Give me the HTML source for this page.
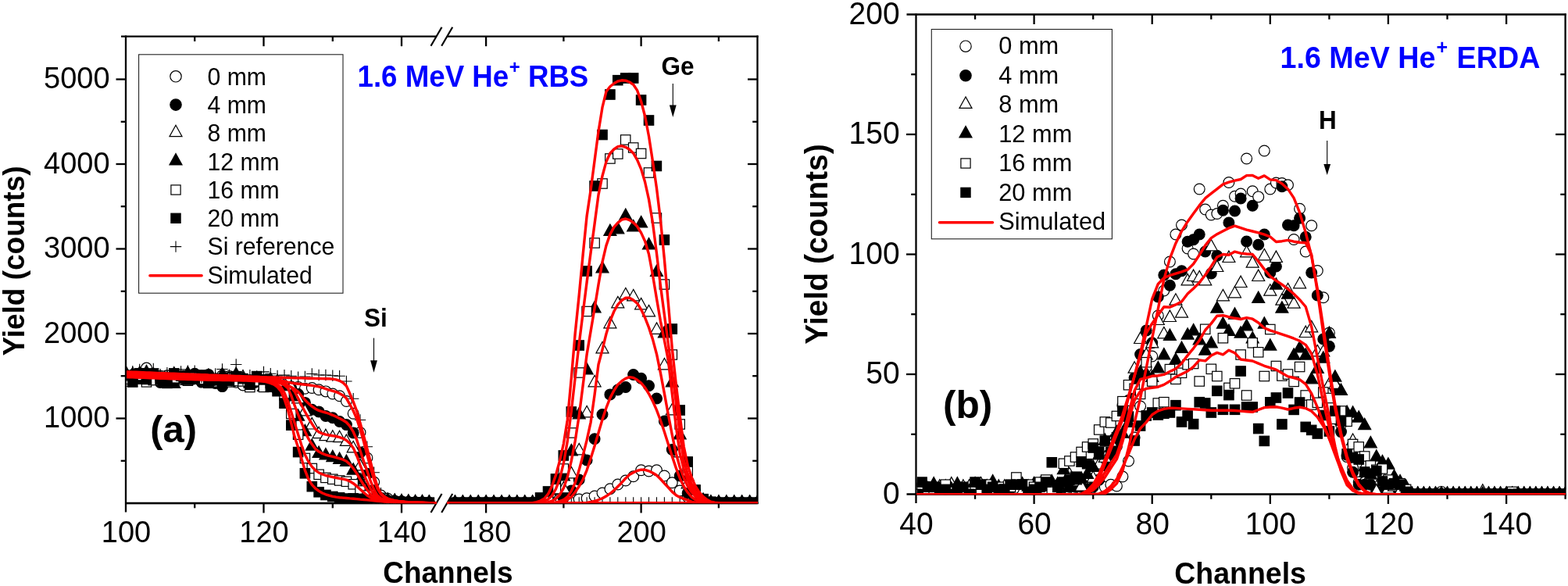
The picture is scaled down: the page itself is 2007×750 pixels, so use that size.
<!DOCTYPE html>
<html lang="en"><head><meta charset="utf-8"><title>RBS and ERDA spectra</title>
<style>
html,body{margin:0;padding:0;background:#fff}
body{width:2007px;height:750px;overflow:hidden}
svg{display:block;font-family:'Liberation Sans', sans-serif}
</style></head><body>
<svg width="2007" height="750" viewBox="0 0 2007 750">
<rect width="2007" height="750" fill="#fff"/>
<g id="panel-a">
<clipPath id="ca"><rect x="162.1" y="47.8" width="807.9" height="596.6"/></clipPath>
<line x1="161" y1="45.6" x2="161" y2="655.5" stroke="#000" stroke-width="2.3" stroke-linecap="butt"/><line x1="969.5" y1="45.6" x2="969.5" y2="645.1" stroke="#000" stroke-width="2.3" stroke-linecap="butt"/><line x1="155" y1="46.7" x2="558.5" y2="46.7" stroke="#000" stroke-width="2.3" stroke-linecap="butt"/><line x1="572" y1="46.7" x2="970.6" y2="46.7" stroke="#000" stroke-width="2.3" stroke-linecap="butt"/><line x1="161" y1="644" x2="558.5" y2="644" stroke="#000" stroke-width="2.3" stroke-linecap="butt"/><line x1="572" y1="644" x2="970.6" y2="644" stroke="#000" stroke-width="2.3" stroke-linecap="butt"/><line x1="551.5" y1="58.7" x2="565.5" y2="34.7" stroke="#000" stroke-width="2.2" stroke-linecap="butt"/><line x1="565.2" y1="58.7" x2="579.2" y2="34.7" stroke="#000" stroke-width="2.2" stroke-linecap="butt"/><line x1="551.5" y1="656" x2="565.5" y2="632" stroke="#000" stroke-width="2.2" stroke-linecap="butt"/><line x1="565.2" y1="656" x2="579.2" y2="632" stroke="#000" stroke-width="2.2" stroke-linecap="butt"/><line x1="154.7" y1="589.8" x2="161" y2="589.8" stroke="#000" stroke-width="2.3" stroke-linecap="butt"/><line x1="963.2" y1="589.8" x2="969.5" y2="589.8" stroke="#000" stroke-width="2.3" stroke-linecap="butt"/><line x1="148.5" y1="535.5" x2="161" y2="535.5" stroke="#000" stroke-width="2.3" stroke-linecap="butt"/><line x1="957" y1="535.5" x2="969.5" y2="535.5" stroke="#000" stroke-width="2.3" stroke-linecap="butt"/><text transform="translate(140.6,547.1) scale(1,1.045)" font-size="38.0" font-weight="normal" text-anchor="end" fill="#000">1000</text><line x1="154.7" y1="481.2" x2="161" y2="481.2" stroke="#000" stroke-width="2.3" stroke-linecap="butt"/><line x1="963.2" y1="481.2" x2="969.5" y2="481.2" stroke="#000" stroke-width="2.3" stroke-linecap="butt"/><line x1="148.5" y1="427" x2="161" y2="427" stroke="#000" stroke-width="2.3" stroke-linecap="butt"/><line x1="957" y1="427" x2="969.5" y2="427" stroke="#000" stroke-width="2.3" stroke-linecap="butt"/><text transform="translate(140.6,438.6) scale(1,1.045)" font-size="38.0" font-weight="normal" text-anchor="end" fill="#000">2000</text><line x1="154.7" y1="372.8" x2="161" y2="372.8" stroke="#000" stroke-width="2.3" stroke-linecap="butt"/><line x1="963.2" y1="372.8" x2="969.5" y2="372.8" stroke="#000" stroke-width="2.3" stroke-linecap="butt"/><line x1="148.5" y1="318.5" x2="161" y2="318.5" stroke="#000" stroke-width="2.3" stroke-linecap="butt"/><line x1="957" y1="318.5" x2="969.5" y2="318.5" stroke="#000" stroke-width="2.3" stroke-linecap="butt"/><text transform="translate(140.6,330.1) scale(1,1.045)" font-size="38.0" font-weight="normal" text-anchor="end" fill="#000">3000</text><line x1="154.7" y1="264.2" x2="161" y2="264.2" stroke="#000" stroke-width="2.3" stroke-linecap="butt"/><line x1="963.2" y1="264.2" x2="969.5" y2="264.2" stroke="#000" stroke-width="2.3" stroke-linecap="butt"/><line x1="148.5" y1="210" x2="161" y2="210" stroke="#000" stroke-width="2.3" stroke-linecap="butt"/><line x1="957" y1="210" x2="969.5" y2="210" stroke="#000" stroke-width="2.3" stroke-linecap="butt"/><text transform="translate(140.6,221.6) scale(1,1.045)" font-size="38.0" font-weight="normal" text-anchor="end" fill="#000">4000</text><line x1="154.7" y1="155.8" x2="161" y2="155.8" stroke="#000" stroke-width="2.3" stroke-linecap="butt"/><line x1="963.2" y1="155.8" x2="969.5" y2="155.8" stroke="#000" stroke-width="2.3" stroke-linecap="butt"/><line x1="148.5" y1="101.5" x2="161" y2="101.5" stroke="#000" stroke-width="2.3" stroke-linecap="butt"/><line x1="957" y1="101.5" x2="969.5" y2="101.5" stroke="#000" stroke-width="2.3" stroke-linecap="butt"/><text transform="translate(140.6,113.1) scale(1,1.045)" font-size="38.0" font-weight="normal" text-anchor="end" fill="#000">5000</text><text transform="translate(161.5,694) scale(1,1.045)" font-size="38.0" font-weight="normal" text-anchor="middle" fill="#000">100</text><line x1="249.2" y1="644" x2="249.2" y2="650.3" stroke="#000" stroke-width="2.3" stroke-linecap="butt"/><line x1="249.2" y1="46.7" x2="249.2" y2="53" stroke="#000" stroke-width="2.3" stroke-linecap="butt"/><line x1="337.5" y1="644" x2="337.5" y2="656.5" stroke="#000" stroke-width="2.3" stroke-linecap="butt"/><line x1="337.5" y1="46.7" x2="337.5" y2="59.2" stroke="#000" stroke-width="2.3" stroke-linecap="butt"/><text transform="translate(338,694) scale(1,1.045)" font-size="38.0" font-weight="normal" text-anchor="middle" fill="#000">120</text><line x1="425.8" y1="644" x2="425.8" y2="650.3" stroke="#000" stroke-width="2.3" stroke-linecap="butt"/><line x1="425.8" y1="46.7" x2="425.8" y2="53" stroke="#000" stroke-width="2.3" stroke-linecap="butt"/><line x1="514" y1="644" x2="514" y2="656.5" stroke="#000" stroke-width="2.3" stroke-linecap="butt"/><line x1="514" y1="46.7" x2="514" y2="59.2" stroke="#000" stroke-width="2.3" stroke-linecap="butt"/><text transform="translate(514.5,694) scale(1,1.045)" font-size="38.0" font-weight="normal" text-anchor="middle" fill="#000">140</text><line x1="622.1" y1="644" x2="622.1" y2="656.5" stroke="#000" stroke-width="2.3" stroke-linecap="butt"/><line x1="622.1" y1="46.7" x2="622.1" y2="59.2" stroke="#000" stroke-width="2.3" stroke-linecap="butt"/><text transform="translate(622.6,694) scale(1,1.045)" font-size="38.0" font-weight="normal" text-anchor="middle" fill="#000">180</text><line x1="721.4" y1="644" x2="721.4" y2="650.3" stroke="#000" stroke-width="2.3" stroke-linecap="butt"/><line x1="721.4" y1="46.7" x2="721.4" y2="53" stroke="#000" stroke-width="2.3" stroke-linecap="butt"/><line x1="820.6" y1="644" x2="820.6" y2="656.5" stroke="#000" stroke-width="2.3" stroke-linecap="butt"/><line x1="820.6" y1="46.7" x2="820.6" y2="59.2" stroke="#000" stroke-width="2.3" stroke-linecap="butt"/><text transform="translate(821.1,694) scale(1,1.045)" font-size="38.0" font-weight="normal" text-anchor="middle" fill="#000">200</text><line x1="919.9" y1="644" x2="919.9" y2="650.3" stroke="#000" stroke-width="2.3" stroke-linecap="butt"/><line x1="919.9" y1="46.7" x2="919.9" y2="53" stroke="#000" stroke-width="2.3" stroke-linecap="butt"/>
<g clip-path="url(#ca)">
<circle cx="161" cy="487.5" r="6.9" fill="#fff" stroke="#000" stroke-width="1.2"/><circle cx="169.8" cy="479.8" r="6.9" fill="#fff" stroke="#000" stroke-width="1.2"/><circle cx="178.7" cy="479.4" r="6.9" fill="#fff" stroke="#000" stroke-width="1.2"/><circle cx="187.5" cy="471.1" r="6.9" fill="#fff" stroke="#000" stroke-width="1.2"/><circle cx="196.3" cy="482.1" r="6.9" fill="#fff" stroke="#000" stroke-width="1.2"/><circle cx="205.1" cy="481.3" r="6.9" fill="#fff" stroke="#000" stroke-width="1.2"/><circle cx="213.9" cy="480.8" r="6.9" fill="#fff" stroke="#000" stroke-width="1.2"/><circle cx="222.8" cy="484.6" r="6.9" fill="#fff" stroke="#000" stroke-width="1.2"/><circle cx="231.6" cy="485.4" r="6.9" fill="#fff" stroke="#000" stroke-width="1.2"/><circle cx="240.4" cy="479.8" r="6.9" fill="#fff" stroke="#000" stroke-width="1.2"/><circle cx="249.2" cy="480.9" r="6.9" fill="#fff" stroke="#000" stroke-width="1.2"/><circle cx="258.1" cy="482.9" r="6.9" fill="#fff" stroke="#000" stroke-width="1.2"/><circle cx="266.9" cy="487.9" r="6.9" fill="#fff" stroke="#000" stroke-width="1.2"/><circle cx="275.7" cy="487.7" r="6.9" fill="#fff" stroke="#000" stroke-width="1.2"/><circle cx="284.5" cy="480.5" r="6.9" fill="#fff" stroke="#000" stroke-width="1.2"/><circle cx="293.4" cy="481.5" r="6.9" fill="#fff" stroke="#000" stroke-width="1.2"/><circle cx="302.2" cy="489.2" r="6.9" fill="#fff" stroke="#000" stroke-width="1.2"/><circle cx="311" cy="492.9" r="6.9" fill="#fff" stroke="#000" stroke-width="1.2"/><circle cx="319.9" cy="486.8" r="6.9" fill="#fff" stroke="#000" stroke-width="1.2"/><circle cx="328.7" cy="484.6" r="6.9" fill="#fff" stroke="#000" stroke-width="1.2"/><circle cx="337.5" cy="492.2" r="6.9" fill="#fff" stroke="#000" stroke-width="1.2"/><circle cx="346.3" cy="488.1" r="6.9" fill="#fff" stroke="#000" stroke-width="1.2"/><circle cx="355.1" cy="490.9" r="6.9" fill="#fff" stroke="#000" stroke-width="1.2"/><circle cx="364" cy="494.2" r="6.9" fill="#fff" stroke="#000" stroke-width="1.2"/><circle cx="372.8" cy="494.9" r="6.9" fill="#fff" stroke="#000" stroke-width="1.2"/><circle cx="381.6" cy="495.4" r="6.9" fill="#fff" stroke="#000" stroke-width="1.2"/><circle cx="390.4" cy="497.3" r="6.9" fill="#fff" stroke="#000" stroke-width="1.2"/><circle cx="399.3" cy="496.5" r="6.9" fill="#fff" stroke="#000" stroke-width="1.2"/><circle cx="408.1" cy="498.7" r="6.9" fill="#fff" stroke="#000" stroke-width="1.2"/><circle cx="416.9" cy="500.9" r="6.9" fill="#fff" stroke="#000" stroke-width="1.2"/><circle cx="425.8" cy="504" r="6.9" fill="#fff" stroke="#000" stroke-width="1.2"/><circle cx="434.6" cy="506.7" r="6.9" fill="#fff" stroke="#000" stroke-width="1.2"/><circle cx="443.4" cy="513.5" r="6.9" fill="#fff" stroke="#000" stroke-width="1.2"/><circle cx="452.2" cy="529.2" r="6.9" fill="#fff" stroke="#000" stroke-width="1.2"/><circle cx="461" cy="553.5" r="6.9" fill="#fff" stroke="#000" stroke-width="1.2"/><circle cx="469.9" cy="586" r="6.9" fill="#fff" stroke="#000" stroke-width="1.2"/><circle cx="478.7" cy="617.1" r="6.9" fill="#fff" stroke="#000" stroke-width="1.2"/><circle cx="487.5" cy="634" r="6.9" fill="#fff" stroke="#000" stroke-width="1.2"/><circle cx="496.3" cy="638.2" r="6.9" fill="#fff" stroke="#000" stroke-width="1.2"/><circle cx="505.2" cy="640.9" r="6.9" fill="#fff" stroke="#000" stroke-width="1.2"/><circle cx="514" cy="641.7" r="6.9" fill="#fff" stroke="#000" stroke-width="1.2"/><circle cx="522.8" cy="642.5" r="6.9" fill="#fff" stroke="#000" stroke-width="1.2"/><circle cx="531.6" cy="643" r="6.9" fill="#fff" stroke="#000" stroke-width="1.2"/><circle cx="540.5" cy="643.3" r="6.9" fill="#fff" stroke="#000" stroke-width="1.2"/><circle cx="549.3" cy="643.5" r="6.9" fill="#fff" stroke="#000" stroke-width="1.2"/><circle cx="582.4" cy="643.5" r="6.9" fill="#fff" stroke="#000" stroke-width="1.2"/><circle cx="592.3" cy="643.5" r="6.9" fill="#fff" stroke="#000" stroke-width="1.2"/><circle cx="602.2" cy="643.5" r="6.9" fill="#fff" stroke="#000" stroke-width="1.2"/><circle cx="612.2" cy="643.5" r="6.9" fill="#fff" stroke="#000" stroke-width="1.2"/><circle cx="622.1" cy="643.5" r="6.9" fill="#fff" stroke="#000" stroke-width="1.2"/><circle cx="632" cy="643.5" r="6.9" fill="#fff" stroke="#000" stroke-width="1.2"/><circle cx="642" cy="643.5" r="6.9" fill="#fff" stroke="#000" stroke-width="1.2"/><circle cx="651.9" cy="643.5" r="6.9" fill="#fff" stroke="#000" stroke-width="1.2"/><circle cx="661.8" cy="643.5" r="6.9" fill="#fff" stroke="#000" stroke-width="1.2"/><circle cx="671.7" cy="643.5" r="6.9" fill="#fff" stroke="#000" stroke-width="1.2"/><circle cx="681.6" cy="643.5" r="6.9" fill="#fff" stroke="#000" stroke-width="1.2"/><circle cx="691.6" cy="643.5" r="6.9" fill="#fff" stroke="#000" stroke-width="1.2"/><circle cx="701.5" cy="643.5" r="6.9" fill="#fff" stroke="#000" stroke-width="1.2"/><circle cx="711.4" cy="643.5" r="6.9" fill="#fff" stroke="#000" stroke-width="1.2"/><circle cx="721.4" cy="643.5" r="6.9" fill="#fff" stroke="#000" stroke-width="1.2"/><circle cx="731.3" cy="643.5" r="6.9" fill="#fff" stroke="#000" stroke-width="1.2"/><circle cx="741.2" cy="639" r="6.9" fill="#fff" stroke="#000" stroke-width="1.2"/><circle cx="751.1" cy="637.7" r="6.9" fill="#fff" stroke="#000" stroke-width="1.2"/><circle cx="761.1" cy="635" r="6.9" fill="#fff" stroke="#000" stroke-width="1.2"/><circle cx="771" cy="631" r="6.9" fill="#fff" stroke="#000" stroke-width="1.2"/><circle cx="780.9" cy="625.7" r="6.9" fill="#fff" stroke="#000" stroke-width="1.2"/><circle cx="790.8" cy="620" r="6.9" fill="#fff" stroke="#000" stroke-width="1.2"/><circle cx="800.8" cy="615" r="6.9" fill="#fff" stroke="#000" stroke-width="1.2"/><circle cx="810.7" cy="609.7" r="6.9" fill="#fff" stroke="#000" stroke-width="1.2"/><circle cx="820.6" cy="601.7" r="6.9" fill="#fff" stroke="#000" stroke-width="1.2"/><circle cx="830.5" cy="603" r="6.9" fill="#fff" stroke="#000" stroke-width="1.2"/><circle cx="840.5" cy="601.7" r="6.9" fill="#fff" stroke="#000" stroke-width="1.2"/><circle cx="850.4" cy="609" r="6.9" fill="#fff" stroke="#000" stroke-width="1.2"/><circle cx="860.3" cy="617.7" r="6.9" fill="#fff" stroke="#000" stroke-width="1.2"/><circle cx="870.2" cy="628" r="6.9" fill="#fff" stroke="#000" stroke-width="1.2"/><circle cx="880.2" cy="636" r="6.9" fill="#fff" stroke="#000" stroke-width="1.2"/><circle cx="890.1" cy="640" r="6.9" fill="#fff" stroke="#000" stroke-width="1.2"/><circle cx="900" cy="643.5" r="6.9" fill="#fff" stroke="#000" stroke-width="1.2"/><circle cx="909.9" cy="643.5" r="6.9" fill="#fff" stroke="#000" stroke-width="1.2"/><circle cx="919.9" cy="643.5" r="6.9" fill="#fff" stroke="#000" stroke-width="1.2"/><circle cx="929.8" cy="643.5" r="6.9" fill="#fff" stroke="#000" stroke-width="1.2"/><circle cx="939.7" cy="643.5" r="6.9" fill="#fff" stroke="#000" stroke-width="1.2"/><circle cx="949.6" cy="643.5" r="6.9" fill="#fff" stroke="#000" stroke-width="1.2"/><circle cx="959.6" cy="643.5" r="6.9" fill="#fff" stroke="#000" stroke-width="1.2"/><circle cx="969.5" cy="643.5" r="6.9" fill="#fff" stroke="#000" stroke-width="1.2"/>
<circle cx="161" cy="480.3" r="6.9" fill="#000" stroke="#000" stroke-width="1.2"/><circle cx="169.8" cy="484.5" r="6.9" fill="#000" stroke="#000" stroke-width="1.2"/><circle cx="178.7" cy="484.6" r="6.9" fill="#000" stroke="#000" stroke-width="1.2"/><circle cx="187.5" cy="485.6" r="6.9" fill="#000" stroke="#000" stroke-width="1.2"/><circle cx="196.3" cy="485.1" r="6.9" fill="#000" stroke="#000" stroke-width="1.2"/><circle cx="205.1" cy="489.4" r="6.9" fill="#000" stroke="#000" stroke-width="1.2"/><circle cx="213.9" cy="488.4" r="6.9" fill="#000" stroke="#000" stroke-width="1.2"/><circle cx="222.8" cy="487.2" r="6.9" fill="#000" stroke="#000" stroke-width="1.2"/><circle cx="231.6" cy="482.4" r="6.9" fill="#000" stroke="#000" stroke-width="1.2"/><circle cx="240.4" cy="482.7" r="6.9" fill="#000" stroke="#000" stroke-width="1.2"/><circle cx="249.2" cy="478.3" r="6.9" fill="#000" stroke="#000" stroke-width="1.2"/><circle cx="258.1" cy="489.1" r="6.9" fill="#000" stroke="#000" stroke-width="1.2"/><circle cx="266.9" cy="479.4" r="6.9" fill="#000" stroke="#000" stroke-width="1.2"/><circle cx="275.7" cy="490.5" r="6.9" fill="#000" stroke="#000" stroke-width="1.2"/><circle cx="284.5" cy="494.6" r="6.9" fill="#000" stroke="#000" stroke-width="1.2"/><circle cx="293.4" cy="483.3" r="6.9" fill="#000" stroke="#000" stroke-width="1.2"/><circle cx="302.2" cy="485.1" r="6.9" fill="#000" stroke="#000" stroke-width="1.2"/><circle cx="311" cy="486.3" r="6.9" fill="#000" stroke="#000" stroke-width="1.2"/><circle cx="319.9" cy="491.9" r="6.9" fill="#000" stroke="#000" stroke-width="1.2"/><circle cx="328.7" cy="485.7" r="6.9" fill="#000" stroke="#000" stroke-width="1.2"/><circle cx="337.5" cy="489.3" r="6.9" fill="#000" stroke="#000" stroke-width="1.2"/><circle cx="346.3" cy="489" r="6.9" fill="#000" stroke="#000" stroke-width="1.2"/><circle cx="355.1" cy="491.3" r="6.9" fill="#000" stroke="#000" stroke-width="1.2"/><circle cx="364" cy="496.1" r="6.9" fill="#000" stroke="#000" stroke-width="1.2"/><circle cx="372.8" cy="497.1" r="6.9" fill="#000" stroke="#000" stroke-width="1.2"/><circle cx="381.6" cy="504.5" r="6.9" fill="#000" stroke="#000" stroke-width="1.2"/><circle cx="390.4" cy="515.4" r="6.9" fill="#000" stroke="#000" stroke-width="1.2"/><circle cx="399.3" cy="524.2" r="6.9" fill="#000" stroke="#000" stroke-width="1.2"/><circle cx="408.1" cy="526.9" r="6.9" fill="#000" stroke="#000" stroke-width="1.2"/><circle cx="416.9" cy="532.4" r="6.9" fill="#000" stroke="#000" stroke-width="1.2"/><circle cx="425.8" cy="534.8" r="6.9" fill="#000" stroke="#000" stroke-width="1.2"/><circle cx="434.6" cy="539.5" r="6.9" fill="#000" stroke="#000" stroke-width="1.2"/><circle cx="443.4" cy="543.6" r="6.9" fill="#000" stroke="#000" stroke-width="1.2"/><circle cx="452.2" cy="553.9" r="6.9" fill="#000" stroke="#000" stroke-width="1.2"/><circle cx="461" cy="579.1" r="6.9" fill="#000" stroke="#000" stroke-width="1.2"/><circle cx="469.9" cy="606.3" r="6.9" fill="#000" stroke="#000" stroke-width="1.2"/><circle cx="478.7" cy="627.8" r="6.9" fill="#000" stroke="#000" stroke-width="1.2"/><circle cx="487.5" cy="637.8" r="6.9" fill="#000" stroke="#000" stroke-width="1.2"/><circle cx="496.3" cy="640.6" r="6.9" fill="#000" stroke="#000" stroke-width="1.2"/><circle cx="505.2" cy="641.5" r="6.9" fill="#000" stroke="#000" stroke-width="1.2"/><circle cx="514" cy="641.9" r="6.9" fill="#000" stroke="#000" stroke-width="1.2"/><circle cx="522.8" cy="642.9" r="6.9" fill="#000" stroke="#000" stroke-width="1.2"/><circle cx="531.6" cy="642.8" r="6.9" fill="#000" stroke="#000" stroke-width="1.2"/><circle cx="540.5" cy="643.1" r="6.9" fill="#000" stroke="#000" stroke-width="1.2"/><circle cx="549.3" cy="643.5" r="6.9" fill="#000" stroke="#000" stroke-width="1.2"/><circle cx="582.4" cy="643.5" r="6.9" fill="#000" stroke="#000" stroke-width="1.2"/><circle cx="592.3" cy="643.5" r="6.9" fill="#000" stroke="#000" stroke-width="1.2"/><circle cx="602.2" cy="643.5" r="6.9" fill="#000" stroke="#000" stroke-width="1.2"/><circle cx="612.2" cy="643.5" r="6.9" fill="#000" stroke="#000" stroke-width="1.2"/><circle cx="622.1" cy="643.5" r="6.9" fill="#000" stroke="#000" stroke-width="1.2"/><circle cx="632" cy="643.5" r="6.9" fill="#000" stroke="#000" stroke-width="1.2"/><circle cx="642" cy="643.5" r="6.9" fill="#000" stroke="#000" stroke-width="1.2"/><circle cx="651.9" cy="643.5" r="6.9" fill="#000" stroke="#000" stroke-width="1.2"/><circle cx="661.8" cy="643.5" r="6.9" fill="#000" stroke="#000" stroke-width="1.2"/><circle cx="671.7" cy="643.5" r="6.9" fill="#000" stroke="#000" stroke-width="1.2"/><circle cx="681.6" cy="643.5" r="6.9" fill="#000" stroke="#000" stroke-width="1.2"/><circle cx="691.6" cy="643.5" r="6.9" fill="#000" stroke="#000" stroke-width="1.2"/><circle cx="701.5" cy="643.5" r="6.9" fill="#000" stroke="#000" stroke-width="1.2"/><circle cx="711.4" cy="643.5" r="6.9" fill="#000" stroke="#000" stroke-width="1.2"/><circle cx="721.4" cy="637" r="6.9" fill="#000" stroke="#000" stroke-width="1.2"/><circle cx="731.3" cy="628" r="6.9" fill="#000" stroke="#000" stroke-width="1.2"/><circle cx="741.2" cy="614" r="6.9" fill="#000" stroke="#000" stroke-width="1.2"/><circle cx="751.1" cy="589" r="6.9" fill="#000" stroke="#000" stroke-width="1.2"/><circle cx="761.1" cy="561.7" r="6.9" fill="#000" stroke="#000" stroke-width="1.2"/><circle cx="771" cy="530.5" r="6.9" fill="#000" stroke="#000" stroke-width="1.2"/><circle cx="780.9" cy="504.9" r="6.9" fill="#000" stroke="#000" stroke-width="1.2"/><circle cx="790.8" cy="499" r="6.9" fill="#000" stroke="#000" stroke-width="1.2"/><circle cx="800.8" cy="495.5" r="6.9" fill="#000" stroke="#000" stroke-width="1.2"/><circle cx="810.7" cy="479.5" r="6.9" fill="#000" stroke="#000" stroke-width="1.2"/><circle cx="820.6" cy="484.3" r="6.9" fill="#000" stroke="#000" stroke-width="1.2"/><circle cx="830.5" cy="493.7" r="6.9" fill="#000" stroke="#000" stroke-width="1.2"/><circle cx="840.5" cy="510" r="6.9" fill="#000" stroke="#000" stroke-width="1.2"/><circle cx="850.4" cy="539" r="6.9" fill="#000" stroke="#000" stroke-width="1.2"/><circle cx="860.3" cy="575.5" r="6.9" fill="#000" stroke="#000" stroke-width="1.2"/><circle cx="870.2" cy="609" r="6.9" fill="#000" stroke="#000" stroke-width="1.2"/><circle cx="880.2" cy="631" r="6.9" fill="#000" stroke="#000" stroke-width="1.2"/><circle cx="890.1" cy="639.6" r="6.9" fill="#000" stroke="#000" stroke-width="1.2"/><circle cx="900" cy="643.2" r="6.9" fill="#000" stroke="#000" stroke-width="1.2"/><circle cx="909.9" cy="643.5" r="6.9" fill="#000" stroke="#000" stroke-width="1.2"/><circle cx="919.9" cy="643.5" r="6.9" fill="#000" stroke="#000" stroke-width="1.2"/><circle cx="929.8" cy="643.5" r="6.9" fill="#000" stroke="#000" stroke-width="1.2"/><circle cx="939.7" cy="643.5" r="6.9" fill="#000" stroke="#000" stroke-width="1.2"/><circle cx="949.6" cy="643.5" r="6.9" fill="#000" stroke="#000" stroke-width="1.2"/><circle cx="959.6" cy="643.5" r="6.9" fill="#000" stroke="#000" stroke-width="1.2"/><circle cx="969.5" cy="643.5" r="6.9" fill="#000" stroke="#000" stroke-width="1.2"/>
<path d="M161 472.2L169 486.6L153 486.6Z" fill="#fff" stroke="#000" stroke-width="1.2"/><path d="M169.8 470.8L177.8 485.2L161.8 485.2Z" fill="#fff" stroke="#000" stroke-width="1.2"/><path d="M178.7 472.4L186.7 486.8L170.7 486.8Z" fill="#fff" stroke="#000" stroke-width="1.2"/><path d="M187.5 467.2L195.5 481.6L179.5 481.6Z" fill="#fff" stroke="#000" stroke-width="1.2"/><path d="M196.3 477.5L204.3 491.9L188.3 491.9Z" fill="#fff" stroke="#000" stroke-width="1.2"/><path d="M205.1 475.4L213.1 489.8L197.1 489.8Z" fill="#fff" stroke="#000" stroke-width="1.2"/><path d="M213.9 475L221.9 489.4L205.9 489.4Z" fill="#fff" stroke="#000" stroke-width="1.2"/><path d="M222.8 469.6L230.8 484L214.8 484Z" fill="#fff" stroke="#000" stroke-width="1.2"/><path d="M231.6 472.3L239.6 486.7L223.6 486.7Z" fill="#fff" stroke="#000" stroke-width="1.2"/><path d="M240.4 477.6L248.4 492L232.4 492Z" fill="#fff" stroke="#000" stroke-width="1.2"/><path d="M249.2 476.9L257.2 491.3L241.2 491.3Z" fill="#fff" stroke="#000" stroke-width="1.2"/><path d="M258.1 474.2L266.1 488.6L250.1 488.6Z" fill="#fff" stroke="#000" stroke-width="1.2"/><path d="M266.9 478.6L274.9 493L258.9 493Z" fill="#fff" stroke="#000" stroke-width="1.2"/><path d="M275.7 480.6L283.7 495L267.7 495Z" fill="#fff" stroke="#000" stroke-width="1.2"/><path d="M284.5 474.4L292.5 488.8L276.5 488.8Z" fill="#fff" stroke="#000" stroke-width="1.2"/><path d="M293.4 475.3L301.4 489.7L285.4 489.7Z" fill="#fff" stroke="#000" stroke-width="1.2"/><path d="M302.2 474.3L310.2 488.7L294.2 488.7Z" fill="#fff" stroke="#000" stroke-width="1.2"/><path d="M311 473.5L319 487.9L303 487.9Z" fill="#fff" stroke="#000" stroke-width="1.2"/><path d="M319.9 481.8L327.9 496.2L311.9 496.2Z" fill="#fff" stroke="#000" stroke-width="1.2"/><path d="M328.7 481.1L336.7 495.5L320.7 495.5Z" fill="#fff" stroke="#000" stroke-width="1.2"/><path d="M337.5 481.1L345.5 495.5L329.5 495.5Z" fill="#fff" stroke="#000" stroke-width="1.2"/><path d="M346.3 477.3L354.3 491.7L338.3 491.7Z" fill="#fff" stroke="#000" stroke-width="1.2"/><path d="M355.1 478.9L363.1 493.3L347.1 493.3Z" fill="#fff" stroke="#000" stroke-width="1.2"/><path d="M364 482.5L372 496.9L356 496.9Z" fill="#fff" stroke="#000" stroke-width="1.2"/><path d="M372.8 486.7L380.8 501.1L364.8 501.1Z" fill="#fff" stroke="#000" stroke-width="1.2"/><path d="M381.6 501.4L389.6 515.8L373.6 515.8Z" fill="#fff" stroke="#000" stroke-width="1.2"/><path d="M390.4 517.5L398.4 531.9L382.4 531.9Z" fill="#fff" stroke="#000" stroke-width="1.2"/><path d="M399.3 534.6L407.3 549L391.3 549Z" fill="#fff" stroke="#000" stroke-width="1.2"/><path d="M408.1 546.2L416.1 560.6L400.1 560.6Z" fill="#fff" stroke="#000" stroke-width="1.2"/><path d="M416.9 549.3L424.9 563.7L408.9 563.7Z" fill="#fff" stroke="#000" stroke-width="1.2"/><path d="M425.8 550.8L433.8 565.2L417.8 565.2Z" fill="#fff" stroke="#000" stroke-width="1.2"/><path d="M434.6 551.2L442.6 565.6L426.6 565.6Z" fill="#fff" stroke="#000" stroke-width="1.2"/><path d="M443.4 556L451.4 570.4L435.4 570.4Z" fill="#fff" stroke="#000" stroke-width="1.2"/><path d="M452.2 564.5L460.2 578.9L444.2 578.9Z" fill="#fff" stroke="#000" stroke-width="1.2"/><path d="M461 587.4L469 601.8L453 601.8Z" fill="#fff" stroke="#000" stroke-width="1.2"/><path d="M469.9 607.3L477.9 621.7L461.9 621.7Z" fill="#fff" stroke="#000" stroke-width="1.2"/><path d="M478.7 623.1L486.7 637.5L470.7 637.5Z" fill="#fff" stroke="#000" stroke-width="1.2"/><path d="M487.5 629.1L495.5 643.5L479.5 643.5Z" fill="#fff" stroke="#000" stroke-width="1.2"/><path d="M496.3 631.2L504.3 645.6L488.3 645.6Z" fill="#fff" stroke="#000" stroke-width="1.2"/><path d="M505.2 631.9L513.2 646.3L497.2 646.3Z" fill="#fff" stroke="#000" stroke-width="1.2"/><path d="M514 632.5L522 646.9L506 646.9Z" fill="#fff" stroke="#000" stroke-width="1.2"/><path d="M522.8 632.9L530.8 647.3L514.8 647.3Z" fill="#fff" stroke="#000" stroke-width="1.2"/><path d="M531.6 633.5L539.6 647.9L523.6 647.9Z" fill="#fff" stroke="#000" stroke-width="1.2"/><path d="M540.5 633.5L548.5 647.9L532.5 647.9Z" fill="#fff" stroke="#000" stroke-width="1.2"/><path d="M549.3 633.9L557.3 648.3L541.3 648.3Z" fill="#fff" stroke="#000" stroke-width="1.2"/><path d="M582.4 633.9L590.4 648.3L574.4 648.3Z" fill="#fff" stroke="#000" stroke-width="1.2"/><path d="M592.3 633.9L600.3 648.3L584.3 648.3Z" fill="#fff" stroke="#000" stroke-width="1.2"/><path d="M602.2 633.9L610.2 648.3L594.2 648.3Z" fill="#fff" stroke="#000" stroke-width="1.2"/><path d="M612.2 633.9L620.2 648.3L604.2 648.3Z" fill="#fff" stroke="#000" stroke-width="1.2"/><path d="M622.1 633.9L630.1 648.3L614.1 648.3Z" fill="#fff" stroke="#000" stroke-width="1.2"/><path d="M632 633.9L640 648.3L624 648.3Z" fill="#fff" stroke="#000" stroke-width="1.2"/><path d="M642 633.9L650 648.3L634 648.3Z" fill="#fff" stroke="#000" stroke-width="1.2"/><path d="M651.9 633.9L659.9 648.3L643.9 648.3Z" fill="#fff" stroke="#000" stroke-width="1.2"/><path d="M661.8 633.9L669.8 648.3L653.8 648.3Z" fill="#fff" stroke="#000" stroke-width="1.2"/><path d="M671.7 633.9L679.7 648.3L663.7 648.3Z" fill="#fff" stroke="#000" stroke-width="1.2"/><path d="M681.6 633.9L689.6 648.3L673.6 648.3Z" fill="#fff" stroke="#000" stroke-width="1.2"/><path d="M691.6 633.9L699.6 648.3L683.6 648.3Z" fill="#fff" stroke="#000" stroke-width="1.2"/><path d="M701.5 633.9L709.5 648.3L693.5 648.3Z" fill="#fff" stroke="#000" stroke-width="1.2"/><path d="M711.4 633.3L719.4 647.7L703.4 647.7Z" fill="#fff" stroke="#000" stroke-width="1.2"/><path d="M721.4 616.4L729.4 630.8L713.4 630.8Z" fill="#fff" stroke="#000" stroke-width="1.2"/><path d="M731.3 597.4L739.3 611.8L723.3 611.8Z" fill="#fff" stroke="#000" stroke-width="1.2"/><path d="M741.2 567.4L749.2 581.8L733.2 581.8Z" fill="#fff" stroke="#000" stroke-width="1.2"/><path d="M751.1 519.4L759.1 533.8L743.1 533.8Z" fill="#fff" stroke="#000" stroke-width="1.2"/><path d="M761.1 480.4L769.1 494.8L753.1 494.8Z" fill="#fff" stroke="#000" stroke-width="1.2"/><path d="M771 437.4L779 451.8L763 451.8Z" fill="#fff" stroke="#000" stroke-width="1.2"/><path d="M780.9 405.4L788.9 419.8L772.9 419.8Z" fill="#fff" stroke="#000" stroke-width="1.2"/><path d="M790.8 379.4L798.8 393.8L782.8 393.8Z" fill="#fff" stroke="#000" stroke-width="1.2"/><path d="M800.8 368.4L808.8 382.8L792.8 382.8Z" fill="#fff" stroke="#000" stroke-width="1.2"/><path d="M810.7 370.4L818.7 384.8L802.7 384.8Z" fill="#fff" stroke="#000" stroke-width="1.2"/><path d="M820.6 381.4L828.6 395.8L812.6 395.8Z" fill="#fff" stroke="#000" stroke-width="1.2"/><path d="M830.5 390.4L838.5 404.8L822.5 404.8Z" fill="#fff" stroke="#000" stroke-width="1.2"/><path d="M840.5 412.9L848.5 427.3L832.5 427.3Z" fill="#fff" stroke="#000" stroke-width="1.2"/><path d="M850.4 458.4L858.4 472.8L842.4 472.8Z" fill="#fff" stroke="#000" stroke-width="1.2"/><path d="M860.3 516.4L868.3 530.8L852.3 530.8Z" fill="#fff" stroke="#000" stroke-width="1.2"/><path d="M870.2 570.4L878.2 584.8L862.2 584.8Z" fill="#fff" stroke="#000" stroke-width="1.2"/><path d="M880.2 610.4L888.2 624.8L872.2 624.8Z" fill="#fff" stroke="#000" stroke-width="1.2"/><path d="M890.1 625.4L898.1 639.8L882.1 639.8Z" fill="#fff" stroke="#000" stroke-width="1.2"/><path d="M900 632.3L908 646.7L892 646.7Z" fill="#fff" stroke="#000" stroke-width="1.2"/><path d="M909.9 633.9L917.9 648.3L901.9 648.3Z" fill="#fff" stroke="#000" stroke-width="1.2"/><path d="M919.9 633.9L927.9 648.3L911.9 648.3Z" fill="#fff" stroke="#000" stroke-width="1.2"/><path d="M929.8 633.9L937.8 648.3L921.8 648.3Z" fill="#fff" stroke="#000" stroke-width="1.2"/><path d="M939.7 633.9L947.7 648.3L931.7 648.3Z" fill="#fff" stroke="#000" stroke-width="1.2"/><path d="M949.6 633.9L957.6 648.3L941.6 648.3Z" fill="#fff" stroke="#000" stroke-width="1.2"/><path d="M959.6 633.9L967.6 648.3L951.6 648.3Z" fill="#fff" stroke="#000" stroke-width="1.2"/><path d="M969.5 633.9L977.5 648.3L961.5 648.3Z" fill="#fff" stroke="#000" stroke-width="1.2"/>
<path d="M161 467.9L169 482.3L153 482.3Z" fill="#000" stroke="#000" stroke-width="1.2"/><path d="M169.8 470.1L177.8 484.5L161.8 484.5Z" fill="#000" stroke="#000" stroke-width="1.2"/><path d="M178.7 468.9L186.7 483.3L170.7 483.3Z" fill="#000" stroke="#000" stroke-width="1.2"/><path d="M187.5 469.1L195.5 483.5L179.5 483.5Z" fill="#000" stroke="#000" stroke-width="1.2"/><path d="M196.3 470.3L204.3 484.7L188.3 484.7Z" fill="#000" stroke="#000" stroke-width="1.2"/><path d="M205.1 475.9L213.1 490.3L197.1 490.3Z" fill="#000" stroke="#000" stroke-width="1.2"/><path d="M213.9 480.6L221.9 495L205.9 495Z" fill="#000" stroke="#000" stroke-width="1.2"/><path d="M222.8 482L230.8 496.4L214.8 496.4Z" fill="#000" stroke="#000" stroke-width="1.2"/><path d="M231.6 476.3L239.6 490.7L223.6 490.7Z" fill="#000" stroke="#000" stroke-width="1.2"/><path d="M240.4 468.7L248.4 483.1L232.4 483.1Z" fill="#000" stroke="#000" stroke-width="1.2"/><path d="M249.2 476.6L257.2 491L241.2 491Z" fill="#000" stroke="#000" stroke-width="1.2"/><path d="M258.1 475.8L266.1 490.2L250.1 490.2Z" fill="#000" stroke="#000" stroke-width="1.2"/><path d="M266.9 478.8L274.9 493.2L258.9 493.2Z" fill="#000" stroke="#000" stroke-width="1.2"/><path d="M275.7 477.1L283.7 491.5L267.7 491.5Z" fill="#000" stroke="#000" stroke-width="1.2"/><path d="M284.5 470.6L292.5 485L276.5 485Z" fill="#000" stroke="#000" stroke-width="1.2"/><path d="M293.4 479.7L301.4 494.1L285.4 494.1Z" fill="#000" stroke="#000" stroke-width="1.2"/><path d="M302.2 470L310.2 484.4L294.2 484.4Z" fill="#000" stroke="#000" stroke-width="1.2"/><path d="M311 475.8L319 490.2L303 490.2Z" fill="#000" stroke="#000" stroke-width="1.2"/><path d="M319.9 480.1L327.9 494.5L311.9 494.5Z" fill="#000" stroke="#000" stroke-width="1.2"/><path d="M328.7 480.6L336.7 495L320.7 495Z" fill="#000" stroke="#000" stroke-width="1.2"/><path d="M337.5 486L345.5 500.4L329.5 500.4Z" fill="#000" stroke="#000" stroke-width="1.2"/><path d="M346.3 476.7L354.3 491.1L338.3 491.1Z" fill="#000" stroke="#000" stroke-width="1.2"/><path d="M355.1 482.4L363.1 496.8L347.1 496.8Z" fill="#000" stroke="#000" stroke-width="1.2"/><path d="M364 486.3L372 500.7L356 500.7Z" fill="#000" stroke="#000" stroke-width="1.2"/><path d="M372.8 498.4L380.8 512.8L364.8 512.8Z" fill="#000" stroke="#000" stroke-width="1.2"/><path d="M381.6 523.8L389.6 538.2L373.6 538.2Z" fill="#000" stroke="#000" stroke-width="1.2"/><path d="M390.4 543.3L398.4 557.7L382.4 557.7Z" fill="#000" stroke="#000" stroke-width="1.2"/><path d="M399.3 561.7L407.3 576.1L391.3 576.1Z" fill="#000" stroke="#000" stroke-width="1.2"/><path d="M408.1 571L416.1 585.4L400.1 585.4Z" fill="#000" stroke="#000" stroke-width="1.2"/><path d="M416.9 573.6L424.9 588L408.9 588Z" fill="#000" stroke="#000" stroke-width="1.2"/><path d="M425.8 576.2L433.8 590.6L417.8 590.6Z" fill="#000" stroke="#000" stroke-width="1.2"/><path d="M434.6 579L442.6 593.4L426.6 593.4Z" fill="#000" stroke="#000" stroke-width="1.2"/><path d="M443.4 582.1L451.4 596.5L435.4 596.5Z" fill="#000" stroke="#000" stroke-width="1.2"/><path d="M452.2 592.7L460.2 607.1L444.2 607.1Z" fill="#000" stroke="#000" stroke-width="1.2"/><path d="M461 605.6L469 620L453 620Z" fill="#000" stroke="#000" stroke-width="1.2"/><path d="M469.9 618.7L477.9 633.1L461.9 633.1Z" fill="#000" stroke="#000" stroke-width="1.2"/><path d="M478.7 627.4L486.7 641.8L470.7 641.8Z" fill="#000" stroke="#000" stroke-width="1.2"/><path d="M487.5 630.4L495.5 644.8L479.5 644.8Z" fill="#000" stroke="#000" stroke-width="1.2"/><path d="M496.3 631.6L504.3 646L488.3 646Z" fill="#000" stroke="#000" stroke-width="1.2"/><path d="M505.2 632.1L513.2 646.5L497.2 646.5Z" fill="#000" stroke="#000" stroke-width="1.2"/><path d="M514 632.7L522 647.1L506 647.1Z" fill="#000" stroke="#000" stroke-width="1.2"/><path d="M522.8 633.1L530.8 647.5L514.8 647.5Z" fill="#000" stroke="#000" stroke-width="1.2"/><path d="M531.6 633.5L539.6 647.9L523.6 647.9Z" fill="#000" stroke="#000" stroke-width="1.2"/><path d="M540.5 633.6L548.5 648L532.5 648Z" fill="#000" stroke="#000" stroke-width="1.2"/><path d="M549.3 633.8L557.3 648.2L541.3 648.2Z" fill="#000" stroke="#000" stroke-width="1.2"/><path d="M582.4 633.9L590.4 648.3L574.4 648.3Z" fill="#000" stroke="#000" stroke-width="1.2"/><path d="M592.3 633.9L600.3 648.3L584.3 648.3Z" fill="#000" stroke="#000" stroke-width="1.2"/><path d="M602.2 633.9L610.2 648.3L594.2 648.3Z" fill="#000" stroke="#000" stroke-width="1.2"/><path d="M612.2 633.9L620.2 648.3L604.2 648.3Z" fill="#000" stroke="#000" stroke-width="1.2"/><path d="M622.1 633.9L630.1 648.3L614.1 648.3Z" fill="#000" stroke="#000" stroke-width="1.2"/><path d="M632 633.9L640 648.3L624 648.3Z" fill="#000" stroke="#000" stroke-width="1.2"/><path d="M642 633.9L650 648.3L634 648.3Z" fill="#000" stroke="#000" stroke-width="1.2"/><path d="M651.9 633.9L659.9 648.3L643.9 648.3Z" fill="#000" stroke="#000" stroke-width="1.2"/><path d="M661.8 633.9L669.8 648.3L653.8 648.3Z" fill="#000" stroke="#000" stroke-width="1.2"/><path d="M671.7 633.9L679.7 648.3L663.7 648.3Z" fill="#000" stroke="#000" stroke-width="1.2"/><path d="M681.6 633.9L689.6 648.3L673.6 648.3Z" fill="#000" stroke="#000" stroke-width="1.2"/><path d="M691.6 633.9L699.6 648.3L683.6 648.3Z" fill="#000" stroke="#000" stroke-width="1.2"/><path d="M701.5 633.1L709.5 647.5L693.5 647.5Z" fill="#000" stroke="#000" stroke-width="1.2"/><path d="M711.4 618.4L719.4 632.8L703.4 632.8Z" fill="#000" stroke="#000" stroke-width="1.2"/><path d="M721.4 600.4L729.4 614.8L713.4 614.8Z" fill="#000" stroke="#000" stroke-width="1.2"/><path d="M731.3 568.4L739.3 582.8L723.3 582.8Z" fill="#000" stroke="#000" stroke-width="1.2"/><path d="M741.2 521.4L749.2 535.8L733.2 535.8Z" fill="#000" stroke="#000" stroke-width="1.2"/><path d="M751.1 464.4L759.1 478.8L743.1 478.8Z" fill="#000" stroke="#000" stroke-width="1.2"/><path d="M761.1 385.4L769.1 399.8L753.1 399.8Z" fill="#000" stroke="#000" stroke-width="1.2"/><path d="M771 334.4L779 348.8L763 348.8Z" fill="#000" stroke="#000" stroke-width="1.2"/><path d="M780.9 287.1L788.9 301.5L772.9 301.5Z" fill="#000" stroke="#000" stroke-width="1.2"/><path d="M790.8 284.4L798.8 298.8L782.8 298.8Z" fill="#000" stroke="#000" stroke-width="1.2"/><path d="M800.8 267.1L808.8 281.5L792.8 281.5Z" fill="#000" stroke="#000" stroke-width="1.2"/><path d="M810.7 281.4L818.7 295.8L802.7 295.8Z" fill="#000" stroke="#000" stroke-width="1.2"/><path d="M820.6 276.4L828.6 290.8L812.6 290.8Z" fill="#000" stroke="#000" stroke-width="1.2"/><path d="M830.5 304.4L838.5 318.8L822.5 318.8Z" fill="#000" stroke="#000" stroke-width="1.2"/><path d="M840.5 339.1L848.5 353.5L832.5 353.5Z" fill="#000" stroke="#000" stroke-width="1.2"/><path d="M850.4 417.4L858.4 431.8L842.4 431.8Z" fill="#000" stroke="#000" stroke-width="1.2"/><path d="M860.3 480.4L868.3 494.8L852.3 494.8Z" fill="#000" stroke="#000" stroke-width="1.2"/><path d="M870.2 547.4L878.2 561.8L862.2 561.8Z" fill="#000" stroke="#000" stroke-width="1.2"/><path d="M880.2 600.4L888.2 614.8L872.2 614.8Z" fill="#000" stroke="#000" stroke-width="1.2"/><path d="M890.1 624.4L898.1 638.8L882.1 638.8Z" fill="#000" stroke="#000" stroke-width="1.2"/><path d="M900 630.9L908 645.3L892 645.3Z" fill="#000" stroke="#000" stroke-width="1.2"/><path d="M909.9 633.9L917.9 648.3L901.9 648.3Z" fill="#000" stroke="#000" stroke-width="1.2"/><path d="M919.9 633.9L927.9 648.3L911.9 648.3Z" fill="#000" stroke="#000" stroke-width="1.2"/><path d="M929.8 633.9L937.8 648.3L921.8 648.3Z" fill="#000" stroke="#000" stroke-width="1.2"/><path d="M939.7 633.9L947.7 648.3L931.7 648.3Z" fill="#000" stroke="#000" stroke-width="1.2"/><path d="M949.6 633.9L957.6 648.3L941.6 648.3Z" fill="#000" stroke="#000" stroke-width="1.2"/><path d="M959.6 633.9L967.6 648.3L951.6 648.3Z" fill="#000" stroke="#000" stroke-width="1.2"/><path d="M969.5 633.9L977.5 648.3L961.5 648.3Z" fill="#000" stroke="#000" stroke-width="1.2"/>
<rect x="154.8" y="479.1" width="12.4" height="12.4" fill="#fff" stroke="#000" stroke-width="1.2"/><rect x="163.6" y="474.5" width="12.4" height="12.4" fill="#fff" stroke="#000" stroke-width="1.2"/><rect x="172.5" y="471.7" width="12.4" height="12.4" fill="#fff" stroke="#000" stroke-width="1.2"/><rect x="181.3" y="482.7" width="12.4" height="12.4" fill="#fff" stroke="#000" stroke-width="1.2"/><rect x="190.1" y="480.4" width="12.4" height="12.4" fill="#fff" stroke="#000" stroke-width="1.2"/><rect x="198.9" y="475.1" width="12.4" height="12.4" fill="#fff" stroke="#000" stroke-width="1.2"/><rect x="207.8" y="477.1" width="12.4" height="12.4" fill="#fff" stroke="#000" stroke-width="1.2"/><rect x="216.6" y="477.6" width="12.4" height="12.4" fill="#fff" stroke="#000" stroke-width="1.2"/><rect x="225.4" y="473" width="12.4" height="12.4" fill="#fff" stroke="#000" stroke-width="1.2"/><rect x="234.2" y="481" width="12.4" height="12.4" fill="#fff" stroke="#000" stroke-width="1.2"/><rect x="243.1" y="477.1" width="12.4" height="12.4" fill="#fff" stroke="#000" stroke-width="1.2"/><rect x="251.9" y="479.3" width="12.4" height="12.4" fill="#fff" stroke="#000" stroke-width="1.2"/><rect x="260.7" y="483.7" width="12.4" height="12.4" fill="#fff" stroke="#000" stroke-width="1.2"/><rect x="269.5" y="480.5" width="12.4" height="12.4" fill="#fff" stroke="#000" stroke-width="1.2"/><rect x="278.3" y="483.2" width="12.4" height="12.4" fill="#fff" stroke="#000" stroke-width="1.2"/><rect x="287.2" y="482.8" width="12.4" height="12.4" fill="#fff" stroke="#000" stroke-width="1.2"/><rect x="296" y="481.4" width="12.4" height="12.4" fill="#fff" stroke="#000" stroke-width="1.2"/><rect x="304.8" y="481.7" width="12.4" height="12.4" fill="#fff" stroke="#000" stroke-width="1.2"/><rect x="313.7" y="489.3" width="12.4" height="12.4" fill="#fff" stroke="#000" stroke-width="1.2"/><rect x="322.5" y="481.5" width="12.4" height="12.4" fill="#fff" stroke="#000" stroke-width="1.2"/><rect x="331.3" y="489.2" width="12.4" height="12.4" fill="#fff" stroke="#000" stroke-width="1.2"/><rect x="340.1" y="484.3" width="12.4" height="12.4" fill="#fff" stroke="#000" stroke-width="1.2"/><rect x="348.9" y="490.2" width="12.4" height="12.4" fill="#fff" stroke="#000" stroke-width="1.2"/><rect x="357.8" y="499.7" width="12.4" height="12.4" fill="#fff" stroke="#000" stroke-width="1.2"/><rect x="366.6" y="523.3" width="12.4" height="12.4" fill="#fff" stroke="#000" stroke-width="1.2"/><rect x="375.4" y="550" width="12.4" height="12.4" fill="#fff" stroke="#000" stroke-width="1.2"/><rect x="384.2" y="580.3" width="12.4" height="12.4" fill="#fff" stroke="#000" stroke-width="1.2"/><rect x="393.1" y="593.3" width="12.4" height="12.4" fill="#fff" stroke="#000" stroke-width="1.2"/><rect x="401.9" y="601.1" width="12.4" height="12.4" fill="#fff" stroke="#000" stroke-width="1.2"/><rect x="410.7" y="605.2" width="12.4" height="12.4" fill="#fff" stroke="#000" stroke-width="1.2"/><rect x="419.6" y="607.1" width="12.4" height="12.4" fill="#fff" stroke="#000" stroke-width="1.2"/><rect x="428.4" y="608.8" width="12.4" height="12.4" fill="#fff" stroke="#000" stroke-width="1.2"/><rect x="437.2" y="610.1" width="12.4" height="12.4" fill="#fff" stroke="#000" stroke-width="1.2"/><rect x="446" y="613.6" width="12.4" height="12.4" fill="#fff" stroke="#000" stroke-width="1.2"/><rect x="454.8" y="621.8" width="12.4" height="12.4" fill="#fff" stroke="#000" stroke-width="1.2"/><rect x="463.7" y="627.9" width="12.4" height="12.4" fill="#fff" stroke="#000" stroke-width="1.2"/><rect x="472.5" y="632.8" width="12.4" height="12.4" fill="#fff" stroke="#000" stroke-width="1.2"/><rect x="481.3" y="634.6" width="12.4" height="12.4" fill="#fff" stroke="#000" stroke-width="1.2"/><rect x="490.1" y="635.6" width="12.4" height="12.4" fill="#fff" stroke="#000" stroke-width="1.2"/><rect x="499" y="635.9" width="12.4" height="12.4" fill="#fff" stroke="#000" stroke-width="1.2"/><rect x="507.8" y="636.3" width="12.4" height="12.4" fill="#fff" stroke="#000" stroke-width="1.2"/><rect x="516.6" y="636.6" width="12.4" height="12.4" fill="#fff" stroke="#000" stroke-width="1.2"/><rect x="525.4" y="636.6" width="12.4" height="12.4" fill="#fff" stroke="#000" stroke-width="1.2"/><rect x="534.3" y="637" width="12.4" height="12.4" fill="#fff" stroke="#000" stroke-width="1.2"/><rect x="543.1" y="637.1" width="12.4" height="12.4" fill="#fff" stroke="#000" stroke-width="1.2"/><rect x="576.2" y="637.3" width="12.4" height="12.4" fill="#fff" stroke="#000" stroke-width="1.2"/><rect x="586.1" y="637.3" width="12.4" height="12.4" fill="#fff" stroke="#000" stroke-width="1.2"/><rect x="596" y="637.3" width="12.4" height="12.4" fill="#fff" stroke="#000" stroke-width="1.2"/><rect x="606" y="637.3" width="12.4" height="12.4" fill="#fff" stroke="#000" stroke-width="1.2"/><rect x="615.9" y="637.3" width="12.4" height="12.4" fill="#fff" stroke="#000" stroke-width="1.2"/><rect x="625.8" y="637.3" width="12.4" height="12.4" fill="#fff" stroke="#000" stroke-width="1.2"/><rect x="635.8" y="637.3" width="12.4" height="12.4" fill="#fff" stroke="#000" stroke-width="1.2"/><rect x="645.7" y="637.3" width="12.4" height="12.4" fill="#fff" stroke="#000" stroke-width="1.2"/><rect x="655.6" y="637.3" width="12.4" height="12.4" fill="#fff" stroke="#000" stroke-width="1.2"/><rect x="665.5" y="637.3" width="12.4" height="12.4" fill="#fff" stroke="#000" stroke-width="1.2"/><rect x="675.4" y="637.3" width="12.4" height="12.4" fill="#fff" stroke="#000" stroke-width="1.2"/><rect x="685.4" y="636.7" width="12.4" height="12.4" fill="#fff" stroke="#000" stroke-width="1.2"/><rect x="695.3" y="632.9" width="12.4" height="12.4" fill="#fff" stroke="#000" stroke-width="1.2"/><rect x="705.2" y="619.5" width="12.4" height="12.4" fill="#fff" stroke="#000" stroke-width="1.2"/><rect x="715.1" y="593.8" width="12.4" height="12.4" fill="#fff" stroke="#000" stroke-width="1.2"/><rect x="725.1" y="547.8" width="12.4" height="12.4" fill="#fff" stroke="#000" stroke-width="1.2"/><rect x="735" y="470.8" width="12.4" height="12.4" fill="#fff" stroke="#000" stroke-width="1.2"/><rect x="744.9" y="392.3" width="12.4" height="12.4" fill="#fff" stroke="#000" stroke-width="1.2"/><rect x="754.9" y="304.8" width="12.4" height="12.4" fill="#fff" stroke="#000" stroke-width="1.2"/><rect x="764.8" y="228.8" width="12.4" height="12.4" fill="#fff" stroke="#000" stroke-width="1.2"/><rect x="774.7" y="196.8" width="12.4" height="12.4" fill="#fff" stroke="#000" stroke-width="1.2"/><rect x="784.6" y="190.8" width="12.4" height="12.4" fill="#fff" stroke="#000" stroke-width="1.2"/><rect x="794.5" y="172.8" width="12.4" height="12.4" fill="#fff" stroke="#000" stroke-width="1.2"/><rect x="804.5" y="182.8" width="12.4" height="12.4" fill="#fff" stroke="#000" stroke-width="1.2"/><rect x="814.4" y="190.3" width="12.4" height="12.4" fill="#fff" stroke="#000" stroke-width="1.2"/><rect x="824.3" y="214.8" width="12.4" height="12.4" fill="#fff" stroke="#000" stroke-width="1.2"/><rect x="834.2" y="272.8" width="12.4" height="12.4" fill="#fff" stroke="#000" stroke-width="1.2"/><rect x="844.2" y="357.8" width="12.4" height="12.4" fill="#fff" stroke="#000" stroke-width="1.2"/><rect x="854.1" y="447.8" width="12.4" height="12.4" fill="#fff" stroke="#000" stroke-width="1.2"/><rect x="864" y="536.8" width="12.4" height="12.4" fill="#fff" stroke="#000" stroke-width="1.2"/><rect x="874" y="596.8" width="12.4" height="12.4" fill="#fff" stroke="#000" stroke-width="1.2"/><rect x="883.9" y="625.8" width="12.4" height="12.4" fill="#fff" stroke="#000" stroke-width="1.2"/><rect x="893.8" y="632.5" width="12.4" height="12.4" fill="#fff" stroke="#000" stroke-width="1.2"/><rect x="903.7" y="636.7" width="12.4" height="12.4" fill="#fff" stroke="#000" stroke-width="1.2"/><rect x="913.6" y="637.3" width="12.4" height="12.4" fill="#fff" stroke="#000" stroke-width="1.2"/><rect x="923.6" y="637.3" width="12.4" height="12.4" fill="#fff" stroke="#000" stroke-width="1.2"/><rect x="933.5" y="637.3" width="12.4" height="12.4" fill="#fff" stroke="#000" stroke-width="1.2"/><rect x="943.4" y="637.3" width="12.4" height="12.4" fill="#fff" stroke="#000" stroke-width="1.2"/><rect x="953.4" y="637.3" width="12.4" height="12.4" fill="#fff" stroke="#000" stroke-width="1.2"/><rect x="963.3" y="637.3" width="12.4" height="12.4" fill="#fff" stroke="#000" stroke-width="1.2"/>
<rect x="154.8" y="474.4" width="12.4" height="12.4" fill="#000" stroke="#000" stroke-width="1.2"/><rect x="163.6" y="482.8" width="12.4" height="12.4" fill="#000" stroke="#000" stroke-width="1.2"/><rect x="172.5" y="471.7" width="12.4" height="12.4" fill="#000" stroke="#000" stroke-width="1.2"/><rect x="181.3" y="479.3" width="12.4" height="12.4" fill="#000" stroke="#000" stroke-width="1.2"/><rect x="190.1" y="471.9" width="12.4" height="12.4" fill="#000" stroke="#000" stroke-width="1.2"/><rect x="198.9" y="479.3" width="12.4" height="12.4" fill="#000" stroke="#000" stroke-width="1.2"/><rect x="207.8" y="484.2" width="12.4" height="12.4" fill="#000" stroke="#000" stroke-width="1.2"/><rect x="216.6" y="471.7" width="12.4" height="12.4" fill="#000" stroke="#000" stroke-width="1.2"/><rect x="225.4" y="475" width="12.4" height="12.4" fill="#000" stroke="#000" stroke-width="1.2"/><rect x="234.2" y="479.8" width="12.4" height="12.4" fill="#000" stroke="#000" stroke-width="1.2"/><rect x="243.1" y="478.3" width="12.4" height="12.4" fill="#000" stroke="#000" stroke-width="1.2"/><rect x="251.9" y="473.8" width="12.4" height="12.4" fill="#000" stroke="#000" stroke-width="1.2"/><rect x="260.7" y="484.1" width="12.4" height="12.4" fill="#000" stroke="#000" stroke-width="1.2"/><rect x="269.5" y="479.9" width="12.4" height="12.4" fill="#000" stroke="#000" stroke-width="1.2"/><rect x="278.3" y="485" width="12.4" height="12.4" fill="#000" stroke="#000" stroke-width="1.2"/><rect x="287.2" y="481.2" width="12.4" height="12.4" fill="#000" stroke="#000" stroke-width="1.2"/><rect x="296" y="475.5" width="12.4" height="12.4" fill="#000" stroke="#000" stroke-width="1.2"/><rect x="304.8" y="478.4" width="12.4" height="12.4" fill="#000" stroke="#000" stroke-width="1.2"/><rect x="313.7" y="486.1" width="12.4" height="12.4" fill="#000" stroke="#000" stroke-width="1.2"/><rect x="322.5" y="475.4" width="12.4" height="12.4" fill="#000" stroke="#000" stroke-width="1.2"/><rect x="331.3" y="479.7" width="12.4" height="12.4" fill="#000" stroke="#000" stroke-width="1.2"/><rect x="340.1" y="489.1" width="12.4" height="12.4" fill="#000" stroke="#000" stroke-width="1.2"/><rect x="348.9" y="494.5" width="12.4" height="12.4" fill="#000" stroke="#000" stroke-width="1.2"/><rect x="357.8" y="509.9" width="12.4" height="12.4" fill="#000" stroke="#000" stroke-width="1.2"/><rect x="366.6" y="538" width="12.4" height="12.4" fill="#000" stroke="#000" stroke-width="1.2"/><rect x="375.4" y="572.4" width="12.4" height="12.4" fill="#000" stroke="#000" stroke-width="1.2"/><rect x="384.2" y="599.6" width="12.4" height="12.4" fill="#000" stroke="#000" stroke-width="1.2"/><rect x="393.1" y="616.5" width="12.4" height="12.4" fill="#000" stroke="#000" stroke-width="1.2"/><rect x="401.9" y="623.6" width="12.4" height="12.4" fill="#000" stroke="#000" stroke-width="1.2"/><rect x="410.7" y="627.3" width="12.4" height="12.4" fill="#000" stroke="#000" stroke-width="1.2"/><rect x="419.6" y="629.3" width="12.4" height="12.4" fill="#000" stroke="#000" stroke-width="1.2"/><rect x="428.4" y="630.7" width="12.4" height="12.4" fill="#000" stroke="#000" stroke-width="1.2"/><rect x="437.2" y="631.9" width="12.4" height="12.4" fill="#000" stroke="#000" stroke-width="1.2"/><rect x="446" y="631.7" width="12.4" height="12.4" fill="#000" stroke="#000" stroke-width="1.2"/><rect x="454.8" y="632.2" width="12.4" height="12.4" fill="#000" stroke="#000" stroke-width="1.2"/><rect x="463.7" y="633.7" width="12.4" height="12.4" fill="#000" stroke="#000" stroke-width="1.2"/><rect x="472.5" y="634.5" width="12.4" height="12.4" fill="#000" stroke="#000" stroke-width="1.2"/><rect x="481.3" y="635.3" width="12.4" height="12.4" fill="#000" stroke="#000" stroke-width="1.2"/><rect x="490.1" y="636.3" width="12.4" height="12.4" fill="#000" stroke="#000" stroke-width="1.2"/><rect x="499" y="636.5" width="12.4" height="12.4" fill="#000" stroke="#000" stroke-width="1.2"/><rect x="507.8" y="636.9" width="12.4" height="12.4" fill="#000" stroke="#000" stroke-width="1.2"/><rect x="516.6" y="637.1" width="12.4" height="12.4" fill="#000" stroke="#000" stroke-width="1.2"/><rect x="525.4" y="637.3" width="12.4" height="12.4" fill="#000" stroke="#000" stroke-width="1.2"/><rect x="534.3" y="637.3" width="12.4" height="12.4" fill="#000" stroke="#000" stroke-width="1.2"/><rect x="543.1" y="637.2" width="12.4" height="12.4" fill="#000" stroke="#000" stroke-width="1.2"/><rect x="576.2" y="637.3" width="12.4" height="12.4" fill="#000" stroke="#000" stroke-width="1.2"/><rect x="586.1" y="637.3" width="12.4" height="12.4" fill="#000" stroke="#000" stroke-width="1.2"/><rect x="596" y="637.3" width="12.4" height="12.4" fill="#000" stroke="#000" stroke-width="1.2"/><rect x="606" y="637.3" width="12.4" height="12.4" fill="#000" stroke="#000" stroke-width="1.2"/><rect x="615.9" y="637.3" width="12.4" height="12.4" fill="#000" stroke="#000" stroke-width="1.2"/><rect x="625.8" y="637.3" width="12.4" height="12.4" fill="#000" stroke="#000" stroke-width="1.2"/><rect x="635.8" y="637.3" width="12.4" height="12.4" fill="#000" stroke="#000" stroke-width="1.2"/><rect x="645.7" y="637.3" width="12.4" height="12.4" fill="#000" stroke="#000" stroke-width="1.2"/><rect x="655.6" y="637.3" width="12.4" height="12.4" fill="#000" stroke="#000" stroke-width="1.2"/><rect x="665.5" y="637.3" width="12.4" height="12.4" fill="#000" stroke="#000" stroke-width="1.2"/><rect x="675.4" y="637.3" width="12.4" height="12.4" fill="#000" stroke="#000" stroke-width="1.2"/><rect x="685.4" y="630.8" width="12.4" height="12.4" fill="#000" stroke="#000" stroke-width="1.2"/><rect x="695.3" y="622.8" width="12.4" height="12.4" fill="#000" stroke="#000" stroke-width="1.2"/><rect x="705.2" y="606.8" width="12.4" height="12.4" fill="#000" stroke="#000" stroke-width="1.2"/><rect x="715.1" y="576.8" width="12.4" height="12.4" fill="#000" stroke="#000" stroke-width="1.2"/><rect x="725.1" y="520.8" width="12.4" height="12.4" fill="#000" stroke="#000" stroke-width="1.2"/><rect x="735" y="435.8" width="12.4" height="12.4" fill="#000" stroke="#000" stroke-width="1.2"/><rect x="744.9" y="340.8" width="12.4" height="12.4" fill="#000" stroke="#000" stroke-width="1.2"/><rect x="754.9" y="231.8" width="12.4" height="12.4" fill="#000" stroke="#000" stroke-width="1.2"/><rect x="764.8" y="166.3" width="12.4" height="12.4" fill="#000" stroke="#000" stroke-width="1.2"/><rect x="774.7" y="114.8" width="12.4" height="12.4" fill="#000" stroke="#000" stroke-width="1.2"/><rect x="784.6" y="96.5" width="12.4" height="12.4" fill="#000" stroke="#000" stroke-width="1.2"/><rect x="794.5" y="93.8" width="12.4" height="12.4" fill="#000" stroke="#000" stroke-width="1.2"/><rect x="804.5" y="93.8" width="12.4" height="12.4" fill="#000" stroke="#000" stroke-width="1.2"/><rect x="814.4" y="121.8" width="12.4" height="12.4" fill="#000" stroke="#000" stroke-width="1.2"/><rect x="824.3" y="147.8" width="12.4" height="12.4" fill="#000" stroke="#000" stroke-width="1.2"/><rect x="834.2" y="206.3" width="12.4" height="12.4" fill="#000" stroke="#000" stroke-width="1.2"/><rect x="844.2" y="300.8" width="12.4" height="12.4" fill="#000" stroke="#000" stroke-width="1.2"/><rect x="854.1" y="414.8" width="12.4" height="12.4" fill="#000" stroke="#000" stroke-width="1.2"/><rect x="864" y="518.8" width="12.4" height="12.4" fill="#000" stroke="#000" stroke-width="1.2"/><rect x="874" y="584.8" width="12.4" height="12.4" fill="#000" stroke="#000" stroke-width="1.2"/><rect x="883.9" y="620.8" width="12.4" height="12.4" fill="#000" stroke="#000" stroke-width="1.2"/><rect x="893.8" y="632.8" width="12.4" height="12.4" fill="#000" stroke="#000" stroke-width="1.2"/><rect x="903.7" y="636" width="12.4" height="12.4" fill="#000" stroke="#000" stroke-width="1.2"/><rect x="913.6" y="637.3" width="12.4" height="12.4" fill="#000" stroke="#000" stroke-width="1.2"/><rect x="923.6" y="637.3" width="12.4" height="12.4" fill="#000" stroke="#000" stroke-width="1.2"/><rect x="933.5" y="637.3" width="12.4" height="12.4" fill="#000" stroke="#000" stroke-width="1.2"/><rect x="943.4" y="637.3" width="12.4" height="12.4" fill="#000" stroke="#000" stroke-width="1.2"/><rect x="953.4" y="637.3" width="12.4" height="12.4" fill="#000" stroke="#000" stroke-width="1.2"/><rect x="963.3" y="637.3" width="12.4" height="12.4" fill="#000" stroke="#000" stroke-width="1.2"/>
<path d="M153.8 477.2H168.2M161 470V484.4" fill="none" stroke="#000" stroke-width="1.1"/><path d="M162.6 475.3H177M169.8 468.1V482.5" fill="none" stroke="#000" stroke-width="1.1"/><path d="M171.5 472.9H185.8M178.7 465.7V480.1" fill="none" stroke="#000" stroke-width="1.1"/><path d="M180.3 477H194.7M187.5 469.8V484.2" fill="none" stroke="#000" stroke-width="1.1"/><path d="M189.1 472H203.5M196.3 464.8V479.2" fill="none" stroke="#000" stroke-width="1.1"/><path d="M197.9 479.2H212.3M205.1 472V486.4" fill="none" stroke="#000" stroke-width="1.1"/><path d="M206.8 477.1H221.1M213.9 469.9V484.3" fill="none" stroke="#000" stroke-width="1.1"/><path d="M215.6 479.4H230M222.8 472.2V486.6" fill="none" stroke="#000" stroke-width="1.1"/><path d="M224.4 475.5H238.8M231.6 468.3V482.7" fill="none" stroke="#000" stroke-width="1.1"/><path d="M233.2 474.7H247.6M240.4 467.5V481.9" fill="none" stroke="#000" stroke-width="1.1"/><path d="M242.1 474.6H256.4M249.2 467.4V481.8" fill="none" stroke="#000" stroke-width="1.1"/><path d="M250.9 483H265.3M258.1 475.8V490.2" fill="none" stroke="#000" stroke-width="1.1"/><path d="M259.7 478.1H274.1M266.9 470.9V485.3" fill="none" stroke="#000" stroke-width="1.1"/><path d="M268.5 478.4H282.9M275.7 471.2V485.6" fill="none" stroke="#000" stroke-width="1.1"/><path d="M277.3 472.5H291.7M284.5 465.3V479.7" fill="none" stroke="#000" stroke-width="1.1"/><path d="M286.2 479.8H300.6M293.4 472.6V487" fill="none" stroke="#000" stroke-width="1.1"/><path d="M295 466.5H309.4M302.2 459.3V473.7" fill="none" stroke="#000" stroke-width="1.1"/><path d="M303.8 486.2H318.2M311 479V493.4" fill="none" stroke="#000" stroke-width="1.1"/><path d="M312.7 480.1H327.1M319.9 472.9V487.3" fill="none" stroke="#000" stroke-width="1.1"/><path d="M321.5 481.4H335.9M328.7 474.2V488.6" fill="none" stroke="#000" stroke-width="1.1"/><path d="M330.3 475.9H344.7M337.5 468.7V483.1" fill="none" stroke="#000" stroke-width="1.1"/><path d="M339.1 478.3H353.5M346.3 471.1V485.5" fill="none" stroke="#000" stroke-width="1.1"/><path d="M347.9 481H362.3M355.1 473.8V488.2" fill="none" stroke="#000" stroke-width="1.1"/><path d="M356.8 480.1H371.2M364 472.9V487.3" fill="none" stroke="#000" stroke-width="1.1"/><path d="M365.6 481.2H380M372.8 474V488.4" fill="none" stroke="#000" stroke-width="1.1"/><path d="M374.4 482.7H388.8M381.6 475.5V489.9" fill="none" stroke="#000" stroke-width="1.1"/><path d="M383.2 482H397.6M390.4 474.8V489.2" fill="none" stroke="#000" stroke-width="1.1"/><path d="M392.1 478.5H406.5M399.3 471.3V485.7" fill="none" stroke="#000" stroke-width="1.1"/><path d="M400.9 480H415.3M408.1 472.8V487.2" fill="none" stroke="#000" stroke-width="1.1"/><path d="M409.7 480H424.1M416.9 472.8V487.2" fill="none" stroke="#000" stroke-width="1.1"/><path d="M418.6 480.7H432.9M425.8 473.5V487.9" fill="none" stroke="#000" stroke-width="1.1"/><path d="M427.4 481.3H441.8M434.6 474.1V488.5" fill="none" stroke="#000" stroke-width="1.1"/><path d="M436.2 488H450.6M443.4 480.8V495.2" fill="none" stroke="#000" stroke-width="1.1"/><path d="M445 510.2H459.4M452.2 503V517.4" fill="none" stroke="#000" stroke-width="1.1"/><path d="M453.8 537.5H468.2M461 530.3V544.7" fill="none" stroke="#000" stroke-width="1.1"/><path d="M462.7 571.8H477.1M469.9 564.6V579" fill="none" stroke="#000" stroke-width="1.1"/><path d="M471.5 604.7H485.9M478.7 597.5V611.9" fill="none" stroke="#000" stroke-width="1.1"/><path d="M480.3 631.1H494.7M487.5 623.9V638.3" fill="none" stroke="#000" stroke-width="1.1"/><path d="M489.1 637.2H503.5M496.3 630V644.4" fill="none" stroke="#000" stroke-width="1.1"/><path d="M498 640.2H512.4M505.2 633V647.4" fill="none" stroke="#000" stroke-width="1.1"/><path d="M506.8 641.8H521.2M514 634.6V649" fill="none" stroke="#000" stroke-width="1.1"/><path d="M515.6 642.6H530M522.8 635.4V649.8" fill="none" stroke="#000" stroke-width="1.1"/><path d="M524.4 642.9H538.9M531.6 635.7V650.1" fill="none" stroke="#000" stroke-width="1.1"/><path d="M533.3 643.4H547.7M540.5 636.2V650.6" fill="none" stroke="#000" stroke-width="1.1"/><path d="M542.1 643.5H556.5M549.3 636.3V650.7" fill="none" stroke="#000" stroke-width="1.1"/><path d="M575.2 643.5H589.6M582.4 636.3V650.7" fill="none" stroke="#000" stroke-width="1.1"/><path d="M585.1 643.5H599.5M592.3 636.3V650.7" fill="none" stroke="#000" stroke-width="1.1"/><path d="M595 643.5H609.5M602.2 636.3V650.7" fill="none" stroke="#000" stroke-width="1.1"/><path d="M605 643.5H619.4M612.2 636.3V650.7" fill="none" stroke="#000" stroke-width="1.1"/><path d="M614.9 643.5H629.3M622.1 636.3V650.7" fill="none" stroke="#000" stroke-width="1.1"/><path d="M624.8 643.5H639.2M632 636.3V650.7" fill="none" stroke="#000" stroke-width="1.1"/><path d="M634.8 643.5H649.2M642 636.3V650.7" fill="none" stroke="#000" stroke-width="1.1"/><path d="M644.7 643.5H659.1M651.9 636.3V650.7" fill="none" stroke="#000" stroke-width="1.1"/><path d="M654.6 643.5H669M661.8 636.3V650.7" fill="none" stroke="#000" stroke-width="1.1"/><path d="M664.5 643.5H678.9M671.7 636.3V650.7" fill="none" stroke="#000" stroke-width="1.1"/><path d="M674.4 643.5H688.9M681.6 636.3V650.7" fill="none" stroke="#000" stroke-width="1.1"/><path d="M684.4 643.5H698.8M691.6 636.3V650.7" fill="none" stroke="#000" stroke-width="1.1"/><path d="M694.3 643.5H708.7M701.5 636.3V650.7" fill="none" stroke="#000" stroke-width="1.1"/><path d="M704.2 643.5H718.6M711.4 636.3V650.7" fill="none" stroke="#000" stroke-width="1.1"/><path d="M714.1 643.5H728.6M721.4 636.3V650.7" fill="none" stroke="#000" stroke-width="1.1"/><path d="M724.1 643.5H738.5M731.3 636.3V650.7" fill="none" stroke="#000" stroke-width="1.1"/><path d="M734 643.5H748.4M741.2 636.3V650.7" fill="none" stroke="#000" stroke-width="1.1"/><path d="M743.9 643.5H758.3M751.1 636.3V650.7" fill="none" stroke="#000" stroke-width="1.1"/><path d="M753.9 643.5H768.3M761.1 636.3V650.7" fill="none" stroke="#000" stroke-width="1.1"/><path d="M763.8 643.5H778.2M771 636.3V650.7" fill="none" stroke="#000" stroke-width="1.1"/><path d="M773.7 643.5H788.1M780.9 636.3V650.7" fill="none" stroke="#000" stroke-width="1.1"/><path d="M783.6 643.5H798M790.8 636.3V650.7" fill="none" stroke="#000" stroke-width="1.1"/><path d="M793.5 643.5H808M800.8 636.3V650.7" fill="none" stroke="#000" stroke-width="1.1"/><path d="M803.5 643.5H817.9M810.7 636.3V650.7" fill="none" stroke="#000" stroke-width="1.1"/><path d="M813.4 643.5H827.8M820.6 636.3V650.7" fill="none" stroke="#000" stroke-width="1.1"/><path d="M823.3 643.5H837.7M830.5 636.3V650.7" fill="none" stroke="#000" stroke-width="1.1"/><path d="M833.2 643.5H847.7M840.5 636.3V650.7" fill="none" stroke="#000" stroke-width="1.1"/><path d="M843.2 643.5H857.6M850.4 636.3V650.7" fill="none" stroke="#000" stroke-width="1.1"/><path d="M853.1 643.5H867.5M860.3 636.3V650.7" fill="none" stroke="#000" stroke-width="1.1"/><path d="M863 643.5H877.4M870.2 636.3V650.7" fill="none" stroke="#000" stroke-width="1.1"/><path d="M873 643.5H887.4M880.2 636.3V650.7" fill="none" stroke="#000" stroke-width="1.1"/><path d="M882.9 643.5H897.3M890.1 636.3V650.7" fill="none" stroke="#000" stroke-width="1.1"/><path d="M892.8 643.5H907.2M900 636.3V650.7" fill="none" stroke="#000" stroke-width="1.1"/><path d="M902.7 643.5H917.1M909.9 636.3V650.7" fill="none" stroke="#000" stroke-width="1.1"/><path d="M912.6 643.5H927.1M919.9 636.3V650.7" fill="none" stroke="#000" stroke-width="1.1"/><path d="M922.6 643.5H937M929.8 636.3V650.7" fill="none" stroke="#000" stroke-width="1.1"/><path d="M932.5 643.5H946.9M939.7 636.3V650.7" fill="none" stroke="#000" stroke-width="1.1"/><path d="M942.4 643.5H956.8M949.6 636.3V650.7" fill="none" stroke="#000" stroke-width="1.1"/><path d="M952.4 643.5H966.8M959.6 636.3V650.7" fill="none" stroke="#000" stroke-width="1.1"/><path d="M962.3 643.5H976.7M969.5 636.3V650.7" fill="none" stroke="#000" stroke-width="1.1"/>
<path d="M161 476.5L165.4 476.7L169.8 476.9L174.2 477.1L178.7 477.3L183.1 477.5L187.5 477.7L191.9 478L196.3 478.2L200.7 478.4L205.1 478.6L209.5 478.8L213.9 478.9L218.4 479.1L222.8 479.3L227.2 479.5L231.6 479.7L236 479.9L240.4 480.1L244.8 480.3L249.2 480.5L253.7 480.6L258.1 480.8L262.5 481L266.9 481.1L271.3 481.3L275.7 481.4L280.1 481.5L284.5 481.7L289 481.8L293.4 482L297.8 482.1L302.2 482.2L306.6 482.4L311 482.6L315.4 482.7L319.9 482.9L324.3 483.1L328.7 483.4L333.1 483.6L337.5 483.8L341.9 484.1L346.3 484.6L350.7 485.1L355.1 485.9L359.6 486.9L364 488L368.4 489.1L372.8 490L377.2 490.7L381.6 491.2L386 491.8L390.4 492.3L394.9 492.8L399.3 493.4L403.7 494.1L408.1 494.9L412.5 496.2L416.9 497.7L421.3 499.1L425.8 500.3L430.2 501.6L434.6 503.4L439 505.9L443.4 509.8L447.8 517.7L452.2 525.7L456.6 535.8L461 549.4L465.5 565.1L469.9 582L474.3 598.5L478.7 613.8L483.1 625.6L487.5 632.6L491.9 636.5L496.3 638.6L500.8 639.9L505.2 640.8L509.6 641.4L514 642L518.4 642.4L522.8 642.8L527.2 643.1L531.6 643.2L536.1 643.4L540.5 643.5L544.9 643.6L549.3 643.6L553.7 643.7L558.1 643.7L558.5 643.7" fill="none" stroke="#f00" stroke-width="3.4" stroke-linejoin="round" stroke-linecap="butt"/>
<path d="M572 643.7L577.4 643.7L582.4 643.7L587.4 643.7L592.3 643.7L597.3 643.7L602.2 643.7L607.2 643.7L612.2 643.7L617.1 643.7L622.1 643.7L627.1 643.7L632 643.7L637 643.7L642 643.7L646.9 643.7L651.9 643.7L656.8 643.7L661.8 643.7L666.8 643.7L671.7 643.7L676.7 643.7L681.6 643.7L686.6 643.7L691.6 643.7L696.5 643.7L701.5 643.7L706.5 643.7L711.4 643.7L716.4 643.7L721.4 643.7L726.3 643.7L731.3 643.7L736.2 643.7L741.2 643.7L746.2 643.7L751.1 643.4L756.1 642.5L761.1 641.4L766 639.8L771 637.7L775.9 635L780.9 631.7L785.9 627.5L790.8 622.7L795.8 617.7L800.8 612.2L805.7 607.6L810.7 604.8L815.6 602.5L820.6 601.2L825.6 601.3L830.5 602.8L835.5 605.2L840.5 608.2L845.4 613L850.4 618.6L855.3 623.9L860.3 629.4L865.3 633.7L870.2 636.4L875.2 638.4L880.2 640.2L885.1 642.1L890.1 643.2L895 643.6L900 643.7L905 643.7L909.9 643.7L914.9 643.7L919.9 643.7L924.8 643.7L929.8 643.7L934.7 643.7L939.7 643.7L944.7 643.7L949.6 643.7L954.6 643.7L959.6 643.7L964.5 643.7L969.5 643.7" fill="none" stroke="#f00" stroke-width="3.4" stroke-linejoin="round" stroke-linecap="butt"/>
<path d="M161 478L165.4 478.2L169.8 478.4L174.2 478.6L178.7 478.8L183.1 479L187.5 479.2L191.9 479.4L196.3 479.6L200.7 479.8L205.1 480L209.5 480.2L213.9 480.4L218.4 480.6L222.8 480.8L227.2 481L231.6 481.2L236 481.4L240.4 481.6L244.8 481.8L249.2 482L253.7 482.2L258.1 482.3L262.5 482.5L266.9 482.7L271.3 482.8L275.7 482.9L280.1 483.1L284.5 483.2L289 483.4L293.4 483.5L297.8 483.7L302.2 483.8L306.6 484L311 484.2L315.4 484.4L319.9 484.6L324.3 484.9L328.7 485.2L333.1 485.5L337.5 485.8L341.9 486.2L346.3 486.8L350.7 487.7L355.1 488.7L359.6 489.9L364 491.3L368.4 493.2L372.8 495.4L377.2 498.1L381.6 501.4L386 506.5L390.4 512L394.9 516.4L399.3 520.1L403.7 523.2L408.1 525.4L412.5 526.9L416.9 528L421.3 529.5L425.8 531.3L430.2 533.3L434.6 535.5L439 537.7L443.4 540.5L447.8 545.4L452.2 552.7L456.6 562.8L461 576.7L465.5 590.2L469.9 602.6L474.3 615.7L478.7 626.6L483.1 634.2L487.5 637.7L491.9 639.6L496.3 640.4L500.8 640.9L505.2 641.3L509.6 641.6L514 642L518.4 642.5L522.8 642.8L527.2 643.1L531.6 643.2L536.1 643.4L540.5 643.5L544.9 643.6L549.3 643.6L553.7 643.7L558.1 643.7L558.5 643.7" fill="none" stroke="#f00" stroke-width="3.4" stroke-linejoin="round" stroke-linecap="butt"/>
<path d="M572 643.7L577.4 643.7L582.4 643.7L587.4 643.7L592.3 643.7L597.3 643.7L602.2 643.7L607.2 643.7L612.2 643.7L617.1 643.7L622.1 643.7L627.1 643.7L632 643.7L637 643.7L642 643.7L646.9 643.7L651.9 643.7L656.8 643.7L661.8 643.7L666.8 643.7L671.7 643.7L676.7 643.7L681.6 643.7L686.6 643.7L691.6 643.7L696.5 643.7L701.5 643.7L706.5 643.7L711.4 643.7L716.4 643.2L721.4 641.9L726.3 639.7L731.3 636L736.2 629.8L741.2 622.5L746.2 613.5L751.1 601.8L756.1 586.8L761.1 570.7L766 553.9L771 536.9L775.9 522.2L780.9 509.4L785.9 499.8L790.8 492.2L795.8 487.7L800.8 484.3L805.7 482.6L810.7 483.4L815.6 486.3L820.6 490.2L825.6 496.1L830.5 504L835.5 513.5L840.5 524.9L845.4 538L850.4 552.7L855.3 568.3L860.3 583.9L865.3 598.9L870.2 611.9L875.2 622.5L880.2 630.2L885.1 635.9L890.1 639.6L895 641.9L900 643.2L905 643.6L909.9 643.7L914.9 643.7L919.9 643.7L924.8 643.7L929.8 643.7L934.7 643.7L939.7 643.7L944.7 643.7L949.6 643.7L954.6 643.7L959.6 643.7L964.5 643.7L969.5 643.7" fill="none" stroke="#f00" stroke-width="3.4" stroke-linejoin="round" stroke-linecap="butt"/>
<path d="M161 479.5L165.4 479.7L169.8 479.8L174.2 480L178.7 480.2L183.1 480.3L187.5 480.5L191.9 480.7L196.3 480.8L200.7 481L205.1 481.2L209.5 481.4L213.9 481.5L218.4 481.7L222.8 481.9L227.2 482.1L231.6 482.2L236 482.4L240.4 482.6L244.8 482.8L249.2 483L253.7 483.1L258.1 483.3L262.5 483.5L266.9 483.6L271.3 483.8L275.7 483.9L280.1 484.1L284.5 484.2L289 484.4L293.4 484.5L297.8 484.7L302.2 484.9L306.6 485.1L311 485.3L315.4 485.5L319.9 485.7L324.3 485.9L328.7 486.2L333.1 486.5L337.5 486.8L341.9 487.2L346.3 487.6L350.7 488.2L355.1 489L359.6 489.9L364 491.2L368.4 493.1L372.8 495.9L377.2 501.3L381.6 509.8L386 518.8L390.4 527L394.9 535.1L399.3 542.4L403.7 549.1L408.1 552.9L412.5 554.9L416.9 556.2L421.3 557L425.8 557.7L430.2 558.5L434.6 559.7L439 561.2L443.4 563.6L447.8 567.5L452.2 573.4L456.6 582.9L461 595.3L465.5 606.7L469.9 616.4L474.3 625.9L478.7 632.7L483.1 637.1L487.5 639L491.9 640.1L496.3 640.8L500.8 641.3L505.2 641.6L509.6 642L514 642.3L518.4 642.6L522.8 642.9L527.2 643.1L531.6 643.2L536.1 643.4L540.5 643.5L544.9 643.6L549.3 643.6L553.7 643.7L558.1 643.7L558.5 643.7" fill="none" stroke="#f00" stroke-width="3.4" stroke-linejoin="round" stroke-linecap="butt"/>
<path d="M572 643.7L577.4 643.7L582.4 643.7L587.4 643.7L592.3 643.7L597.3 643.7L602.2 643.7L607.2 643.7L612.2 643.7L617.1 643.7L622.1 643.7L627.1 643.7L632 643.7L637 643.7L642 643.7L646.9 643.7L651.9 643.7L656.8 643.7L661.8 643.7L666.8 643.7L671.7 643.7L676.7 643.7L681.6 643.7L686.6 643.7L691.6 643.7L696.5 643.7L701.5 643.7L706.5 643.7L711.4 642.9L716.4 641.6L721.4 639.5L726.3 635.9L731.3 628.6L736.2 617.9L741.2 601.6L746.2 582.7L751.1 563.4L756.1 540.6L761.1 505.1L766 466.5L771 447.6L775.9 427.5L780.9 410.9L785.9 398.5L790.8 389.9L795.8 384.5L800.8 381.1L805.7 381.3L810.7 384.1L815.6 388.2L820.6 396.1L825.6 406.6L830.5 419.1L835.5 434.4L840.5 453.2L845.4 477.1L850.4 503.6L855.3 530.2L860.3 556.5L865.3 580.3L870.2 598L875.2 611.7L880.2 622.2L885.1 629.7L890.1 635.4L895 639.3L900 641.9L905 643.1L909.9 643.7L914.9 643.7L919.9 643.7L924.8 643.7L929.8 643.7L934.7 643.7L939.7 643.7L944.7 643.7L949.6 643.7L954.6 643.7L959.6 643.7L964.5 643.7L969.5 643.7" fill="none" stroke="#f00" stroke-width="3.4" stroke-linejoin="round" stroke-linecap="butt"/>
<path d="M161 480.5L165.4 480.7L169.8 480.9L174.2 481.1L178.7 481.2L183.1 481.4L187.5 481.6L191.9 481.8L196.3 482L200.7 482.1L205.1 482.3L209.5 482.5L213.9 482.6L218.4 482.8L222.8 483L227.2 483.2L231.6 483.3L236 483.5L240.4 483.7L244.8 483.8L249.2 484L253.7 484.1L258.1 484.3L262.5 484.4L266.9 484.5L271.3 484.6L275.7 484.7L280.1 484.8L284.5 484.9L289 485L293.4 485.1L297.8 485.2L302.2 485.3L306.6 485.5L311 485.6L315.4 485.8L319.9 485.9L324.3 486.1L328.7 486.3L333.1 486.6L337.5 486.8L341.9 487.2L346.3 487.7L350.7 488.5L355.1 489.5L359.6 490.9L364 492.9L368.4 496.6L372.8 506.4L377.2 519.2L381.6 530.6L386 541.1L390.4 552.2L394.9 561.7L399.3 568.6L403.7 574.6L408.1 578.1L412.5 580.4L416.9 582.1L421.3 583.3L425.8 584.4L430.2 585.5L434.6 586.8L439 588.2L443.4 590.2L447.8 594.2L452.2 599.5L456.6 605.9L461 613.4L465.5 620.5L469.9 626.8L474.3 632.7L478.7 636.5L483.1 639L487.5 640.2L491.9 640.9L496.3 641.4L500.8 641.7L505.2 642.1L509.6 642.3L514 642.6L518.4 642.8L522.8 643L527.2 643.1L531.6 643.2L536.1 643.4L540.5 643.5L544.9 643.5L549.3 643.6L553.7 643.7L558.1 643.7L558.5 643.7" fill="none" stroke="#f00" stroke-width="3.4" stroke-linejoin="round" stroke-linecap="butt"/>
<path d="M572 643.7L577.4 643.7L582.4 643.7L587.4 643.7L592.3 643.7L597.3 643.7L602.2 643.7L607.2 643.7L612.2 643.7L617.1 643.7L622.1 643.7L627.1 643.7L632 643.7L637 643.7L642 643.7L646.9 643.7L651.9 643.7L656.8 643.7L661.8 643.7L666.8 643.7L671.7 643.7L676.7 643.7L681.6 643.7L686.6 643.7L691.6 643.7L696.5 643.6L701.5 642.7L706.5 641.2L711.4 638.3L716.4 633.3L721.4 624.7L726.3 610.6L731.3 589.9L736.2 564.3L741.2 532.1L746.2 492.8L751.1 453.8L756.1 423.9L761.1 394.3L766 364.2L771 335.4L775.9 314.4L780.9 299.9L785.9 290.6L790.8 285.1L795.8 281.2L800.8 280L805.7 281.7L810.7 285L815.6 289.8L820.6 297.9L825.6 308.8L830.5 325.3L835.5 352.3L840.5 382.3L845.4 410.8L850.4 435.7L855.3 460.8L860.3 503.7L865.3 545.5L870.2 580.4L875.2 600.4L880.2 614.6L885.1 624.9L890.1 632.1L895 637.2L900 640.4L905 642.5L909.9 643.5L914.9 643.7L919.9 643.7L924.8 643.7L929.8 643.7L934.7 643.7L939.7 643.7L944.7 643.7L949.6 643.7L954.6 643.7L959.6 643.7L964.5 643.7L969.5 643.7" fill="none" stroke="#f00" stroke-width="3.4" stroke-linejoin="round" stroke-linecap="butt"/>
<path d="M161 482L165.4 482.2L169.8 482.3L174.2 482.5L178.7 482.6L183.1 482.8L187.5 482.9L191.9 483.1L196.3 483.3L200.7 483.4L205.1 483.6L209.5 483.7L213.9 483.9L218.4 484L222.8 484.1L227.2 484.3L231.6 484.4L236 484.6L240.4 484.7L244.8 484.8L249.2 485L253.7 485.1L258.1 485.2L262.5 485.3L266.9 485.4L271.3 485.5L275.7 485.6L280.1 485.6L284.5 485.7L289 485.8L293.4 485.8L297.8 485.9L302.2 486L306.6 486.1L311 486.2L315.4 486.4L319.9 486.5L324.3 486.7L328.7 486.9L333.1 487.1L337.5 487.3L341.9 487.7L346.3 488.8L350.7 490.3L355.1 492.3L359.6 495.6L364 502.7L368.4 513.5L372.8 527.4L377.2 541.6L381.6 556.1L386 570.1L390.4 582.1L394.9 590.9L399.3 597.4L403.7 601.8L408.1 605L412.5 607L416.9 608.5L421.3 609.6L425.8 610.6L430.2 611.5L434.6 612.3L439 613.1L443.4 614.1L447.8 616L452.2 618.7L456.6 622.2L461 626.3L465.5 630.3L469.9 634L474.3 636.9L478.7 639.1L483.1 640.1L487.5 640.9L491.9 641.4L496.3 641.8L500.8 642.1L505.2 642.3L509.6 642.5L514 642.7L518.4 642.9L522.8 643L527.2 643.1L531.6 643.2L536.1 643.3L540.5 643.4L544.9 643.5L549.3 643.6L553.7 643.7L558.1 643.7L558.5 643.7" fill="none" stroke="#f00" stroke-width="3.4" stroke-linejoin="round" stroke-linecap="butt"/>
<path d="M572 643.7L577.4 643.7L582.4 643.7L587.4 643.7L592.3 643.7L597.3 643.7L602.2 643.7L607.2 643.7L612.2 643.7L617.1 643.7L622.1 643.7L627.1 643.7L632 643.7L637 643.7L642 643.7L646.9 643.7L651.9 643.7L656.8 643.7L661.8 643.7L666.8 643.7L671.7 643.7L676.7 643.7L681.6 643.7L686.6 643.7L691.6 642.9L696.5 641.5L701.5 639L706.5 634.4L711.4 626L716.4 612.9L721.4 592.7L726.3 564.6L731.3 526.2L736.2 483.1L741.2 440.1L746.2 400.1L751.1 361.3L756.1 323.3L761.1 286.3L766 249.4L771 225.2L775.9 207.1L780.9 196.2L785.9 191L790.8 187.6L795.8 186.8L800.8 188.3L805.7 191.3L810.7 196.2L815.6 204.7L820.6 216.3L825.6 233L830.5 255.1L835.5 285.4L840.5 324.4L845.4 365.4L850.4 403L855.3 439.8L860.3 476.9L865.3 514.3L870.2 555.1L875.2 588.9L880.2 606.4L885.1 619.2L890.1 628.1L895 634.3L900 638.6L905 641.4L909.9 642.9L914.9 643.7L919.9 643.7L924.8 643.7L929.8 643.7L934.7 643.7L939.7 643.7L944.7 643.7L949.6 643.7L954.6 643.7L959.6 643.7L964.5 643.7L969.5 643.7" fill="none" stroke="#f00" stroke-width="3.4" stroke-linejoin="round" stroke-linecap="butt"/>
<path d="M161 482.5L165.4 482.7L169.8 482.9L174.2 483.1L178.7 483.2L183.1 483.4L187.5 483.6L191.9 483.8L196.3 483.9L200.7 484.1L205.1 484.3L209.5 484.4L213.9 484.6L218.4 484.8L222.8 484.9L227.2 485.1L231.6 485.2L236 485.4L240.4 485.5L244.8 485.6L249.2 485.8L253.7 485.9L258.1 486L262.5 486.1L266.9 486.2L271.3 486.3L275.7 486.3L280.1 486.4L284.5 486.5L289 486.6L293.4 486.6L297.8 486.7L302.2 486.8L306.6 486.9L311 487L315.4 487.1L319.9 487.3L324.3 487.5L328.7 487.7L333.1 487.9L337.5 488.2L341.9 489.1L346.3 490.4L350.7 492.2L355.1 495.3L359.6 500.7L364 511L368.4 524.2L372.8 541.9L377.2 559.4L381.6 572.5L386 587.3L390.4 602L394.9 613.3L399.3 620.3L403.7 625.1L408.1 628.4L412.5 631L416.9 632.8L421.3 634.2L425.8 635.3L430.2 636.1L434.6 636.7L439 637.1L443.4 637.5L447.8 637.9L452.2 638.2L456.6 638.6L461 639.1L465.5 639.5L469.9 639.9L474.3 640.4L478.7 640.8L483.1 641.2L487.5 641.6L491.9 642L496.3 642.4L500.8 642.7L505.2 643L509.6 643.2L514 643.3L518.4 643.4L522.8 643.4L527.2 643.5L531.6 643.5L536.1 643.6L540.5 643.6L544.9 643.7L549.3 643.7L553.7 643.7L558.1 643.7L558.5 643.7" fill="none" stroke="#f00" stroke-width="3.4" stroke-linejoin="round" stroke-linecap="butt"/>
<path d="M572 643.7L577.4 643.7L582.4 643.7L587.4 643.7L592.3 643.7L597.3 643.7L602.2 643.7L607.2 643.7L612.2 643.7L617.1 643.7L622.1 643.7L627.1 643.7L632 643.7L637 643.7L642 643.7L646.9 643.7L651.9 643.7L656.8 643.7L661.8 643.7L666.8 643.7L671.7 643.7L676.7 643.7L681.6 643.6L686.6 642.7L691.6 641.1L696.5 638.3L701.5 632.4L706.5 622.3L711.4 608.3L716.4 590L721.4 567.8L726.3 537.5L731.3 484.2L736.2 426.5L741.2 378L746.2 325.5L751.1 276.7L756.1 243.2L761.1 205.3L766 168.3L771 137.4L775.9 117.3L780.9 110.8L785.9 106.7L790.8 104L795.8 102.8L800.8 103.1L805.7 105L810.7 108.3L815.6 115.6L820.6 129.8L825.6 148.7L830.5 174.2L835.5 206.7L840.5 241L845.4 281.2L850.4 332L855.3 387.4L860.3 445.9L865.3 491.6L870.2 531.8L875.2 571.3L880.2 595.4L885.1 610.6L890.1 622.1L895 629.8L900 635.5L905 639.5L909.9 642.2L914.9 643.2L919.9 643.7L924.8 643.7L929.8 643.7L934.7 643.7L939.7 643.7L944.7 643.7L949.6 643.7L954.6 643.7L959.6 643.7L964.5 643.7L969.5 643.7" fill="none" stroke="#f00" stroke-width="3.4" stroke-linejoin="round" stroke-linecap="butt"/>
<path d="M161 475.8L165.4 476L169.8 476.2L174.2 476.3L178.7 476.5L183.1 476.7L187.5 476.9L191.9 477L196.3 477.2L200.7 477.4L205.1 477.6L209.5 477.7L213.9 477.9L218.4 478.1L222.8 478.2L227.2 478.4L231.6 478.6L236 478.8L240.4 478.9L244.8 479.1L249.2 479.3L253.7 479.4L258.1 479.6L262.5 479.8L266.9 480L271.3 480.1L275.7 480.3L280.1 480.5L284.5 480.7L289 480.8L293.4 481L297.8 481.2L302.2 481.4L306.6 481.5L311 481.7L315.4 481.9L319.9 482L324.3 482.2L328.7 482.3L333.1 482.5L337.5 482.6L341.9 482.8L346.3 482.9L350.7 483L355.1 483.1L359.6 483.3L364 483.4L368.4 483.5L372.8 483.6L377.2 483.7L381.6 483.8L386 483.9L390.4 484L394.9 484.2L399.3 484.3L403.7 484.4L408.1 484.5L412.5 484.6L416.9 484.7L421.3 484.8L425.8 485.1L430.2 485.9L434.6 487.3L439 489.7L443.4 493.9L447.8 503.8L452.2 514.2L456.6 525.9L461 541.2L465.5 557.7L469.9 574.3L474.3 591.1L478.7 607.9L483.1 622.8L487.5 631.3L491.9 635.5L496.3 638L500.8 639.5L505.2 640.6L509.6 641.4L514 642L518.4 642.4L522.8 642.8L527.2 643.1L531.6 643.2L536.1 643.4L540.5 643.5L544.9 643.6L549.3 643.6L553.7 643.7L558.1 643.7L558.5 643.7" fill="none" stroke="#f00" stroke-width="3.4" stroke-linejoin="round" stroke-linecap="butt"/>
<path d="M572 643.7L969.5 643.7" fill="none" stroke="#f00" stroke-width="3.4" stroke-linejoin="round" stroke-linecap="butt"/>
</g>
<rect x="161" y="644.35" width="394.5" height="0.8" fill="#000"/>
<rect x="575" y="644.35" width="394.5" height="0.8" fill="#000"/>
<rect x="177.6" y="69.8" width="261.4" height="305.4" fill="#fff" stroke="#222" stroke-width="1.1"/><circle cx="225" cy="97.8" r="7.2" fill="#fff" stroke="#000" stroke-width="1.2"/><text transform="translate(265.5,108.6) scale(1,1.045)" font-size="30.2" font-weight="normal" text-anchor="start" fill="#000">0 mm</text><circle cx="225" cy="134.1" r="7.2" fill="#000" stroke="#000" stroke-width="1.2"/><text transform="translate(265.5,144.9) scale(1,1.045)" font-size="30.2" font-weight="normal" text-anchor="start" fill="#000">4 mm</text><path d="M225 160.2L233 174.7L217 174.7Z" fill="#fff" stroke="#000" stroke-width="1.2"/><text transform="translate(265.5,181.2) scale(1,1.045)" font-size="30.2" font-weight="normal" text-anchor="start" fill="#000">8 mm</text><path d="M225 196.5L233 211L217 211Z" fill="#000" stroke="#000" stroke-width="1.2"/><text transform="translate(265.5,217.5) scale(1,1.045)" font-size="30.2" font-weight="normal" text-anchor="start" fill="#000">12 mm</text><rect x="218.9" y="236.9" width="12.2" height="12.2" fill="#fff" stroke="#000" stroke-width="1.2"/><text transform="translate(265.5,253.8) scale(1,1.045)" font-size="30.2" font-weight="normal" text-anchor="start" fill="#000">16 mm</text><rect x="218.9" y="273.2" width="12.2" height="12.2" fill="#000" stroke="#000" stroke-width="1.2"/><text transform="translate(265.5,290.1) scale(1,1.045)" font-size="30.2" font-weight="normal" text-anchor="start" fill="#000">20 mm</text><path d="M217.8 315.6H232.2M225 308.4V322.8" fill="none" stroke="#000" stroke-width="1.1"/><text transform="translate(265.5,326.4) scale(1,1.045)" font-size="30.2" font-weight="normal" text-anchor="start" fill="#000">Si reference</text><line x1="191.9" y1="352.8" x2="258.1" y2="352.8" stroke="#f00" stroke-width="3.5" stroke-linecap="round"/><text transform="translate(265.5,362.7) scale(1,1.045)" font-size="30.2" font-weight="normal" text-anchor="start" fill="#000">Simulated</text>
<text transform="translate(457.5,111.4) scale(1,1.035)" font-size="36.7" font-weight="bold" text-anchor="start" fill="#00f">1.6 MeV He<tspan dy="-17" dx="0.5" font-size="24">+</tspan><tspan dy="17" dx="0"> RBS</tspan></text>
<text transform="translate(846.6,96) scale(1,1.035)" font-size="31.5" font-weight="bold" text-anchor="start" fill="#000">Ge</text>
<line x1="861.3" y1="107" x2="861.3" y2="136.5" stroke="#000" stroke-width="1.1" stroke-linecap="butt"/><path d="M856.9 134.5L865.7 134.5L861.3 150Z" fill="#000"/>
<text transform="translate(466,417.5) scale(1,1.035)" font-size="31.5" font-weight="bold" text-anchor="start" fill="#000">Si</text>
<line x1="478.5" y1="432.6" x2="478.5" y2="463.2" stroke="#000" stroke-width="1.1" stroke-linecap="butt"/><path d="M474.1 461.2L482.9 461.2L478.5 476.8Z" fill="#000"/>
<text transform="translate(192.3,566.2) scale(1,1.0)" font-size="49" font-weight="bold" text-anchor="start" fill="#000">(a)</text>
<text transform="translate(573.4,745.8) scale(1,1.035)" font-size="37" font-weight="bold" text-anchor="middle" fill="#000">Channels</text>
<text transform="translate(31.3,334) rotate(-90) scale(1,1.035)" font-size="37" font-weight="bold" text-anchor="middle">Yield (counts)</text>
</g>
<g id="panel-b">
<clipPath id="cb"><rect x="1173.6" y="19.6" width="830.5" height="613.7"/></clipPath>
<line x1="1172.5" y1="17.4" x2="1172.5" y2="644" stroke="#000" stroke-width="2.3" stroke-linecap="butt"/><line x1="2003.6" y1="17.4" x2="2003.6" y2="633.6" stroke="#000" stroke-width="2.3" stroke-linecap="butt"/><line x1="1160.5" y1="18.5" x2="2004.8" y2="18.5" stroke="#000" stroke-width="2.3" stroke-linecap="butt"/><line x1="1160.5" y1="632.5" x2="2004.8" y2="632.5" stroke="#000" stroke-width="2.3" stroke-linecap="butt"/><line x1="2003.6" y1="632.5" x2="2003.6" y2="638.8" stroke="#000" stroke-width="2.3" stroke-linecap="butt"/><text transform="translate(1151.6,644.8) scale(1,1.045)" font-size="39.0" font-weight="normal" text-anchor="end" fill="#000">0</text><line x1="1166.2" y1="555.8" x2="1172.5" y2="555.8" stroke="#000" stroke-width="2.3" stroke-linecap="butt"/><line x1="1997.3" y1="555.8" x2="2003.6" y2="555.8" stroke="#000" stroke-width="2.3" stroke-linecap="butt"/><line x1="1160" y1="479" x2="1172.5" y2="479" stroke="#000" stroke-width="2.3" stroke-linecap="butt"/><line x1="1991.1" y1="479" x2="2003.6" y2="479" stroke="#000" stroke-width="2.3" stroke-linecap="butt"/><text transform="translate(1151.6,491.3) scale(1,1.045)" font-size="39.0" font-weight="normal" text-anchor="end" fill="#000">50</text><line x1="1166.2" y1="402.2" x2="1172.5" y2="402.2" stroke="#000" stroke-width="2.3" stroke-linecap="butt"/><line x1="1997.3" y1="402.2" x2="2003.6" y2="402.2" stroke="#000" stroke-width="2.3" stroke-linecap="butt"/><line x1="1160" y1="325.5" x2="1172.5" y2="325.5" stroke="#000" stroke-width="2.3" stroke-linecap="butt"/><line x1="1991.1" y1="325.5" x2="2003.6" y2="325.5" stroke="#000" stroke-width="2.3" stroke-linecap="butt"/><text transform="translate(1151.6,337.8) scale(1,1.045)" font-size="39.0" font-weight="normal" text-anchor="end" fill="#000">100</text><line x1="1166.2" y1="248.8" x2="1172.5" y2="248.8" stroke="#000" stroke-width="2.3" stroke-linecap="butt"/><line x1="1997.3" y1="248.8" x2="2003.6" y2="248.8" stroke="#000" stroke-width="2.3" stroke-linecap="butt"/><line x1="1160" y1="172" x2="1172.5" y2="172" stroke="#000" stroke-width="2.3" stroke-linecap="butt"/><line x1="1991.1" y1="172" x2="2003.6" y2="172" stroke="#000" stroke-width="2.3" stroke-linecap="butt"/><text transform="translate(1151.6,184.3) scale(1,1.045)" font-size="39.0" font-weight="normal" text-anchor="end" fill="#000">150</text><line x1="1166.2" y1="95.2" x2="1172.5" y2="95.2" stroke="#000" stroke-width="2.3" stroke-linecap="butt"/><line x1="1997.3" y1="95.2" x2="2003.6" y2="95.2" stroke="#000" stroke-width="2.3" stroke-linecap="butt"/><text transform="translate(1151.6,30.8) scale(1,1.045)" font-size="39.0" font-weight="normal" text-anchor="end" fill="#000">200</text><text transform="translate(1173,684) scale(1,1.045)" font-size="39.0" font-weight="normal" text-anchor="middle" fill="#000">40</text><line x1="1248.1" y1="632.5" x2="1248.1" y2="638.8" stroke="#000" stroke-width="2.3" stroke-linecap="butt"/><line x1="1248.1" y1="18.5" x2="1248.1" y2="24.8" stroke="#000" stroke-width="2.3" stroke-linecap="butt"/><line x1="1323.6" y1="632.5" x2="1323.6" y2="645" stroke="#000" stroke-width="2.3" stroke-linecap="butt"/><line x1="1323.6" y1="18.5" x2="1323.6" y2="31" stroke="#000" stroke-width="2.3" stroke-linecap="butt"/><text transform="translate(1324.1,684) scale(1,1.045)" font-size="39.0" font-weight="normal" text-anchor="middle" fill="#000">60</text><line x1="1399.2" y1="632.5" x2="1399.2" y2="638.8" stroke="#000" stroke-width="2.3" stroke-linecap="butt"/><line x1="1399.2" y1="18.5" x2="1399.2" y2="24.8" stroke="#000" stroke-width="2.3" stroke-linecap="butt"/><line x1="1474.7" y1="632.5" x2="1474.7" y2="645" stroke="#000" stroke-width="2.3" stroke-linecap="butt"/><line x1="1474.7" y1="18.5" x2="1474.7" y2="31" stroke="#000" stroke-width="2.3" stroke-linecap="butt"/><text transform="translate(1475.2,684) scale(1,1.045)" font-size="39.0" font-weight="normal" text-anchor="middle" fill="#000">80</text><line x1="1550.3" y1="632.5" x2="1550.3" y2="638.8" stroke="#000" stroke-width="2.3" stroke-linecap="butt"/><line x1="1550.3" y1="18.5" x2="1550.3" y2="24.8" stroke="#000" stroke-width="2.3" stroke-linecap="butt"/><line x1="1625.8" y1="632.5" x2="1625.8" y2="645" stroke="#000" stroke-width="2.3" stroke-linecap="butt"/><line x1="1625.8" y1="18.5" x2="1625.8" y2="31" stroke="#000" stroke-width="2.3" stroke-linecap="butt"/><text transform="translate(1626.3,684) scale(1,1.045)" font-size="39.0" font-weight="normal" text-anchor="middle" fill="#000">100</text><line x1="1701.4" y1="632.5" x2="1701.4" y2="638.8" stroke="#000" stroke-width="2.3" stroke-linecap="butt"/><line x1="1701.4" y1="18.5" x2="1701.4" y2="24.8" stroke="#000" stroke-width="2.3" stroke-linecap="butt"/><line x1="1776.9" y1="632.5" x2="1776.9" y2="645" stroke="#000" stroke-width="2.3" stroke-linecap="butt"/><line x1="1776.9" y1="18.5" x2="1776.9" y2="31" stroke="#000" stroke-width="2.3" stroke-linecap="butt"/><text transform="translate(1777.4,684) scale(1,1.045)" font-size="39.0" font-weight="normal" text-anchor="middle" fill="#000">120</text><line x1="1852.5" y1="632.5" x2="1852.5" y2="638.8" stroke="#000" stroke-width="2.3" stroke-linecap="butt"/><line x1="1852.5" y1="18.5" x2="1852.5" y2="24.8" stroke="#000" stroke-width="2.3" stroke-linecap="butt"/><line x1="1928.1" y1="632.5" x2="1928.1" y2="645" stroke="#000" stroke-width="2.3" stroke-linecap="butt"/><line x1="1928.1" y1="18.5" x2="1928.1" y2="31" stroke="#000" stroke-width="2.3" stroke-linecap="butt"/><text transform="translate(1928.6,684) scale(1,1.045)" font-size="39.0" font-weight="normal" text-anchor="middle" fill="#000">140</text>
<g clip-path="url(#cb)">
<circle cx="1172.5" cy="629.4" r="6.9" fill="#fff" stroke="#000" stroke-width="1.2"/><circle cx="1180.1" cy="629.4" r="6.9" fill="#fff" stroke="#000" stroke-width="1.2"/><circle cx="1187.6" cy="623.3" r="6.9" fill="#fff" stroke="#000" stroke-width="1.2"/><circle cx="1195.2" cy="629.4" r="6.9" fill="#fff" stroke="#000" stroke-width="1.2"/><circle cx="1202.7" cy="629.4" r="6.9" fill="#fff" stroke="#000" stroke-width="1.2"/><circle cx="1210.3" cy="626.4" r="6.9" fill="#fff" stroke="#000" stroke-width="1.2"/><circle cx="1217.8" cy="632.5" r="6.9" fill="#fff" stroke="#000" stroke-width="1.2"/><circle cx="1225.4" cy="629.4" r="6.9" fill="#fff" stroke="#000" stroke-width="1.2"/><circle cx="1232.9" cy="629.4" r="6.9" fill="#fff" stroke="#000" stroke-width="1.2"/><circle cx="1240.5" cy="629.4" r="6.9" fill="#fff" stroke="#000" stroke-width="1.2"/><circle cx="1248.1" cy="632.5" r="6.9" fill="#fff" stroke="#000" stroke-width="1.2"/><circle cx="1255.6" cy="629.4" r="6.9" fill="#fff" stroke="#000" stroke-width="1.2"/><circle cx="1263.2" cy="629.4" r="6.9" fill="#fff" stroke="#000" stroke-width="1.2"/><circle cx="1270.7" cy="626.4" r="6.9" fill="#fff" stroke="#000" stroke-width="1.2"/><circle cx="1278.3" cy="632.5" r="6.9" fill="#fff" stroke="#000" stroke-width="1.2"/><circle cx="1285.8" cy="629.4" r="6.9" fill="#fff" stroke="#000" stroke-width="1.2"/><circle cx="1293.4" cy="626.4" r="6.9" fill="#fff" stroke="#000" stroke-width="1.2"/><circle cx="1300.9" cy="623.3" r="6.9" fill="#fff" stroke="#000" stroke-width="1.2"/><circle cx="1308.5" cy="632.5" r="6.9" fill="#fff" stroke="#000" stroke-width="1.2"/><circle cx="1316.1" cy="626.4" r="6.9" fill="#fff" stroke="#000" stroke-width="1.2"/><circle cx="1323.6" cy="632.5" r="6.9" fill="#fff" stroke="#000" stroke-width="1.2"/><circle cx="1331.2" cy="629.4" r="6.9" fill="#fff" stroke="#000" stroke-width="1.2"/><circle cx="1338.7" cy="629.4" r="6.9" fill="#fff" stroke="#000" stroke-width="1.2"/><circle cx="1346.3" cy="629.4" r="6.9" fill="#fff" stroke="#000" stroke-width="1.2"/><circle cx="1353.8" cy="623.3" r="6.9" fill="#fff" stroke="#000" stroke-width="1.2"/><circle cx="1361.4" cy="623.3" r="6.9" fill="#fff" stroke="#000" stroke-width="1.2"/><circle cx="1368.9" cy="626.4" r="6.9" fill="#fff" stroke="#000" stroke-width="1.2"/><circle cx="1376.5" cy="626.4" r="6.9" fill="#fff" stroke="#000" stroke-width="1.2"/><circle cx="1384.1" cy="626.4" r="6.9" fill="#fff" stroke="#000" stroke-width="1.2"/><circle cx="1391.6" cy="626.4" r="6.9" fill="#fff" stroke="#000" stroke-width="1.2"/><circle cx="1399.2" cy="620.2" r="6.9" fill="#fff" stroke="#000" stroke-width="1.2"/><circle cx="1406.7" cy="626.4" r="6.9" fill="#fff" stroke="#000" stroke-width="1.2"/><circle cx="1414.3" cy="623.3" r="6.9" fill="#fff" stroke="#000" stroke-width="1.2"/><circle cx="1421.8" cy="620.2" r="6.9" fill="#fff" stroke="#000" stroke-width="1.2"/><circle cx="1429.4" cy="622" r="6.9" fill="#fff" stroke="#000" stroke-width="1.2"/><circle cx="1436.9" cy="610" r="6.9" fill="#fff" stroke="#000" stroke-width="1.2"/><circle cx="1444.5" cy="590" r="6.9" fill="#fff" stroke="#000" stroke-width="1.2"/><circle cx="1452.1" cy="560" r="6.9" fill="#fff" stroke="#000" stroke-width="1.2"/><circle cx="1459.6" cy="520" r="6.9" fill="#fff" stroke="#000" stroke-width="1.2"/><circle cx="1467.2" cy="470" r="6.9" fill="#fff" stroke="#000" stroke-width="1.2"/><circle cx="1474.7" cy="456" r="6.9" fill="#fff" stroke="#000" stroke-width="1.2"/><circle cx="1482.3" cy="404" r="6.9" fill="#fff" stroke="#000" stroke-width="1.2"/><circle cx="1489.8" cy="372" r="6.9" fill="#fff" stroke="#000" stroke-width="1.2"/><circle cx="1497.4" cy="335" r="6.9" fill="#fff" stroke="#000" stroke-width="1.2"/><circle cx="1504.9" cy="300" r="6.9" fill="#fff" stroke="#000" stroke-width="1.2"/><circle cx="1512.5" cy="288" r="6.9" fill="#fff" stroke="#000" stroke-width="1.2"/><circle cx="1520.1" cy="318" r="6.9" fill="#fff" stroke="#000" stroke-width="1.2"/><circle cx="1527.6" cy="325" r="6.9" fill="#fff" stroke="#000" stroke-width="1.2"/><circle cx="1535.2" cy="242" r="6.9" fill="#fff" stroke="#000" stroke-width="1.2"/><circle cx="1542.7" cy="268" r="6.9" fill="#fff" stroke="#000" stroke-width="1.2"/><circle cx="1550.3" cy="275" r="6.9" fill="#fff" stroke="#000" stroke-width="1.2"/><circle cx="1557.8" cy="273.5" r="6.9" fill="#fff" stroke="#000" stroke-width="1.2"/><circle cx="1565.4" cy="263.3" r="6.9" fill="#fff" stroke="#000" stroke-width="1.2"/><circle cx="1572.9" cy="233.5" r="6.9" fill="#fff" stroke="#000" stroke-width="1.2"/><circle cx="1580.5" cy="251.3" r="6.9" fill="#fff" stroke="#000" stroke-width="1.2"/><circle cx="1588.1" cy="248" r="6.9" fill="#fff" stroke="#000" stroke-width="1.2"/><circle cx="1595.6" cy="203" r="6.9" fill="#fff" stroke="#000" stroke-width="1.2"/><circle cx="1603.2" cy="244.7" r="6.9" fill="#fff" stroke="#000" stroke-width="1.2"/><circle cx="1610.7" cy="251.9" r="6.9" fill="#fff" stroke="#000" stroke-width="1.2"/><circle cx="1618.3" cy="193" r="6.9" fill="#fff" stroke="#000" stroke-width="1.2"/><circle cx="1625.8" cy="242" r="6.9" fill="#fff" stroke="#000" stroke-width="1.2"/><circle cx="1633.4" cy="234" r="6.9" fill="#fff" stroke="#000" stroke-width="1.2"/><circle cx="1640.9" cy="234.5" r="6.9" fill="#fff" stroke="#000" stroke-width="1.2"/><circle cx="1648.5" cy="236.7" r="6.9" fill="#fff" stroke="#000" stroke-width="1.2"/><circle cx="1656.1" cy="306.5" r="6.9" fill="#fff" stroke="#000" stroke-width="1.2"/><circle cx="1663.6" cy="267.3" r="6.9" fill="#fff" stroke="#000" stroke-width="1.2"/><circle cx="1671.2" cy="322" r="6.9" fill="#fff" stroke="#000" stroke-width="1.2"/><circle cx="1678.7" cy="288.7" r="6.9" fill="#fff" stroke="#000" stroke-width="1.2"/><circle cx="1686.3" cy="346.5" r="6.9" fill="#fff" stroke="#000" stroke-width="1.2"/><circle cx="1693.8" cy="380.7" r="6.9" fill="#fff" stroke="#000" stroke-width="1.2"/><circle cx="1701.4" cy="426" r="6.9" fill="#fff" stroke="#000" stroke-width="1.2"/><circle cx="1708.9" cy="495.2" r="6.9" fill="#fff" stroke="#000" stroke-width="1.2"/><circle cx="1716.5" cy="543.3" r="6.9" fill="#fff" stroke="#000" stroke-width="1.2"/><circle cx="1724.1" cy="584.6" r="6.9" fill="#fff" stroke="#000" stroke-width="1.2"/><circle cx="1731.6" cy="598.7" r="6.9" fill="#fff" stroke="#000" stroke-width="1.2"/><circle cx="1739.2" cy="617.1" r="6.9" fill="#fff" stroke="#000" stroke-width="1.2"/><circle cx="1746.7" cy="617.1" r="6.9" fill="#fff" stroke="#000" stroke-width="1.2"/><circle cx="1754.3" cy="626.4" r="6.9" fill="#fff" stroke="#000" stroke-width="1.2"/><circle cx="1761.8" cy="629.4" r="6.9" fill="#fff" stroke="#000" stroke-width="1.2"/><circle cx="1769.4" cy="629.4" r="6.9" fill="#fff" stroke="#000" stroke-width="1.2"/><circle cx="1776.9" cy="632.5" r="6.9" fill="#fff" stroke="#000" stroke-width="1.2"/><circle cx="1784.5" cy="632.5" r="6.9" fill="#fff" stroke="#000" stroke-width="1.2"/><circle cx="1792.1" cy="629.4" r="6.9" fill="#fff" stroke="#000" stroke-width="1.2"/><circle cx="1799.6" cy="629.4" r="6.9" fill="#fff" stroke="#000" stroke-width="1.2"/><circle cx="1807.2" cy="632.5" r="6.9" fill="#fff" stroke="#000" stroke-width="1.2"/><circle cx="1814.7" cy="632.5" r="6.9" fill="#fff" stroke="#000" stroke-width="1.2"/><circle cx="1822.3" cy="632.5" r="6.9" fill="#fff" stroke="#000" stroke-width="1.2"/><circle cx="1829.8" cy="632.5" r="6.9" fill="#fff" stroke="#000" stroke-width="1.2"/><circle cx="1837.4" cy="632.5" r="6.9" fill="#fff" stroke="#000" stroke-width="1.2"/><circle cx="1844.9" cy="629.4" r="6.9" fill="#fff" stroke="#000" stroke-width="1.2"/><circle cx="1852.5" cy="632.5" r="6.9" fill="#fff" stroke="#000" stroke-width="1.2"/><circle cx="1860.1" cy="632.5" r="6.9" fill="#fff" stroke="#000" stroke-width="1.2"/><circle cx="1867.6" cy="632.5" r="6.9" fill="#fff" stroke="#000" stroke-width="1.2"/><circle cx="1875.2" cy="632.5" r="6.9" fill="#fff" stroke="#000" stroke-width="1.2"/><circle cx="1882.7" cy="632.5" r="6.9" fill="#fff" stroke="#000" stroke-width="1.2"/><circle cx="1890.3" cy="632.5" r="6.9" fill="#fff" stroke="#000" stroke-width="1.2"/><circle cx="1897.8" cy="632.5" r="6.9" fill="#fff" stroke="#000" stroke-width="1.2"/><circle cx="1905.4" cy="632.5" r="6.9" fill="#fff" stroke="#000" stroke-width="1.2"/><circle cx="1912.9" cy="632.5" r="6.9" fill="#fff" stroke="#000" stroke-width="1.2"/><circle cx="1920.5" cy="632.5" r="6.9" fill="#fff" stroke="#000" stroke-width="1.2"/><circle cx="1928.1" cy="632.5" r="6.9" fill="#fff" stroke="#000" stroke-width="1.2"/><circle cx="1935.6" cy="632.5" r="6.9" fill="#fff" stroke="#000" stroke-width="1.2"/><circle cx="1943.2" cy="632.5" r="6.9" fill="#fff" stroke="#000" stroke-width="1.2"/><circle cx="1950.7" cy="632.5" r="6.9" fill="#fff" stroke="#000" stroke-width="1.2"/><circle cx="1958.3" cy="632.5" r="6.9" fill="#fff" stroke="#000" stroke-width="1.2"/><circle cx="1965.8" cy="632.5" r="6.9" fill="#fff" stroke="#000" stroke-width="1.2"/><circle cx="1973.4" cy="632.5" r="6.9" fill="#fff" stroke="#000" stroke-width="1.2"/><circle cx="1980.9" cy="632.5" r="6.9" fill="#fff" stroke="#000" stroke-width="1.2"/><circle cx="1988.5" cy="632.5" r="6.9" fill="#fff" stroke="#000" stroke-width="1.2"/><circle cx="1996" cy="632.5" r="6.9" fill="#fff" stroke="#000" stroke-width="1.2"/><circle cx="2003.6" cy="632.5" r="6.9" fill="#fff" stroke="#000" stroke-width="1.2"/>
<circle cx="1172.5" cy="629.4" r="6.9" fill="#000" stroke="#000" stroke-width="1.2"/><circle cx="1180.1" cy="629.4" r="6.9" fill="#000" stroke="#000" stroke-width="1.2"/><circle cx="1187.6" cy="632.5" r="6.9" fill="#000" stroke="#000" stroke-width="1.2"/><circle cx="1195.2" cy="629.4" r="6.9" fill="#000" stroke="#000" stroke-width="1.2"/><circle cx="1202.7" cy="626.4" r="6.9" fill="#000" stroke="#000" stroke-width="1.2"/><circle cx="1210.3" cy="626.4" r="6.9" fill="#000" stroke="#000" stroke-width="1.2"/><circle cx="1217.8" cy="629.4" r="6.9" fill="#000" stroke="#000" stroke-width="1.2"/><circle cx="1225.4" cy="629.4" r="6.9" fill="#000" stroke="#000" stroke-width="1.2"/><circle cx="1232.9" cy="629.4" r="6.9" fill="#000" stroke="#000" stroke-width="1.2"/><circle cx="1240.5" cy="629.4" r="6.9" fill="#000" stroke="#000" stroke-width="1.2"/><circle cx="1248.1" cy="629.4" r="6.9" fill="#000" stroke="#000" stroke-width="1.2"/><circle cx="1255.6" cy="629.4" r="6.9" fill="#000" stroke="#000" stroke-width="1.2"/><circle cx="1263.2" cy="632.5" r="6.9" fill="#000" stroke="#000" stroke-width="1.2"/><circle cx="1270.7" cy="632.5" r="6.9" fill="#000" stroke="#000" stroke-width="1.2"/><circle cx="1278.3" cy="626.4" r="6.9" fill="#000" stroke="#000" stroke-width="1.2"/><circle cx="1285.8" cy="626.4" r="6.9" fill="#000" stroke="#000" stroke-width="1.2"/><circle cx="1293.4" cy="629.4" r="6.9" fill="#000" stroke="#000" stroke-width="1.2"/><circle cx="1300.9" cy="629.4" r="6.9" fill="#000" stroke="#000" stroke-width="1.2"/><circle cx="1308.5" cy="626.4" r="6.9" fill="#000" stroke="#000" stroke-width="1.2"/><circle cx="1316.1" cy="629.4" r="6.9" fill="#000" stroke="#000" stroke-width="1.2"/><circle cx="1323.6" cy="626.4" r="6.9" fill="#000" stroke="#000" stroke-width="1.2"/><circle cx="1331.2" cy="626.4" r="6.9" fill="#000" stroke="#000" stroke-width="1.2"/><circle cx="1338.7" cy="629.4" r="6.9" fill="#000" stroke="#000" stroke-width="1.2"/><circle cx="1346.3" cy="623.3" r="6.9" fill="#000" stroke="#000" stroke-width="1.2"/><circle cx="1353.8" cy="626.4" r="6.9" fill="#000" stroke="#000" stroke-width="1.2"/><circle cx="1361.4" cy="623.3" r="6.9" fill="#000" stroke="#000" stroke-width="1.2"/><circle cx="1368.9" cy="623.3" r="6.9" fill="#000" stroke="#000" stroke-width="1.2"/><circle cx="1376.5" cy="623.3" r="6.9" fill="#000" stroke="#000" stroke-width="1.2"/><circle cx="1384.1" cy="623.3" r="6.9" fill="#000" stroke="#000" stroke-width="1.2"/><circle cx="1391.6" cy="626.4" r="6.9" fill="#000" stroke="#000" stroke-width="1.2"/><circle cx="1399.2" cy="623.3" r="6.9" fill="#000" stroke="#000" stroke-width="1.2"/><circle cx="1406.7" cy="614.1" r="6.9" fill="#000" stroke="#000" stroke-width="1.2"/><circle cx="1414.3" cy="595.8" r="6.9" fill="#000" stroke="#000" stroke-width="1.2"/><circle cx="1421.8" cy="581.6" r="6.9" fill="#000" stroke="#000" stroke-width="1.2"/><circle cx="1429.4" cy="571.3" r="6.9" fill="#000" stroke="#000" stroke-width="1.2"/><circle cx="1436.9" cy="518.9" r="6.9" fill="#000" stroke="#000" stroke-width="1.2"/><circle cx="1444.5" cy="512.6" r="6.9" fill="#000" stroke="#000" stroke-width="1.2"/><circle cx="1452.1" cy="483.7" r="6.9" fill="#000" stroke="#000" stroke-width="1.2"/><circle cx="1459.6" cy="453.6" r="6.9" fill="#000" stroke="#000" stroke-width="1.2"/><circle cx="1467.2" cy="423" r="6.9" fill="#000" stroke="#000" stroke-width="1.2"/><circle cx="1474.7" cy="438.7" r="6.9" fill="#000" stroke="#000" stroke-width="1.2"/><circle cx="1482.3" cy="380" r="6.9" fill="#000" stroke="#000" stroke-width="1.2"/><circle cx="1489.8" cy="352" r="6.9" fill="#000" stroke="#000" stroke-width="1.2"/><circle cx="1497.4" cy="365.3" r="6.9" fill="#000" stroke="#000" stroke-width="1.2"/><circle cx="1504.9" cy="350.7" r="6.9" fill="#000" stroke="#000" stroke-width="1.2"/><circle cx="1512.5" cy="346.7" r="6.9" fill="#000" stroke="#000" stroke-width="1.2"/><circle cx="1520.1" cy="309.3" r="6.9" fill="#000" stroke="#000" stroke-width="1.2"/><circle cx="1527.6" cy="306.7" r="6.9" fill="#000" stroke="#000" stroke-width="1.2"/><circle cx="1535.2" cy="300" r="6.9" fill="#000" stroke="#000" stroke-width="1.2"/><circle cx="1542.7" cy="322" r="6.9" fill="#000" stroke="#000" stroke-width="1.2"/><circle cx="1550.3" cy="350" r="6.9" fill="#000" stroke="#000" stroke-width="1.2"/><circle cx="1557.8" cy="327.3" r="6.9" fill="#000" stroke="#000" stroke-width="1.2"/><circle cx="1565.4" cy="269.2" r="6.9" fill="#000" stroke="#000" stroke-width="1.2"/><circle cx="1572.9" cy="285" r="6.9" fill="#000" stroke="#000" stroke-width="1.2"/><circle cx="1580.5" cy="270" r="6.9" fill="#000" stroke="#000" stroke-width="1.2"/><circle cx="1588.1" cy="254" r="6.9" fill="#000" stroke="#000" stroke-width="1.2"/><circle cx="1595.6" cy="309" r="6.9" fill="#000" stroke="#000" stroke-width="1.2"/><circle cx="1603.2" cy="263.3" r="6.9" fill="#000" stroke="#000" stroke-width="1.2"/><circle cx="1610.7" cy="313.2" r="6.9" fill="#000" stroke="#000" stroke-width="1.2"/><circle cx="1618.3" cy="300" r="6.9" fill="#000" stroke="#000" stroke-width="1.2"/><circle cx="1625.8" cy="349" r="6.9" fill="#000" stroke="#000" stroke-width="1.2"/><circle cx="1633.4" cy="341" r="6.9" fill="#000" stroke="#000" stroke-width="1.2"/><circle cx="1640.9" cy="238.8" r="6.9" fill="#000" stroke="#000" stroke-width="1.2"/><circle cx="1648.5" cy="288" r="6.9" fill="#000" stroke="#000" stroke-width="1.2"/><circle cx="1656.1" cy="288.7" r="6.9" fill="#000" stroke="#000" stroke-width="1.2"/><circle cx="1663.6" cy="279.3" r="6.9" fill="#000" stroke="#000" stroke-width="1.2"/><circle cx="1671.2" cy="303.3" r="6.9" fill="#000" stroke="#000" stroke-width="1.2"/><circle cx="1678.7" cy="349" r="6.9" fill="#000" stroke="#000" stroke-width="1.2"/><circle cx="1686.3" cy="378" r="6.9" fill="#000" stroke="#000" stroke-width="1.2"/><circle cx="1693.8" cy="434" r="6.9" fill="#000" stroke="#000" stroke-width="1.2"/><circle cx="1701.4" cy="443.3" r="6.9" fill="#000" stroke="#000" stroke-width="1.2"/><circle cx="1708.9" cy="497" r="6.9" fill="#000" stroke="#000" stroke-width="1.2"/><circle cx="1716.5" cy="552.6" r="6.9" fill="#000" stroke="#000" stroke-width="1.2"/><circle cx="1724.1" cy="582.3" r="6.9" fill="#000" stroke="#000" stroke-width="1.2"/><circle cx="1731.6" cy="604.3" r="6.9" fill="#000" stroke="#000" stroke-width="1.2"/><circle cx="1739.2" cy="620.2" r="6.9" fill="#000" stroke="#000" stroke-width="1.2"/><circle cx="1746.7" cy="620.2" r="6.9" fill="#000" stroke="#000" stroke-width="1.2"/><circle cx="1754.3" cy="620.2" r="6.9" fill="#000" stroke="#000" stroke-width="1.2"/><circle cx="1761.8" cy="629.4" r="6.9" fill="#000" stroke="#000" stroke-width="1.2"/><circle cx="1769.4" cy="629.4" r="6.9" fill="#000" stroke="#000" stroke-width="1.2"/><circle cx="1776.9" cy="629.4" r="6.9" fill="#000" stroke="#000" stroke-width="1.2"/><circle cx="1784.5" cy="632.5" r="6.9" fill="#000" stroke="#000" stroke-width="1.2"/><circle cx="1792.1" cy="632.5" r="6.9" fill="#000" stroke="#000" stroke-width="1.2"/><circle cx="1799.6" cy="632.5" r="6.9" fill="#000" stroke="#000" stroke-width="1.2"/><circle cx="1807.2" cy="632.5" r="6.9" fill="#000" stroke="#000" stroke-width="1.2"/><circle cx="1814.7" cy="632.5" r="6.9" fill="#000" stroke="#000" stroke-width="1.2"/><circle cx="1822.3" cy="632.5" r="6.9" fill="#000" stroke="#000" stroke-width="1.2"/><circle cx="1829.8" cy="632.5" r="6.9" fill="#000" stroke="#000" stroke-width="1.2"/><circle cx="1837.4" cy="632.5" r="6.9" fill="#000" stroke="#000" stroke-width="1.2"/><circle cx="1844.9" cy="632.5" r="6.9" fill="#000" stroke="#000" stroke-width="1.2"/><circle cx="1852.5" cy="632.5" r="6.9" fill="#000" stroke="#000" stroke-width="1.2"/><circle cx="1860.1" cy="632.5" r="6.9" fill="#000" stroke="#000" stroke-width="1.2"/><circle cx="1867.6" cy="632.5" r="6.9" fill="#000" stroke="#000" stroke-width="1.2"/><circle cx="1875.2" cy="632.5" r="6.9" fill="#000" stroke="#000" stroke-width="1.2"/><circle cx="1882.7" cy="632.5" r="6.9" fill="#000" stroke="#000" stroke-width="1.2"/><circle cx="1890.3" cy="632.5" r="6.9" fill="#000" stroke="#000" stroke-width="1.2"/><circle cx="1897.8" cy="632.5" r="6.9" fill="#000" stroke="#000" stroke-width="1.2"/><circle cx="1905.4" cy="632.5" r="6.9" fill="#000" stroke="#000" stroke-width="1.2"/><circle cx="1912.9" cy="632.5" r="6.9" fill="#000" stroke="#000" stroke-width="1.2"/><circle cx="1920.5" cy="632.5" r="6.9" fill="#000" stroke="#000" stroke-width="1.2"/><circle cx="1928.1" cy="632.5" r="6.9" fill="#000" stroke="#000" stroke-width="1.2"/><circle cx="1935.6" cy="632.5" r="6.9" fill="#000" stroke="#000" stroke-width="1.2"/><circle cx="1943.2" cy="632.5" r="6.9" fill="#000" stroke="#000" stroke-width="1.2"/><circle cx="1950.7" cy="632.5" r="6.9" fill="#000" stroke="#000" stroke-width="1.2"/><circle cx="1958.3" cy="632.5" r="6.9" fill="#000" stroke="#000" stroke-width="1.2"/><circle cx="1965.8" cy="632.5" r="6.9" fill="#000" stroke="#000" stroke-width="1.2"/><circle cx="1973.4" cy="632.5" r="6.9" fill="#000" stroke="#000" stroke-width="1.2"/><circle cx="1980.9" cy="632.5" r="6.9" fill="#000" stroke="#000" stroke-width="1.2"/><circle cx="1988.5" cy="632.5" r="6.9" fill="#000" stroke="#000" stroke-width="1.2"/><circle cx="1996" cy="632.5" r="6.9" fill="#000" stroke="#000" stroke-width="1.2"/><circle cx="2003.6" cy="632.5" r="6.9" fill="#000" stroke="#000" stroke-width="1.2"/>
<path d="M1172.5 619.8L1180.5 634.2L1164.5 634.2Z" fill="#fff" stroke="#000" stroke-width="1.2"/><path d="M1180.1 619.8L1188.1 634.2L1172.1 634.2Z" fill="#fff" stroke="#000" stroke-width="1.2"/><path d="M1187.6 619.8L1195.6 634.2L1179.6 634.2Z" fill="#fff" stroke="#000" stroke-width="1.2"/><path d="M1195.2 619.8L1203.2 634.2L1187.2 634.2Z" fill="#fff" stroke="#000" stroke-width="1.2"/><path d="M1202.7 613.7L1210.7 628.1L1194.7 628.1Z" fill="#fff" stroke="#000" stroke-width="1.2"/><path d="M1210.3 613.7L1218.3 628.1L1202.3 628.1Z" fill="#fff" stroke="#000" stroke-width="1.2"/><path d="M1217.8 610.6L1225.8 625L1209.8 625Z" fill="#fff" stroke="#000" stroke-width="1.2"/><path d="M1225.4 613.7L1233.4 628.1L1217.4 628.1Z" fill="#fff" stroke="#000" stroke-width="1.2"/><path d="M1232.9 613.7L1240.9 628.1L1224.9 628.1Z" fill="#fff" stroke="#000" stroke-width="1.2"/><path d="M1240.5 613.7L1248.5 628.1L1232.5 628.1Z" fill="#fff" stroke="#000" stroke-width="1.2"/><path d="M1248.1 610.6L1256.1 625L1240.1 625Z" fill="#fff" stroke="#000" stroke-width="1.2"/><path d="M1255.6 610.6L1263.6 625L1247.6 625Z" fill="#fff" stroke="#000" stroke-width="1.2"/><path d="M1263.2 613.7L1271.2 628.1L1255.2 628.1Z" fill="#fff" stroke="#000" stroke-width="1.2"/><path d="M1270.7 619.8L1278.7 634.2L1262.7 634.2Z" fill="#fff" stroke="#000" stroke-width="1.2"/><path d="M1278.3 622.9L1286.3 637.3L1270.3 637.3Z" fill="#fff" stroke="#000" stroke-width="1.2"/><path d="M1285.8 613.7L1293.8 628.1L1277.8 628.1Z" fill="#fff" stroke="#000" stroke-width="1.2"/><path d="M1293.4 616.8L1301.4 631.2L1285.4 631.2Z" fill="#fff" stroke="#000" stroke-width="1.2"/><path d="M1300.9 616.8L1308.9 631.2L1292.9 631.2Z" fill="#fff" stroke="#000" stroke-width="1.2"/><path d="M1308.5 619.8L1316.5 634.2L1300.5 634.2Z" fill="#fff" stroke="#000" stroke-width="1.2"/><path d="M1316.1 619.8L1324.1 634.2L1308.1 634.2Z" fill="#fff" stroke="#000" stroke-width="1.2"/><path d="M1323.6 610.6L1331.6 625L1315.6 625Z" fill="#fff" stroke="#000" stroke-width="1.2"/><path d="M1331.2 613.7L1339.2 628.1L1323.2 628.1Z" fill="#fff" stroke="#000" stroke-width="1.2"/><path d="M1338.7 619.8L1346.7 634.2L1330.7 634.2Z" fill="#fff" stroke="#000" stroke-width="1.2"/><path d="M1346.3 613.7L1354.3 628.1L1338.3 628.1Z" fill="#fff" stroke="#000" stroke-width="1.2"/><path d="M1353.8 613.7L1361.8 628.1L1345.8 628.1Z" fill="#fff" stroke="#000" stroke-width="1.2"/><path d="M1361.4 610.6L1369.4 625L1353.4 625Z" fill="#fff" stroke="#000" stroke-width="1.2"/><path d="M1368.9 598.3L1376.9 612.7L1360.9 612.7Z" fill="#fff" stroke="#000" stroke-width="1.2"/><path d="M1376.5 607.5L1384.5 621.9L1368.5 621.9Z" fill="#fff" stroke="#000" stroke-width="1.2"/><path d="M1384.1 613.7L1392.1 628.1L1376.1 628.1Z" fill="#fff" stroke="#000" stroke-width="1.2"/><path d="M1391.6 601.4L1399.6 615.8L1383.6 615.8Z" fill="#fff" stroke="#000" stroke-width="1.2"/><path d="M1399.2 602.8L1407.2 617.2L1391.2 617.2Z" fill="#fff" stroke="#000" stroke-width="1.2"/><path d="M1406.7 585.8L1414.7 600.2L1398.7 600.2Z" fill="#fff" stroke="#000" stroke-width="1.2"/><path d="M1414.3 576.9L1422.3 591.3L1406.3 591.3Z" fill="#fff" stroke="#000" stroke-width="1.2"/><path d="M1421.8 556.7L1429.8 571.1L1413.8 571.1Z" fill="#fff" stroke="#000" stroke-width="1.2"/><path d="M1429.4 548.7L1437.4 563.1L1421.4 563.1Z" fill="#fff" stroke="#000" stroke-width="1.2"/><path d="M1436.9 515.3L1444.9 529.7L1428.9 529.7Z" fill="#fff" stroke="#000" stroke-width="1.2"/><path d="M1444.5 504.9L1452.5 519.3L1436.5 519.3Z" fill="#fff" stroke="#000" stroke-width="1.2"/><path d="M1452.1 462.8L1460.1 477.2L1444.1 477.2Z" fill="#fff" stroke="#000" stroke-width="1.2"/><path d="M1459.6 425.1L1467.6 439.5L1451.6 439.5Z" fill="#fff" stroke="#000" stroke-width="1.2"/><path d="M1467.2 445.4L1475.2 459.8L1459.2 459.8Z" fill="#fff" stroke="#000" stroke-width="1.2"/><path d="M1474.7 430.4L1482.7 444.8L1466.7 444.8Z" fill="#fff" stroke="#000" stroke-width="1.2"/><path d="M1482.3 401.1L1490.3 415.5L1474.3 415.5Z" fill="#fff" stroke="#000" stroke-width="1.2"/><path d="M1489.8 418.4L1497.8 432.8L1481.8 432.8Z" fill="#fff" stroke="#000" stroke-width="1.2"/><path d="M1497.4 397.1L1505.4 411.5L1489.4 411.5Z" fill="#fff" stroke="#000" stroke-width="1.2"/><path d="M1504.9 375.7L1512.9 390.1L1496.9 390.1Z" fill="#fff" stroke="#000" stroke-width="1.2"/><path d="M1512.5 391.7L1520.5 406.1L1504.5 406.1Z" fill="#fff" stroke="#000" stroke-width="1.2"/><path d="M1520.1 350.4L1528.1 364.8L1512.1 364.8Z" fill="#fff" stroke="#000" stroke-width="1.2"/><path d="M1527.6 345.1L1535.6 359.5L1519.6 359.5Z" fill="#fff" stroke="#000" stroke-width="1.2"/><path d="M1535.2 346.4L1543.2 360.8L1527.2 360.8Z" fill="#fff" stroke="#000" stroke-width="1.2"/><path d="M1542.7 350.4L1550.7 364.8L1534.7 364.8Z" fill="#fff" stroke="#000" stroke-width="1.2"/><path d="M1550.3 306.4L1558.3 320.8L1542.3 320.8Z" fill="#fff" stroke="#000" stroke-width="1.2"/><path d="M1557.8 333.1L1565.8 347.5L1549.8 347.5Z" fill="#fff" stroke="#000" stroke-width="1.2"/><path d="M1565.4 370.4L1573.4 384.8L1557.4 384.8Z" fill="#fff" stroke="#000" stroke-width="1.2"/><path d="M1572.9 321.1L1580.9 335.5L1564.9 335.5Z" fill="#fff" stroke="#000" stroke-width="1.2"/><path d="M1580.5 366.4L1588.5 380.8L1572.5 380.8Z" fill="#fff" stroke="#000" stroke-width="1.2"/><path d="M1588.1 353.1L1596.1 367.5L1580.1 367.5Z" fill="#fff" stroke="#000" stroke-width="1.2"/><path d="M1595.6 314.4L1603.6 328.8L1587.6 328.8Z" fill="#fff" stroke="#000" stroke-width="1.2"/><path d="M1603.2 327.7L1611.2 342.1L1595.2 342.1Z" fill="#fff" stroke="#000" stroke-width="1.2"/><path d="M1610.7 345.1L1618.7 359.5L1602.7 359.5Z" fill="#fff" stroke="#000" stroke-width="1.2"/><path d="M1618.3 318.4L1626.3 332.8L1610.3 332.8Z" fill="#fff" stroke="#000" stroke-width="1.2"/><path d="M1625.8 363.7L1633.8 378.1L1617.8 378.1Z" fill="#fff" stroke="#000" stroke-width="1.2"/><path d="M1633.4 321.1L1641.4 335.5L1625.4 335.5Z" fill="#fff" stroke="#000" stroke-width="1.2"/><path d="M1640.9 375.7L1648.9 390.1L1632.9 390.1Z" fill="#fff" stroke="#000" stroke-width="1.2"/><path d="M1648.5 362.4L1656.5 376.8L1640.5 376.8Z" fill="#fff" stroke="#000" stroke-width="1.2"/><path d="M1656.1 379.7L1664.1 394.1L1648.1 394.1Z" fill="#fff" stroke="#000" stroke-width="1.2"/><path d="M1663.6 354.4L1671.6 368.8L1655.6 368.8Z" fill="#fff" stroke="#000" stroke-width="1.2"/><path d="M1671.2 417.1L1679.2 431.5L1663.2 431.5Z" fill="#fff" stroke="#000" stroke-width="1.2"/><path d="M1678.7 410.4L1686.7 424.8L1670.7 424.8Z" fill="#fff" stroke="#000" stroke-width="1.2"/><path d="M1686.3 441.4L1694.3 455.8L1678.3 455.8Z" fill="#fff" stroke="#000" stroke-width="1.2"/><path d="M1693.8 441.4L1701.8 455.8L1685.8 455.8Z" fill="#fff" stroke="#000" stroke-width="1.2"/><path d="M1701.4 483.1L1709.4 497.5L1693.4 497.5Z" fill="#fff" stroke="#000" stroke-width="1.2"/><path d="M1708.9 482.9L1716.9 497.3L1700.9 497.3Z" fill="#fff" stroke="#000" stroke-width="1.2"/><path d="M1716.5 528.6L1724.5 543L1708.5 543Z" fill="#fff" stroke="#000" stroke-width="1.2"/><path d="M1724.1 525L1732.1 539.4L1716.1 539.4Z" fill="#fff" stroke="#000" stroke-width="1.2"/><path d="M1731.6 555L1739.6 569.4L1723.6 569.4Z" fill="#fff" stroke="#000" stroke-width="1.2"/><path d="M1739.2 572.4L1747.2 586.8L1731.2 586.8Z" fill="#fff" stroke="#000" stroke-width="1.2"/><path d="M1746.7 588.3L1754.7 602.7L1738.7 602.7Z" fill="#fff" stroke="#000" stroke-width="1.2"/><path d="M1754.3 598.8L1762.3 613.2L1746.3 613.2Z" fill="#fff" stroke="#000" stroke-width="1.2"/><path d="M1761.8 619.8L1769.8 634.2L1753.8 634.2Z" fill="#fff" stroke="#000" stroke-width="1.2"/><path d="M1769.4 601.4L1777.4 615.8L1761.4 615.8Z" fill="#fff" stroke="#000" stroke-width="1.2"/><path d="M1776.9 616.8L1784.9 631.2L1768.9 631.2Z" fill="#fff" stroke="#000" stroke-width="1.2"/><path d="M1784.5 613.7L1792.5 628.1L1776.5 628.1Z" fill="#fff" stroke="#000" stroke-width="1.2"/><path d="M1792.1 619.8L1800.1 634.2L1784.1 634.2Z" fill="#fff" stroke="#000" stroke-width="1.2"/><path d="M1799.6 619.8L1807.6 634.2L1791.6 634.2Z" fill="#fff" stroke="#000" stroke-width="1.2"/><path d="M1807.2 622.9L1815.2 637.3L1799.2 637.3Z" fill="#fff" stroke="#000" stroke-width="1.2"/><path d="M1814.7 622.9L1822.7 637.3L1806.7 637.3Z" fill="#fff" stroke="#000" stroke-width="1.2"/><path d="M1822.3 622.9L1830.3 637.3L1814.3 637.3Z" fill="#fff" stroke="#000" stroke-width="1.2"/><path d="M1829.8 622.9L1837.8 637.3L1821.8 637.3Z" fill="#fff" stroke="#000" stroke-width="1.2"/><path d="M1837.4 622.9L1845.4 637.3L1829.4 637.3Z" fill="#fff" stroke="#000" stroke-width="1.2"/><path d="M1844.9 622.9L1852.9 637.3L1836.9 637.3Z" fill="#fff" stroke="#000" stroke-width="1.2"/><path d="M1852.5 622.9L1860.5 637.3L1844.5 637.3Z" fill="#fff" stroke="#000" stroke-width="1.2"/><path d="M1860.1 622.9L1868.1 637.3L1852.1 637.3Z" fill="#fff" stroke="#000" stroke-width="1.2"/><path d="M1867.6 622.9L1875.6 637.3L1859.6 637.3Z" fill="#fff" stroke="#000" stroke-width="1.2"/><path d="M1875.2 622.9L1883.2 637.3L1867.2 637.3Z" fill="#fff" stroke="#000" stroke-width="1.2"/><path d="M1882.7 622.9L1890.7 637.3L1874.7 637.3Z" fill="#fff" stroke="#000" stroke-width="1.2"/><path d="M1890.3 622.9L1898.3 637.3L1882.3 637.3Z" fill="#fff" stroke="#000" stroke-width="1.2"/><path d="M1897.8 619.8L1905.8 634.2L1889.8 634.2Z" fill="#fff" stroke="#000" stroke-width="1.2"/><path d="M1905.4 622.9L1913.4 637.3L1897.4 637.3Z" fill="#fff" stroke="#000" stroke-width="1.2"/><path d="M1912.9 622.9L1920.9 637.3L1904.9 637.3Z" fill="#fff" stroke="#000" stroke-width="1.2"/><path d="M1920.5 622.9L1928.5 637.3L1912.5 637.3Z" fill="#fff" stroke="#000" stroke-width="1.2"/><path d="M1928.1 622.9L1936.1 637.3L1920.1 637.3Z" fill="#fff" stroke="#000" stroke-width="1.2"/><path d="M1935.6 622.9L1943.6 637.3L1927.6 637.3Z" fill="#fff" stroke="#000" stroke-width="1.2"/><path d="M1943.2 622.9L1951.2 637.3L1935.2 637.3Z" fill="#fff" stroke="#000" stroke-width="1.2"/><path d="M1950.7 622.9L1958.7 637.3L1942.7 637.3Z" fill="#fff" stroke="#000" stroke-width="1.2"/><path d="M1958.3 622.9L1966.3 637.3L1950.3 637.3Z" fill="#fff" stroke="#000" stroke-width="1.2"/><path d="M1965.8 622.9L1973.8 637.3L1957.8 637.3Z" fill="#fff" stroke="#000" stroke-width="1.2"/><path d="M1973.4 622.9L1981.4 637.3L1965.4 637.3Z" fill="#fff" stroke="#000" stroke-width="1.2"/><path d="M1980.9 622.9L1988.9 637.3L1972.9 637.3Z" fill="#fff" stroke="#000" stroke-width="1.2"/><path d="M1988.5 622.9L1996.5 637.3L1980.5 637.3Z" fill="#fff" stroke="#000" stroke-width="1.2"/><path d="M1996 622.9L2004 637.3L1988 637.3Z" fill="#fff" stroke="#000" stroke-width="1.2"/><path d="M2003.6 622.9L2011.6 637.3L1995.6 637.3Z" fill="#fff" stroke="#000" stroke-width="1.2"/>
<path d="M1172.5 616.8L1180.5 631.2L1164.5 631.2Z" fill="#000" stroke="#000" stroke-width="1.2"/><path d="M1180.1 622.9L1188.1 637.3L1172.1 637.3Z" fill="#000" stroke="#000" stroke-width="1.2"/><path d="M1187.6 616.8L1195.6 631.2L1179.6 631.2Z" fill="#000" stroke="#000" stroke-width="1.2"/><path d="M1195.2 610.6L1203.2 625L1187.2 625Z" fill="#000" stroke="#000" stroke-width="1.2"/><path d="M1202.7 616.8L1210.7 631.2L1194.7 631.2Z" fill="#000" stroke="#000" stroke-width="1.2"/><path d="M1210.3 616.8L1218.3 631.2L1202.3 631.2Z" fill="#000" stroke="#000" stroke-width="1.2"/><path d="M1217.8 616.8L1225.8 631.2L1209.8 631.2Z" fill="#000" stroke="#000" stroke-width="1.2"/><path d="M1225.4 610.6L1233.4 625L1217.4 625Z" fill="#000" stroke="#000" stroke-width="1.2"/><path d="M1232.9 619.8L1240.9 634.2L1224.9 634.2Z" fill="#000" stroke="#000" stroke-width="1.2"/><path d="M1240.5 619.8L1248.5 634.2L1232.5 634.2Z" fill="#000" stroke="#000" stroke-width="1.2"/><path d="M1248.1 616.8L1256.1 631.2L1240.1 631.2Z" fill="#000" stroke="#000" stroke-width="1.2"/><path d="M1255.6 616.8L1263.6 631.2L1247.6 631.2Z" fill="#000" stroke="#000" stroke-width="1.2"/><path d="M1263.2 613.7L1271.2 628.1L1255.2 628.1Z" fill="#000" stroke="#000" stroke-width="1.2"/><path d="M1270.7 607.5L1278.7 621.9L1262.7 621.9Z" fill="#000" stroke="#000" stroke-width="1.2"/><path d="M1278.3 613.7L1286.3 628.1L1270.3 628.1Z" fill="#000" stroke="#000" stroke-width="1.2"/><path d="M1285.8 622.9L1293.8 637.3L1277.8 637.3Z" fill="#000" stroke="#000" stroke-width="1.2"/><path d="M1293.4 622.9L1301.4 637.3L1285.4 637.3Z" fill="#000" stroke="#000" stroke-width="1.2"/><path d="M1300.9 610.6L1308.9 625L1292.9 625Z" fill="#000" stroke="#000" stroke-width="1.2"/><path d="M1308.5 610.6L1316.5 625L1300.5 625Z" fill="#000" stroke="#000" stroke-width="1.2"/><path d="M1316.1 613.7L1324.1 628.1L1308.1 628.1Z" fill="#000" stroke="#000" stroke-width="1.2"/><path d="M1323.6 610.6L1331.6 625L1315.6 625Z" fill="#000" stroke="#000" stroke-width="1.2"/><path d="M1331.2 610.6L1339.2 625L1323.2 625Z" fill="#000" stroke="#000" stroke-width="1.2"/><path d="M1338.7 613.7L1346.7 628.1L1330.7 628.1Z" fill="#000" stroke="#000" stroke-width="1.2"/><path d="M1346.3 607.5L1354.3 621.9L1338.3 621.9Z" fill="#000" stroke="#000" stroke-width="1.2"/><path d="M1353.8 610.6L1361.8 625L1345.8 625Z" fill="#000" stroke="#000" stroke-width="1.2"/><path d="M1361.4 592.2L1369.4 606.6L1353.4 606.6Z" fill="#000" stroke="#000" stroke-width="1.2"/><path d="M1368.9 613.7L1376.9 628.1L1360.9 628.1Z" fill="#000" stroke="#000" stroke-width="1.2"/><path d="M1376.5 605.6L1384.5 620L1368.5 620Z" fill="#000" stroke="#000" stroke-width="1.2"/><path d="M1384.1 603.8L1392.1 618.2L1376.1 618.2Z" fill="#000" stroke="#000" stroke-width="1.2"/><path d="M1391.6 597.9L1399.6 612.3L1383.6 612.3Z" fill="#000" stroke="#000" stroke-width="1.2"/><path d="M1399.2 588.9L1407.2 603.3L1391.2 603.3Z" fill="#000" stroke="#000" stroke-width="1.2"/><path d="M1406.7 573.4L1414.7 587.8L1398.7 587.8Z" fill="#000" stroke="#000" stroke-width="1.2"/><path d="M1414.3 554.7L1422.3 569.1L1406.3 569.1Z" fill="#000" stroke="#000" stroke-width="1.2"/><path d="M1421.8 569.3L1429.8 583.7L1413.8 583.7Z" fill="#000" stroke="#000" stroke-width="1.2"/><path d="M1429.4 544.4L1437.4 558.8L1421.4 558.8Z" fill="#000" stroke="#000" stroke-width="1.2"/><path d="M1436.9 545.8L1444.9 560.2L1428.9 560.2Z" fill="#000" stroke="#000" stroke-width="1.2"/><path d="M1444.5 532.1L1452.5 546.5L1436.5 546.5Z" fill="#000" stroke="#000" stroke-width="1.2"/><path d="M1452.1 491L1460.1 505.4L1444.1 505.4Z" fill="#000" stroke="#000" stroke-width="1.2"/><path d="M1459.6 467.7L1467.6 482.1L1451.6 482.1Z" fill="#000" stroke="#000" stroke-width="1.2"/><path d="M1467.2 469.2L1475.2 483.6L1459.2 483.6Z" fill="#000" stroke="#000" stroke-width="1.2"/><path d="M1474.7 474.1L1482.7 488.5L1466.7 488.5Z" fill="#000" stroke="#000" stroke-width="1.2"/><path d="M1482.3 462.4L1490.3 476.8L1474.3 476.8Z" fill="#000" stroke="#000" stroke-width="1.2"/><path d="M1489.8 445.4L1497.8 459.8L1481.8 459.8Z" fill="#000" stroke="#000" stroke-width="1.2"/><path d="M1497.4 421.1L1505.4 435.5L1489.4 435.5Z" fill="#000" stroke="#000" stroke-width="1.2"/><path d="M1504.9 451.7L1512.9 466.1L1496.9 466.1Z" fill="#000" stroke="#000" stroke-width="1.2"/><path d="M1512.5 437.1L1520.5 451.5L1504.5 451.5Z" fill="#000" stroke="#000" stroke-width="1.2"/><path d="M1520.1 419.7L1528.1 434.1L1512.1 434.1Z" fill="#000" stroke="#000" stroke-width="1.2"/><path d="M1527.6 414.4L1535.6 428.8L1519.6 428.8Z" fill="#000" stroke="#000" stroke-width="1.2"/><path d="M1535.2 426.4L1543.2 440.8L1527.2 440.8Z" fill="#000" stroke="#000" stroke-width="1.2"/><path d="M1542.7 439.7L1550.7 454.1L1534.7 454.1Z" fill="#000" stroke="#000" stroke-width="1.2"/><path d="M1550.3 430.4L1558.3 444.8L1542.3 444.8Z" fill="#000" stroke="#000" stroke-width="1.2"/><path d="M1557.8 385.7L1565.8 400.1L1549.8 400.1Z" fill="#000" stroke="#000" stroke-width="1.2"/><path d="M1565.4 405.7L1573.4 420.1L1557.4 420.1Z" fill="#000" stroke="#000" stroke-width="1.2"/><path d="M1572.9 415.1L1580.9 429.5L1564.9 429.5Z" fill="#000" stroke="#000" stroke-width="1.2"/><path d="M1580.5 393.7L1588.5 408.1L1572.5 408.1Z" fill="#000" stroke="#000" stroke-width="1.2"/><path d="M1588.1 417.7L1596.1 432.1L1580.1 432.1Z" fill="#000" stroke="#000" stroke-width="1.2"/><path d="M1595.6 408.4L1603.6 422.8L1587.6 422.8Z" fill="#000" stroke="#000" stroke-width="1.2"/><path d="M1603.2 424.4L1611.2 438.8L1595.2 438.8Z" fill="#000" stroke="#000" stroke-width="1.2"/><path d="M1610.7 373.1L1618.7 387.5L1602.7 387.5Z" fill="#000" stroke="#000" stroke-width="1.2"/><path d="M1618.3 405.7L1626.3 420.1L1610.3 420.1Z" fill="#000" stroke="#000" stroke-width="1.2"/><path d="M1625.8 433.7L1633.8 448.1L1617.8 448.1Z" fill="#000" stroke="#000" stroke-width="1.2"/><path d="M1633.4 355.7L1641.4 370.1L1625.4 370.1Z" fill="#000" stroke="#000" stroke-width="1.2"/><path d="M1640.9 385.7L1648.9 400.1L1632.9 400.1Z" fill="#000" stroke="#000" stroke-width="1.2"/><path d="M1648.5 367.7L1656.5 382.1L1640.5 382.1Z" fill="#000" stroke="#000" stroke-width="1.2"/><path d="M1656.1 445.7L1664.1 460.1L1648.1 460.1Z" fill="#000" stroke="#000" stroke-width="1.2"/><path d="M1663.6 436.4L1671.6 450.8L1655.6 450.8Z" fill="#000" stroke="#000" stroke-width="1.2"/><path d="M1671.2 445.7L1679.2 460.1L1663.2 460.1Z" fill="#000" stroke="#000" stroke-width="1.2"/><path d="M1678.7 476.4L1686.7 490.8L1670.7 490.8Z" fill="#000" stroke="#000" stroke-width="1.2"/><path d="M1686.3 463.1L1694.3 477.5L1678.3 477.5Z" fill="#000" stroke="#000" stroke-width="1.2"/><path d="M1693.8 449.7L1701.8 464.1L1685.8 464.1Z" fill="#000" stroke="#000" stroke-width="1.2"/><path d="M1701.4 418L1709.4 432.4L1693.4 432.4Z" fill="#000" stroke="#000" stroke-width="1.2"/><path d="M1708.9 473.7L1716.9 488.1L1700.9 488.1Z" fill="#000" stroke="#000" stroke-width="1.2"/><path d="M1716.5 491.1L1724.5 505.5L1708.5 505.5Z" fill="#000" stroke="#000" stroke-width="1.2"/><path d="M1724.1 519.1L1732.1 533.5L1716.1 533.5Z" fill="#000" stroke="#000" stroke-width="1.2"/><path d="M1731.6 519.7L1739.6 534.1L1723.6 534.1Z" fill="#000" stroke="#000" stroke-width="1.2"/><path d="M1739.2 525.7L1747.2 540.1L1731.2 540.1Z" fill="#000" stroke="#000" stroke-width="1.2"/><path d="M1746.7 535.2L1754.7 549.6L1738.7 549.6Z" fill="#000" stroke="#000" stroke-width="1.2"/><path d="M1754.3 558.4L1762.3 572.8L1746.3 572.8Z" fill="#000" stroke="#000" stroke-width="1.2"/><path d="M1761.8 575.7L1769.8 590.1L1753.8 590.1Z" fill="#000" stroke="#000" stroke-width="1.2"/><path d="M1769.4 582.4L1777.4 596.8L1761.4 596.8Z" fill="#000" stroke="#000" stroke-width="1.2"/><path d="M1776.9 585.7L1784.9 600.1L1768.9 600.1Z" fill="#000" stroke="#000" stroke-width="1.2"/><path d="M1784.5 601.1L1792.5 615.5L1776.5 615.5Z" fill="#000" stroke="#000" stroke-width="1.2"/><path d="M1792.1 607.5L1800.1 621.9L1784.1 621.9Z" fill="#000" stroke="#000" stroke-width="1.2"/><path d="M1799.6 613.7L1807.6 628.1L1791.6 628.1Z" fill="#000" stroke="#000" stroke-width="1.2"/><path d="M1807.2 622.9L1815.2 637.3L1799.2 637.3Z" fill="#000" stroke="#000" stroke-width="1.2"/><path d="M1814.7 622.9L1822.7 637.3L1806.7 637.3Z" fill="#000" stroke="#000" stroke-width="1.2"/><path d="M1822.3 622.9L1830.3 637.3L1814.3 637.3Z" fill="#000" stroke="#000" stroke-width="1.2"/><path d="M1829.8 622.9L1837.8 637.3L1821.8 637.3Z" fill="#000" stroke="#000" stroke-width="1.2"/><path d="M1837.4 622.9L1845.4 637.3L1829.4 637.3Z" fill="#000" stroke="#000" stroke-width="1.2"/><path d="M1844.9 622.9L1852.9 637.3L1836.9 637.3Z" fill="#000" stroke="#000" stroke-width="1.2"/><path d="M1852.5 622.9L1860.5 637.3L1844.5 637.3Z" fill="#000" stroke="#000" stroke-width="1.2"/><path d="M1860.1 622.9L1868.1 637.3L1852.1 637.3Z" fill="#000" stroke="#000" stroke-width="1.2"/><path d="M1867.6 622.9L1875.6 637.3L1859.6 637.3Z" fill="#000" stroke="#000" stroke-width="1.2"/><path d="M1875.2 622.9L1883.2 637.3L1867.2 637.3Z" fill="#000" stroke="#000" stroke-width="1.2"/><path d="M1882.7 622.9L1890.7 637.3L1874.7 637.3Z" fill="#000" stroke="#000" stroke-width="1.2"/><path d="M1890.3 622.9L1898.3 637.3L1882.3 637.3Z" fill="#000" stroke="#000" stroke-width="1.2"/><path d="M1897.8 622.9L1905.8 637.3L1889.8 637.3Z" fill="#000" stroke="#000" stroke-width="1.2"/><path d="M1905.4 622.9L1913.4 637.3L1897.4 637.3Z" fill="#000" stroke="#000" stroke-width="1.2"/><path d="M1912.9 622.9L1920.9 637.3L1904.9 637.3Z" fill="#000" stroke="#000" stroke-width="1.2"/><path d="M1920.5 622.9L1928.5 637.3L1912.5 637.3Z" fill="#000" stroke="#000" stroke-width="1.2"/><path d="M1928.1 622.9L1936.1 637.3L1920.1 637.3Z" fill="#000" stroke="#000" stroke-width="1.2"/><path d="M1935.6 622.9L1943.6 637.3L1927.6 637.3Z" fill="#000" stroke="#000" stroke-width="1.2"/><path d="M1943.2 622.9L1951.2 637.3L1935.2 637.3Z" fill="#000" stroke="#000" stroke-width="1.2"/><path d="M1950.7 622.9L1958.7 637.3L1942.7 637.3Z" fill="#000" stroke="#000" stroke-width="1.2"/><path d="M1958.3 622.9L1966.3 637.3L1950.3 637.3Z" fill="#000" stroke="#000" stroke-width="1.2"/><path d="M1965.8 622.9L1973.8 637.3L1957.8 637.3Z" fill="#000" stroke="#000" stroke-width="1.2"/><path d="M1973.4 622.9L1981.4 637.3L1965.4 637.3Z" fill="#000" stroke="#000" stroke-width="1.2"/><path d="M1980.9 622.9L1988.9 637.3L1972.9 637.3Z" fill="#000" stroke="#000" stroke-width="1.2"/><path d="M1988.5 622.9L1996.5 637.3L1980.5 637.3Z" fill="#000" stroke="#000" stroke-width="1.2"/><path d="M1996 622.9L2004 637.3L1988 637.3Z" fill="#000" stroke="#000" stroke-width="1.2"/><path d="M2003.6 622.9L2011.6 637.3L1995.6 637.3Z" fill="#000" stroke="#000" stroke-width="1.2"/>
<rect x="1166.3" y="626.3" width="12.4" height="12.4" fill="#fff" stroke="#000" stroke-width="1.2"/><rect x="1173.9" y="614" width="12.4" height="12.4" fill="#fff" stroke="#000" stroke-width="1.2"/><rect x="1181.4" y="620.2" width="12.4" height="12.4" fill="#fff" stroke="#000" stroke-width="1.2"/><rect x="1189" y="620.2" width="12.4" height="12.4" fill="#fff" stroke="#000" stroke-width="1.2"/><rect x="1196.5" y="626.3" width="12.4" height="12.4" fill="#fff" stroke="#000" stroke-width="1.2"/><rect x="1204.1" y="614" width="12.4" height="12.4" fill="#fff" stroke="#000" stroke-width="1.2"/><rect x="1211.6" y="623.2" width="12.4" height="12.4" fill="#fff" stroke="#000" stroke-width="1.2"/><rect x="1219.2" y="620.2" width="12.4" height="12.4" fill="#fff" stroke="#000" stroke-width="1.2"/><rect x="1226.7" y="623.2" width="12.4" height="12.4" fill="#fff" stroke="#000" stroke-width="1.2"/><rect x="1234.3" y="623.2" width="12.4" height="12.4" fill="#fff" stroke="#000" stroke-width="1.2"/><rect x="1241.9" y="614" width="12.4" height="12.4" fill="#fff" stroke="#000" stroke-width="1.2"/><rect x="1249.4" y="620.2" width="12.4" height="12.4" fill="#fff" stroke="#000" stroke-width="1.2"/><rect x="1257" y="614" width="12.4" height="12.4" fill="#fff" stroke="#000" stroke-width="1.2"/><rect x="1264.5" y="620.2" width="12.4" height="12.4" fill="#fff" stroke="#000" stroke-width="1.2"/><rect x="1272.1" y="617.1" width="12.4" height="12.4" fill="#fff" stroke="#000" stroke-width="1.2"/><rect x="1279.6" y="620.2" width="12.4" height="12.4" fill="#fff" stroke="#000" stroke-width="1.2"/><rect x="1287.2" y="617.1" width="12.4" height="12.4" fill="#fff" stroke="#000" stroke-width="1.2"/><rect x="1294.7" y="604.8" width="12.4" height="12.4" fill="#fff" stroke="#000" stroke-width="1.2"/><rect x="1302.3" y="614" width="12.4" height="12.4" fill="#fff" stroke="#000" stroke-width="1.2"/><rect x="1309.9" y="614" width="12.4" height="12.4" fill="#fff" stroke="#000" stroke-width="1.2"/><rect x="1317.4" y="617.1" width="12.4" height="12.4" fill="#fff" stroke="#000" stroke-width="1.2"/><rect x="1325" y="610.9" width="12.4" height="12.4" fill="#fff" stroke="#000" stroke-width="1.2"/><rect x="1332.5" y="607.9" width="12.4" height="12.4" fill="#fff" stroke="#000" stroke-width="1.2"/><rect x="1340.1" y="623.2" width="12.4" height="12.4" fill="#fff" stroke="#000" stroke-width="1.2"/><rect x="1347.6" y="617.1" width="12.4" height="12.4" fill="#fff" stroke="#000" stroke-width="1.2"/><rect x="1355.2" y="587.1" width="12.4" height="12.4" fill="#fff" stroke="#000" stroke-width="1.2"/><rect x="1362.7" y="583.8" width="12.4" height="12.4" fill="#fff" stroke="#000" stroke-width="1.2"/><rect x="1370.3" y="578.8" width="12.4" height="12.4" fill="#fff" stroke="#000" stroke-width="1.2"/><rect x="1377.9" y="572.3" width="12.4" height="12.4" fill="#fff" stroke="#000" stroke-width="1.2"/><rect x="1385.4" y="565.8" width="12.4" height="12.4" fill="#fff" stroke="#000" stroke-width="1.2"/><rect x="1393" y="561.8" width="12.4" height="12.4" fill="#fff" stroke="#000" stroke-width="1.2"/><rect x="1400.5" y="543.8" width="12.4" height="12.4" fill="#fff" stroke="#000" stroke-width="1.2"/><rect x="1408.1" y="533.8" width="12.4" height="12.4" fill="#fff" stroke="#000" stroke-width="1.2"/><rect x="1415.6" y="534.8" width="12.4" height="12.4" fill="#fff" stroke="#000" stroke-width="1.2"/><rect x="1423.2" y="526.3" width="12.4" height="12.4" fill="#fff" stroke="#000" stroke-width="1.2"/><rect x="1430.7" y="507.5" width="12.4" height="12.4" fill="#fff" stroke="#000" stroke-width="1.2"/><rect x="1438.3" y="486.5" width="12.4" height="12.4" fill="#fff" stroke="#000" stroke-width="1.2"/><rect x="1445.9" y="491.1" width="12.4" height="12.4" fill="#fff" stroke="#000" stroke-width="1.2"/><rect x="1453.4" y="498.2" width="12.4" height="12.4" fill="#fff" stroke="#000" stroke-width="1.2"/><rect x="1461" y="457.5" width="12.4" height="12.4" fill="#fff" stroke="#000" stroke-width="1.2"/><rect x="1468.5" y="481.8" width="12.4" height="12.4" fill="#fff" stroke="#000" stroke-width="1.2"/><rect x="1476.1" y="509.8" width="12.4" height="12.4" fill="#fff" stroke="#000" stroke-width="1.2"/><rect x="1483.6" y="508.5" width="12.4" height="12.4" fill="#fff" stroke="#000" stroke-width="1.2"/><rect x="1491.2" y="466.4" width="12.4" height="12.4" fill="#fff" stroke="#000" stroke-width="1.2"/><rect x="1498.7" y="479.1" width="12.4" height="12.4" fill="#fff" stroke="#000" stroke-width="1.2"/><rect x="1506.3" y="471.1" width="12.4" height="12.4" fill="#fff" stroke="#000" stroke-width="1.2"/><rect x="1513.9" y="460.5" width="12.4" height="12.4" fill="#fff" stroke="#000" stroke-width="1.2"/><rect x="1521.4" y="459.3" width="12.4" height="12.4" fill="#fff" stroke="#000" stroke-width="1.2"/><rect x="1529" y="481.8" width="12.4" height="12.4" fill="#fff" stroke="#000" stroke-width="1.2"/><rect x="1536.5" y="415.1" width="12.4" height="12.4" fill="#fff" stroke="#000" stroke-width="1.2"/><rect x="1544.1" y="466.1" width="12.4" height="12.4" fill="#fff" stroke="#000" stroke-width="1.2"/><rect x="1551.6" y="475.3" width="12.4" height="12.4" fill="#fff" stroke="#000" stroke-width="1.2"/><rect x="1559.2" y="426.5" width="12.4" height="12.4" fill="#fff" stroke="#000" stroke-width="1.2"/><rect x="1566.7" y="490.2" width="12.4" height="12.4" fill="#fff" stroke="#000" stroke-width="1.2"/><rect x="1574.3" y="484.6" width="12.4" height="12.4" fill="#fff" stroke="#000" stroke-width="1.2"/><rect x="1581.9" y="447.8" width="12.4" height="12.4" fill="#fff" stroke="#000" stroke-width="1.2"/><rect x="1589.4" y="499.8" width="12.4" height="12.4" fill="#fff" stroke="#000" stroke-width="1.2"/><rect x="1597" y="432.6" width="12.4" height="12.4" fill="#fff" stroke="#000" stroke-width="1.2"/><rect x="1604.5" y="444.6" width="12.4" height="12.4" fill="#fff" stroke="#000" stroke-width="1.2"/><rect x="1612.1" y="475.3" width="12.4" height="12.4" fill="#fff" stroke="#000" stroke-width="1.2"/><rect x="1619.6" y="415.3" width="12.4" height="12.4" fill="#fff" stroke="#000" stroke-width="1.2"/><rect x="1627.2" y="462.3" width="12.4" height="12.4" fill="#fff" stroke="#000" stroke-width="1.2"/><rect x="1634.7" y="474.8" width="12.4" height="12.4" fill="#fff" stroke="#000" stroke-width="1.2"/><rect x="1642.3" y="472.8" width="12.4" height="12.4" fill="#fff" stroke="#000" stroke-width="1.2"/><rect x="1649.9" y="482.2" width="12.4" height="12.4" fill="#fff" stroke="#000" stroke-width="1.2"/><rect x="1657.4" y="463.3" width="12.4" height="12.4" fill="#fff" stroke="#000" stroke-width="1.2"/><rect x="1665" y="499.8" width="12.4" height="12.4" fill="#fff" stroke="#000" stroke-width="1.2"/><rect x="1672.5" y="511.8" width="12.4" height="12.4" fill="#fff" stroke="#000" stroke-width="1.2"/><rect x="1680.1" y="509.1" width="12.4" height="12.4" fill="#fff" stroke="#000" stroke-width="1.2"/><rect x="1687.6" y="495.8" width="12.4" height="12.4" fill="#fff" stroke="#000" stroke-width="1.2"/><rect x="1695.2" y="503.3" width="12.4" height="12.4" fill="#fff" stroke="#000" stroke-width="1.2"/><rect x="1702.7" y="530.1" width="12.4" height="12.4" fill="#fff" stroke="#000" stroke-width="1.2"/><rect x="1710.3" y="519.8" width="12.4" height="12.4" fill="#fff" stroke="#000" stroke-width="1.2"/><rect x="1717.9" y="533.1" width="12.4" height="12.4" fill="#fff" stroke="#000" stroke-width="1.2"/><rect x="1725.4" y="562.3" width="12.4" height="12.4" fill="#fff" stroke="#000" stroke-width="1.2"/><rect x="1733" y="565.8" width="12.4" height="12.4" fill="#fff" stroke="#000" stroke-width="1.2"/><rect x="1740.5" y="577.8" width="12.4" height="12.4" fill="#fff" stroke="#000" stroke-width="1.2"/><rect x="1748.1" y="589.8" width="12.4" height="12.4" fill="#fff" stroke="#000" stroke-width="1.2"/><rect x="1755.6" y="595.1" width="12.4" height="12.4" fill="#fff" stroke="#000" stroke-width="1.2"/><rect x="1763.2" y="593.8" width="12.4" height="12.4" fill="#fff" stroke="#000" stroke-width="1.2"/><rect x="1770.7" y="607.9" width="12.4" height="12.4" fill="#fff" stroke="#000" stroke-width="1.2"/><rect x="1778.3" y="614" width="12.4" height="12.4" fill="#fff" stroke="#000" stroke-width="1.2"/><rect x="1785.9" y="612.5" width="12.4" height="12.4" fill="#fff" stroke="#000" stroke-width="1.2"/><rect x="1793.4" y="620.2" width="12.4" height="12.4" fill="#fff" stroke="#000" stroke-width="1.2"/><rect x="1801" y="626.3" width="12.4" height="12.4" fill="#fff" stroke="#000" stroke-width="1.2"/><rect x="1808.5" y="626.3" width="12.4" height="12.4" fill="#fff" stroke="#000" stroke-width="1.2"/><rect x="1816.1" y="626.3" width="12.4" height="12.4" fill="#fff" stroke="#000" stroke-width="1.2"/><rect x="1823.6" y="626.3" width="12.4" height="12.4" fill="#fff" stroke="#000" stroke-width="1.2"/><rect x="1831.2" y="626.3" width="12.4" height="12.4" fill="#fff" stroke="#000" stroke-width="1.2"/><rect x="1838.7" y="626.3" width="12.4" height="12.4" fill="#fff" stroke="#000" stroke-width="1.2"/><rect x="1846.3" y="626.3" width="12.4" height="12.4" fill="#fff" stroke="#000" stroke-width="1.2"/><rect x="1853.9" y="626.3" width="12.4" height="12.4" fill="#fff" stroke="#000" stroke-width="1.2"/><rect x="1861.4" y="626.3" width="12.4" height="12.4" fill="#fff" stroke="#000" stroke-width="1.2"/><rect x="1869" y="626.3" width="12.4" height="12.4" fill="#fff" stroke="#000" stroke-width="1.2"/><rect x="1876.5" y="626.3" width="12.4" height="12.4" fill="#fff" stroke="#000" stroke-width="1.2"/><rect x="1884.1" y="626.3" width="12.4" height="12.4" fill="#fff" stroke="#000" stroke-width="1.2"/><rect x="1891.6" y="626.3" width="12.4" height="12.4" fill="#fff" stroke="#000" stroke-width="1.2"/><rect x="1899.2" y="626.3" width="12.4" height="12.4" fill="#fff" stroke="#000" stroke-width="1.2"/><rect x="1906.7" y="626.3" width="12.4" height="12.4" fill="#fff" stroke="#000" stroke-width="1.2"/><rect x="1914.3" y="626.3" width="12.4" height="12.4" fill="#fff" stroke="#000" stroke-width="1.2"/><rect x="1921.9" y="626.3" width="12.4" height="12.4" fill="#fff" stroke="#000" stroke-width="1.2"/><rect x="1929.4" y="623.2" width="12.4" height="12.4" fill="#fff" stroke="#000" stroke-width="1.2"/><rect x="1937" y="626.3" width="12.4" height="12.4" fill="#fff" stroke="#000" stroke-width="1.2"/><rect x="1944.5" y="626.3" width="12.4" height="12.4" fill="#fff" stroke="#000" stroke-width="1.2"/><rect x="1952.1" y="626.3" width="12.4" height="12.4" fill="#fff" stroke="#000" stroke-width="1.2"/><rect x="1959.6" y="626.3" width="12.4" height="12.4" fill="#fff" stroke="#000" stroke-width="1.2"/><rect x="1967.2" y="626.3" width="12.4" height="12.4" fill="#fff" stroke="#000" stroke-width="1.2"/><rect x="1974.7" y="626.3" width="12.4" height="12.4" fill="#fff" stroke="#000" stroke-width="1.2"/><rect x="1982.3" y="626.3" width="12.4" height="12.4" fill="#fff" stroke="#000" stroke-width="1.2"/><rect x="1989.8" y="626.3" width="12.4" height="12.4" fill="#fff" stroke="#000" stroke-width="1.2"/><rect x="1997.4" y="626.3" width="12.4" height="12.4" fill="#fff" stroke="#000" stroke-width="1.2"/>
<rect x="1166.3" y="626.3" width="12.4" height="12.4" fill="#000" stroke="#000" stroke-width="1.2"/><rect x="1173.9" y="610.9" width="12.4" height="12.4" fill="#000" stroke="#000" stroke-width="1.2"/><rect x="1181.4" y="617.1" width="12.4" height="12.4" fill="#000" stroke="#000" stroke-width="1.2"/><rect x="1189" y="617.1" width="12.4" height="12.4" fill="#000" stroke="#000" stroke-width="1.2"/><rect x="1196.5" y="623.2" width="12.4" height="12.4" fill="#000" stroke="#000" stroke-width="1.2"/><rect x="1204.1" y="620.2" width="12.4" height="12.4" fill="#000" stroke="#000" stroke-width="1.2"/><rect x="1211.6" y="626.3" width="12.4" height="12.4" fill="#000" stroke="#000" stroke-width="1.2"/><rect x="1219.2" y="620.2" width="12.4" height="12.4" fill="#000" stroke="#000" stroke-width="1.2"/><rect x="1226.7" y="617.1" width="12.4" height="12.4" fill="#000" stroke="#000" stroke-width="1.2"/><rect x="1234.3" y="626.3" width="12.4" height="12.4" fill="#000" stroke="#000" stroke-width="1.2"/><rect x="1241.9" y="610.9" width="12.4" height="12.4" fill="#000" stroke="#000" stroke-width="1.2"/><rect x="1249.4" y="614" width="12.4" height="12.4" fill="#000" stroke="#000" stroke-width="1.2"/><rect x="1257" y="620.2" width="12.4" height="12.4" fill="#000" stroke="#000" stroke-width="1.2"/><rect x="1264.5" y="617.1" width="12.4" height="12.4" fill="#000" stroke="#000" stroke-width="1.2"/><rect x="1272.1" y="620.2" width="12.4" height="12.4" fill="#000" stroke="#000" stroke-width="1.2"/><rect x="1279.6" y="620.2" width="12.4" height="12.4" fill="#000" stroke="#000" stroke-width="1.2"/><rect x="1287.2" y="614" width="12.4" height="12.4" fill="#000" stroke="#000" stroke-width="1.2"/><rect x="1294.7" y="614" width="12.4" height="12.4" fill="#000" stroke="#000" stroke-width="1.2"/><rect x="1302.3" y="614" width="12.4" height="12.4" fill="#000" stroke="#000" stroke-width="1.2"/><rect x="1309.9" y="623.2" width="12.4" height="12.4" fill="#000" stroke="#000" stroke-width="1.2"/><rect x="1317.4" y="620.2" width="12.4" height="12.4" fill="#000" stroke="#000" stroke-width="1.2"/><rect x="1325" y="617.1" width="12.4" height="12.4" fill="#000" stroke="#000" stroke-width="1.2"/><rect x="1332.5" y="610.9" width="12.4" height="12.4" fill="#000" stroke="#000" stroke-width="1.2"/><rect x="1340.1" y="585.6" width="12.4" height="12.4" fill="#000" stroke="#000" stroke-width="1.2"/><rect x="1347.6" y="617.1" width="12.4" height="12.4" fill="#000" stroke="#000" stroke-width="1.2"/><rect x="1355.2" y="610.9" width="12.4" height="12.4" fill="#000" stroke="#000" stroke-width="1.2"/><rect x="1362.7" y="607.9" width="12.4" height="12.4" fill="#000" stroke="#000" stroke-width="1.2"/><rect x="1370.3" y="604" width="12.4" height="12.4" fill="#000" stroke="#000" stroke-width="1.2"/><rect x="1377.9" y="585" width="12.4" height="12.4" fill="#000" stroke="#000" stroke-width="1.2"/><rect x="1385.4" y="587.5" width="12.4" height="12.4" fill="#000" stroke="#000" stroke-width="1.2"/><rect x="1393" y="566.8" width="12.4" height="12.4" fill="#000" stroke="#000" stroke-width="1.2"/><rect x="1400.5" y="571.8" width="12.4" height="12.4" fill="#000" stroke="#000" stroke-width="1.2"/><rect x="1408.1" y="557.9" width="12.4" height="12.4" fill="#000" stroke="#000" stroke-width="1.2"/><rect x="1415.6" y="572.7" width="12.4" height="12.4" fill="#000" stroke="#000" stroke-width="1.2"/><rect x="1423.2" y="553.7" width="12.4" height="12.4" fill="#000" stroke="#000" stroke-width="1.2"/><rect x="1430.7" y="520" width="12.4" height="12.4" fill="#000" stroke="#000" stroke-width="1.2"/><rect x="1438.3" y="526.9" width="12.4" height="12.4" fill="#000" stroke="#000" stroke-width="1.2"/><rect x="1445.9" y="557.8" width="12.4" height="12.4" fill="#000" stroke="#000" stroke-width="1.2"/><rect x="1453.4" y="538.8" width="12.4" height="12.4" fill="#000" stroke="#000" stroke-width="1.2"/><rect x="1461" y="525.8" width="12.4" height="12.4" fill="#000" stroke="#000" stroke-width="1.2"/><rect x="1468.5" y="521.8" width="12.4" height="12.4" fill="#000" stroke="#000" stroke-width="1.2"/><rect x="1476.1" y="524.8" width="12.4" height="12.4" fill="#000" stroke="#000" stroke-width="1.2"/><rect x="1483.6" y="523.1" width="12.4" height="12.4" fill="#000" stroke="#000" stroke-width="1.2"/><rect x="1491.2" y="521.8" width="12.4" height="12.4" fill="#000" stroke="#000" stroke-width="1.2"/><rect x="1498.7" y="512.5" width="12.4" height="12.4" fill="#000" stroke="#000" stroke-width="1.2"/><rect x="1506.3" y="533.8" width="12.4" height="12.4" fill="#000" stroke="#000" stroke-width="1.2"/><rect x="1513.9" y="525.8" width="12.4" height="12.4" fill="#000" stroke="#000" stroke-width="1.2"/><rect x="1521.4" y="536.5" width="12.4" height="12.4" fill="#000" stroke="#000" stroke-width="1.2"/><rect x="1529" y="508.5" width="12.4" height="12.4" fill="#000" stroke="#000" stroke-width="1.2"/><rect x="1536.5" y="509.8" width="12.4" height="12.4" fill="#000" stroke="#000" stroke-width="1.2"/><rect x="1544.1" y="521.8" width="12.4" height="12.4" fill="#000" stroke="#000" stroke-width="1.2"/><rect x="1551.6" y="494.1" width="12.4" height="12.4" fill="#000" stroke="#000" stroke-width="1.2"/><rect x="1559.2" y="518.1" width="12.4" height="12.4" fill="#000" stroke="#000" stroke-width="1.2"/><rect x="1566.7" y="499.4" width="12.4" height="12.4" fill="#000" stroke="#000" stroke-width="1.2"/><rect x="1574.3" y="518.1" width="12.4" height="12.4" fill="#000" stroke="#000" stroke-width="1.2"/><rect x="1581.9" y="468.8" width="12.4" height="12.4" fill="#000" stroke="#000" stroke-width="1.2"/><rect x="1589.4" y="514.8" width="12.4" height="12.4" fill="#000" stroke="#000" stroke-width="1.2"/><rect x="1597" y="514.8" width="12.4" height="12.4" fill="#000" stroke="#000" stroke-width="1.2"/><rect x="1604.5" y="542.4" width="12.4" height="12.4" fill="#000" stroke="#000" stroke-width="1.2"/><rect x="1612.1" y="558.2" width="12.4" height="12.4" fill="#000" stroke="#000" stroke-width="1.2"/><rect x="1619.6" y="508.6" width="12.4" height="12.4" fill="#000" stroke="#000" stroke-width="1.2"/><rect x="1627.2" y="502.8" width="12.4" height="12.4" fill="#000" stroke="#000" stroke-width="1.2"/><rect x="1634.7" y="536.8" width="12.4" height="12.4" fill="#000" stroke="#000" stroke-width="1.2"/><rect x="1642.3" y="496.8" width="12.4" height="12.4" fill="#000" stroke="#000" stroke-width="1.2"/><rect x="1649.9" y="518.2" width="12.4" height="12.4" fill="#000" stroke="#000" stroke-width="1.2"/><rect x="1657.4" y="508.8" width="12.4" height="12.4" fill="#000" stroke="#000" stroke-width="1.2"/><rect x="1665" y="540.2" width="12.4" height="12.4" fill="#000" stroke="#000" stroke-width="1.2"/><rect x="1672.5" y="544.2" width="12.4" height="12.4" fill="#000" stroke="#000" stroke-width="1.2"/><rect x="1680.1" y="548.8" width="12.4" height="12.4" fill="#000" stroke="#000" stroke-width="1.2"/><rect x="1687.6" y="525.3" width="12.4" height="12.4" fill="#000" stroke="#000" stroke-width="1.2"/><rect x="1695.2" y="545.8" width="12.4" height="12.4" fill="#000" stroke="#000" stroke-width="1.2"/><rect x="1702.7" y="519.8" width="12.4" height="12.4" fill="#000" stroke="#000" stroke-width="1.2"/><rect x="1710.3" y="532.2" width="12.4" height="12.4" fill="#000" stroke="#000" stroke-width="1.2"/><rect x="1717.9" y="574.8" width="12.4" height="12.4" fill="#000" stroke="#000" stroke-width="1.2"/><rect x="1725.4" y="579.4" width="12.4" height="12.4" fill="#000" stroke="#000" stroke-width="1.2"/><rect x="1733" y="581.8" width="12.4" height="12.4" fill="#000" stroke="#000" stroke-width="1.2"/><rect x="1740.5" y="597.8" width="12.4" height="12.4" fill="#000" stroke="#000" stroke-width="1.2"/><rect x="1748.1" y="599.9" width="12.4" height="12.4" fill="#000" stroke="#000" stroke-width="1.2"/><rect x="1755.6" y="596.5" width="12.4" height="12.4" fill="#000" stroke="#000" stroke-width="1.2"/><rect x="1763.2" y="609.8" width="12.4" height="12.4" fill="#000" stroke="#000" stroke-width="1.2"/><rect x="1770.7" y="614" width="12.4" height="12.4" fill="#000" stroke="#000" stroke-width="1.2"/><rect x="1778.3" y="612.5" width="12.4" height="12.4" fill="#000" stroke="#000" stroke-width="1.2"/><rect x="1785.9" y="614" width="12.4" height="12.4" fill="#000" stroke="#000" stroke-width="1.2"/><rect x="1793.4" y="623.2" width="12.4" height="12.4" fill="#000" stroke="#000" stroke-width="1.2"/><rect x="1801" y="626.3" width="12.4" height="12.4" fill="#000" stroke="#000" stroke-width="1.2"/><rect x="1808.5" y="626.3" width="12.4" height="12.4" fill="#000" stroke="#000" stroke-width="1.2"/><rect x="1816.1" y="626.3" width="12.4" height="12.4" fill="#000" stroke="#000" stroke-width="1.2"/><rect x="1823.6" y="626.3" width="12.4" height="12.4" fill="#000" stroke="#000" stroke-width="1.2"/><rect x="1831.2" y="626.3" width="12.4" height="12.4" fill="#000" stroke="#000" stroke-width="1.2"/><rect x="1838.7" y="626.3" width="12.4" height="12.4" fill="#000" stroke="#000" stroke-width="1.2"/><rect x="1846.3" y="626.3" width="12.4" height="12.4" fill="#000" stroke="#000" stroke-width="1.2"/><rect x="1853.9" y="626.3" width="12.4" height="12.4" fill="#000" stroke="#000" stroke-width="1.2"/><rect x="1861.4" y="626.3" width="12.4" height="12.4" fill="#000" stroke="#000" stroke-width="1.2"/><rect x="1869" y="626.3" width="12.4" height="12.4" fill="#000" stroke="#000" stroke-width="1.2"/><rect x="1876.5" y="626.3" width="12.4" height="12.4" fill="#000" stroke="#000" stroke-width="1.2"/><rect x="1884.1" y="626.3" width="12.4" height="12.4" fill="#000" stroke="#000" stroke-width="1.2"/><rect x="1891.6" y="626.3" width="12.4" height="12.4" fill="#000" stroke="#000" stroke-width="1.2"/><rect x="1899.2" y="626.3" width="12.4" height="12.4" fill="#000" stroke="#000" stroke-width="1.2"/><rect x="1906.7" y="626.3" width="12.4" height="12.4" fill="#000" stroke="#000" stroke-width="1.2"/><rect x="1914.3" y="626.3" width="12.4" height="12.4" fill="#000" stroke="#000" stroke-width="1.2"/><rect x="1921.9" y="626.3" width="12.4" height="12.4" fill="#000" stroke="#000" stroke-width="1.2"/><rect x="1929.4" y="626.3" width="12.4" height="12.4" fill="#000" stroke="#000" stroke-width="1.2"/><rect x="1937" y="626.3" width="12.4" height="12.4" fill="#000" stroke="#000" stroke-width="1.2"/><rect x="1944.5" y="626.3" width="12.4" height="12.4" fill="#000" stroke="#000" stroke-width="1.2"/><rect x="1952.1" y="626.3" width="12.4" height="12.4" fill="#000" stroke="#000" stroke-width="1.2"/><rect x="1959.6" y="626.3" width="12.4" height="12.4" fill="#000" stroke="#000" stroke-width="1.2"/><rect x="1967.2" y="626.3" width="12.4" height="12.4" fill="#000" stroke="#000" stroke-width="1.2"/><rect x="1974.7" y="626.3" width="12.4" height="12.4" fill="#000" stroke="#000" stroke-width="1.2"/><rect x="1982.3" y="626.3" width="12.4" height="12.4" fill="#000" stroke="#000" stroke-width="1.2"/><rect x="1989.8" y="626.3" width="12.4" height="12.4" fill="#000" stroke="#000" stroke-width="1.2"/><rect x="1997.4" y="626.3" width="12.4" height="12.4" fill="#000" stroke="#000" stroke-width="1.2"/>
<path d="M1172.5 632.7L1180.1 632.7L1187.6 632.7L1195.2 632.7L1202.7 632.7L1210.3 632.7L1217.8 632.7L1225.4 632.7L1232.9 632.7L1240.5 632.7L1248.1 632.7L1255.6 632.7L1263.2 632.7L1270.7 632.7L1278.3 632.7L1285.8 632.7L1293.4 632.7L1300.9 632.7L1308.5 632.7L1316.1 632.7L1323.6 632.7L1331.2 632.7L1338.7 632.7L1346.3 632.7L1353.8 632.7L1361.4 632.7L1368.9 632.7L1376.5 632.7L1384.1 632.7L1391.6 632.7L1399.2 632.7L1406.7 632.7L1414.3 631.8L1421.8 626.3L1429.4 618.9L1436.9 602.9L1444.5 573.1L1452.1 541.3L1459.6 509.3L1467.2 471.2L1474.7 432.9L1482.3 395.4L1489.8 357.6L1497.4 330.9L1504.9 311.4L1512.5 295.8L1520.1 283.7L1527.6 273.3L1535.2 262.9L1542.7 253.7L1550.3 247.7L1557.8 241.8L1565.4 235.8L1572.9 233.2L1580.5 231.1L1588.1 229.5L1595.6 224.6L1603.2 224.5L1610.7 228.3L1618.3 224.9L1625.8 229.9L1633.4 230.6L1640.9 235L1648.5 241.9L1656.1 253.4L1663.6 272.2L1671.2 297.5L1678.7 327.7L1686.3 369.8L1693.8 418.7L1701.4 470.6L1708.9 517.7L1716.5 554.4L1724.1 583.8L1731.6 604.6L1739.2 619.5L1746.7 628L1754.3 631.8L1761.8 632.7L1769.4 632.7L1776.9 632.7L1784.5 632.7L1792.1 632.7L1799.6 632.7L1807.2 632.7L1814.7 632.7L1822.3 632.7L1829.8 632.7L1837.4 632.7L1844.9 632.7L1852.5 632.7L1860.1 632.7L1867.6 632.7L1875.2 632.7L1882.7 632.7L1890.3 632.7L1897.8 632.7L1905.4 632.7L1912.9 632.7L1920.5 632.7L1928.1 632.7L1935.6 632.7L1943.2 632.7L1950.7 632.7L1958.3 632.7L1965.8 632.7L1973.4 632.7L1980.9 632.7L1988.5 632.7L1996 632.7L2003.6 632.7" fill="none" stroke="#f00" stroke-width="3.4" stroke-linejoin="round" stroke-linecap="butt"/>
<path d="M1172.5 632.7L1180.1 632.7L1187.6 632.7L1195.2 632.7L1202.7 632.7L1210.3 632.7L1217.8 632.7L1225.4 632.7L1232.9 632.7L1240.5 632.7L1248.1 632.7L1255.6 632.7L1263.2 632.7L1270.7 632.7L1278.3 632.7L1285.8 632.7L1293.4 632.7L1300.9 632.7L1308.5 632.7L1316.1 632.7L1323.6 632.7L1331.2 632.7L1338.7 632.7L1346.3 632.7L1353.8 632.7L1361.4 632.7L1368.9 632.7L1376.5 632.7L1384.1 632.7L1391.6 629.5L1399.2 624.2L1406.7 612.9L1414.3 593.9L1421.8 575.1L1429.4 556.1L1436.9 537.1L1444.5 509.3L1452.1 481L1459.6 452L1467.2 417.7L1474.7 382.6L1482.3 363.5L1489.8 355.7L1497.4 352.5L1504.9 350.1L1512.5 347.9L1520.1 345.2L1527.6 337.7L1535.2 326.3L1542.7 314.1L1550.3 304.6L1557.8 299.7L1565.4 295.7L1572.9 291.9L1580.5 289.1L1588.1 291.6L1595.6 294.1L1603.2 296L1610.7 297.9L1618.3 300.1L1625.8 303L1633.4 309.5L1640.9 308.7L1648.5 307.3L1656.1 309.2L1663.6 310.3L1671.2 310.7L1678.7 326.1L1686.3 374.1L1693.8 426.4L1701.4 477.2L1708.9 523L1716.5 558.8L1724.1 587.4L1731.6 607.2L1739.2 621.3L1746.7 628.9L1754.3 632.1L1761.8 632.7L1769.4 632.7L1776.9 632.7L1784.5 632.7L1792.1 632.7L1799.6 632.7L1807.2 632.7L1814.7 632.7L1822.3 632.7L1829.8 632.7L1837.4 632.7L1844.9 632.7L1852.5 632.7L1860.1 632.7L1867.6 632.7L1875.2 632.7L1882.7 632.7L1890.3 632.7L1897.8 632.7L1905.4 632.7L1912.9 632.7L1920.5 632.7L1928.1 632.7L1935.6 632.7L1943.2 632.7L1950.7 632.7L1958.3 632.7L1965.8 632.7L1973.4 632.7L1980.9 632.7L1988.5 632.7L1996 632.7L2003.6 632.7" fill="none" stroke="#f00" stroke-width="3.4" stroke-linejoin="round" stroke-linecap="butt"/>
<path d="M1172.5 632.7L1180.1 632.7L1187.6 632.7L1195.2 632.7L1202.7 632.7L1210.3 632.7L1217.8 632.7L1225.4 632.7L1232.9 632.7L1240.5 632.7L1248.1 632.7L1255.6 632.7L1263.2 632.7L1270.7 632.7L1278.3 632.7L1285.8 632.7L1293.4 632.7L1300.9 632.7L1308.5 632.7L1316.1 632.7L1323.6 632.7L1331.2 632.7L1338.7 632.7L1346.3 632.7L1353.8 632.7L1361.4 632.7L1368.9 632.7L1376.5 632.7L1384.1 632.1L1391.6 627.9L1399.2 620L1406.7 606.9L1414.3 588.5L1421.8 570.1L1429.4 551.1L1436.9 530.8L1444.5 506.4L1452.1 481.3L1459.6 455.4L1467.2 426.3L1474.7 414L1482.3 403.3L1489.8 392.7L1497.4 393.3L1504.9 389.9L1512.5 386L1520.1 376L1527.6 369.2L1535.2 361.6L1542.7 352L1550.3 340.9L1557.8 329L1565.4 325.5L1572.9 326.3L1580.5 322.1L1588.1 324.1L1595.6 325L1603.2 325.5L1610.7 334.6L1618.3 344.6L1625.8 353.6L1633.4 359.1L1640.9 364.2L1648.5 369.8L1656.1 376.2L1663.6 383.6L1671.2 392.5L1678.7 417.9L1686.3 458L1693.8 495.8L1701.4 533.6L1708.9 571.4L1716.5 603.2L1724.1 620.8L1731.6 627.9L1739.2 631.3L1746.7 632.7L1754.3 632.7L1761.8 632.7L1769.4 632.7L1776.9 632.7L1784.5 632.7L1792.1 632.7L1799.6 632.7L1807.2 632.7L1814.7 632.7L1822.3 632.7L1829.8 632.7L1837.4 632.7L1844.9 632.7L1852.5 632.7L1860.1 632.7L1867.6 632.7L1875.2 632.7L1882.7 632.7L1890.3 632.7L1897.8 632.7L1905.4 632.7L1912.9 632.7L1920.5 632.7L1928.1 632.7L1935.6 632.7L1943.2 632.7L1950.7 632.7L1958.3 632.7L1965.8 632.7L1973.4 632.7L1980.9 632.7L1988.5 632.7L1996 632.7L2003.6 632.7" fill="none" stroke="#f00" stroke-width="3.4" stroke-linejoin="round" stroke-linecap="butt"/>
<path d="M1172.5 632.7L1180.1 632.7L1187.6 632.7L1195.2 632.7L1202.7 632.7L1210.3 632.7L1217.8 632.7L1225.4 632.7L1232.9 632.7L1240.5 632.7L1248.1 632.7L1255.6 632.7L1263.2 632.7L1270.7 632.7L1278.3 632.7L1285.8 632.7L1293.4 632.7L1300.9 632.7L1308.5 632.7L1316.1 632.7L1323.6 632.7L1331.2 632.7L1338.7 632.7L1346.3 632.7L1353.8 632.7L1361.4 632.7L1368.9 632.7L1376.5 632.7L1384.1 632.7L1391.6 629.6L1399.2 624.5L1406.7 616L1414.3 604.7L1421.8 593.1L1429.4 581.7L1436.9 559.5L1444.5 529.5L1452.1 500.1L1459.6 485.5L1467.2 483.6L1474.7 481.3L1482.3 480.7L1489.8 479.4L1497.4 475.6L1504.9 471.9L1512.5 464.9L1520.1 454.9L1527.6 445.8L1535.2 435.8L1542.7 422.5L1550.3 414.1L1557.8 404.2L1565.4 403.7L1572.9 405.7L1580.5 407.3L1588.1 408.5L1595.6 406.6L1603.2 408.2L1610.7 413L1618.3 419.8L1625.8 422.9L1633.4 425.4L1640.9 427.9L1648.5 430.4L1656.1 433.2L1663.6 436.3L1671.2 441.3L1678.7 452.7L1686.3 479.2L1693.8 514.5L1701.4 547.5L1708.9 577L1716.5 600.4L1724.1 616.7L1731.6 626.8L1739.2 630.7L1746.7 632.5L1754.3 632.7L1761.8 632.7L1769.4 632.7L1776.9 632.7L1784.5 632.7L1792.1 632.7L1799.6 632.7L1807.2 632.7L1814.7 632.7L1822.3 632.7L1829.8 632.7L1837.4 632.7L1844.9 632.7L1852.5 632.7L1860.1 632.7L1867.6 632.7L1875.2 632.7L1882.7 632.7L1890.3 632.7L1897.8 632.7L1905.4 632.7L1912.9 632.7L1920.5 632.7L1928.1 632.7L1935.6 632.7L1943.2 632.7L1950.7 632.7L1958.3 632.7L1965.8 632.7L1973.4 632.7L1980.9 632.7L1988.5 632.7L1996 632.7L2003.6 632.7" fill="none" stroke="#f00" stroke-width="3.4" stroke-linejoin="round" stroke-linecap="butt"/>
<path d="M1172.5 632.7L1180.1 632.7L1187.6 632.7L1195.2 632.7L1202.7 632.7L1210.3 632.7L1217.8 632.7L1225.4 632.7L1232.9 632.7L1240.5 632.7L1248.1 632.7L1255.6 632.7L1263.2 632.7L1270.7 632.7L1278.3 632.7L1285.8 632.7L1293.4 632.7L1300.9 632.7L1308.5 632.7L1316.1 632.7L1323.6 632.7L1331.2 632.7L1338.7 632.7L1346.3 632.7L1353.8 632.7L1361.4 632.7L1368.9 632.7L1376.5 632.7L1384.1 632.7L1391.6 631L1399.2 627.4L1406.7 620L1414.3 610.9L1421.8 599.1L1429.4 587.6L1436.9 565.1L1444.5 538.5L1452.1 512.2L1459.6 500.8L1467.2 497.4L1474.7 496.3L1482.3 495.2L1489.8 492.4L1497.4 487.8L1504.9 482.5L1512.5 478.7L1520.1 475L1527.6 469.4L1535.2 460.9L1542.7 461.9L1550.3 455L1557.8 451.4L1565.4 453.8L1572.9 448.2L1580.5 451.7L1588.1 460L1595.6 461L1603.2 462L1610.7 465.1L1618.3 468.3L1625.8 470.6L1633.4 473.1L1640.9 477.5L1648.5 481.9L1656.1 483.5L1663.6 485.8L1671.2 491.7L1678.7 503.7L1686.3 521.4L1693.8 541.5L1701.4 561.7L1708.9 581.9L1716.5 602.1L1724.1 617.4L1731.6 626.3L1739.2 631.3L1746.7 632.5L1754.3 632.7L1761.8 632.7L1769.4 632.7L1776.9 632.7L1784.5 632.7L1792.1 632.7L1799.6 632.7L1807.2 632.7L1814.7 632.7L1822.3 632.7L1829.8 632.7L1837.4 632.7L1844.9 632.7L1852.5 632.7L1860.1 632.7L1867.6 632.7L1875.2 632.7L1882.7 632.7L1890.3 632.7L1897.8 632.7L1905.4 632.7L1912.9 632.7L1920.5 632.7L1928.1 632.7L1935.6 632.7L1943.2 632.7L1950.7 632.7L1958.3 632.7L1965.8 632.7L1973.4 632.7L1980.9 632.7L1988.5 632.7L1996 632.7L2003.6 632.7" fill="none" stroke="#f00" stroke-width="3.4" stroke-linejoin="round" stroke-linecap="butt"/>
<path d="M1172.5 632.7L1180.1 632.7L1187.6 632.7L1195.2 632.7L1202.7 632.7L1210.3 632.7L1217.8 632.7L1225.4 632.7L1232.9 632.7L1240.5 632.7L1248.1 632.7L1255.6 632.7L1263.2 632.7L1270.7 632.7L1278.3 632.7L1285.8 632.7L1293.4 632.7L1300.9 632.7L1308.5 632.7L1316.1 632.7L1323.6 632.7L1331.2 632.7L1338.7 632.7L1346.3 632.7L1353.8 632.7L1361.4 632.7L1368.9 632.7L1376.5 632.7L1384.1 632.7L1391.6 632.7L1399.2 632.7L1406.7 631.9L1414.3 628.6L1421.8 622.4L1429.4 613.2L1436.9 597.7L1444.5 581L1452.1 562.3L1459.6 548.4L1467.2 540.4L1474.7 530.8L1482.3 525.9L1489.8 523.4L1497.4 522.1L1504.9 522.4L1512.5 522.9L1520.1 523.4L1527.6 523.8L1535.2 524.3L1542.7 524.8L1550.3 525.2L1557.8 525.2L1565.4 525.2L1572.9 525.2L1580.5 525.5L1588.1 526.1L1595.6 526.7L1603.2 527.3L1610.7 524.5L1618.3 521.6L1625.8 521L1633.4 520.8L1640.9 522.1L1648.5 524L1656.1 522.3L1663.6 521.2L1671.2 522.6L1678.7 526.3L1686.3 533.8L1693.8 545.2L1701.4 561L1708.9 578.6L1716.5 597L1724.1 614.6L1731.6 625.8L1739.2 631.3L1746.7 632.5L1754.3 632.7L1761.8 632.7L1769.4 632.7L1776.9 632.7L1784.5 632.7L1792.1 632.7L1799.6 632.7L1807.2 632.7L1814.7 632.7L1822.3 632.7L1829.8 632.7L1837.4 632.7L1844.9 632.7L1852.5 632.7L1860.1 632.7L1867.6 632.7L1875.2 632.7L1882.7 632.7L1890.3 632.7L1897.8 632.7L1905.4 632.7L1912.9 632.7L1920.5 632.7L1928.1 632.7L1935.6 632.7L1943.2 632.7L1950.7 632.7L1958.3 632.7L1965.8 632.7L1973.4 632.7L1980.9 632.7L1988.5 632.7L1996 632.7L2003.6 632.7" fill="none" stroke="#f00" stroke-width="3.4" stroke-linejoin="round" stroke-linecap="butt"/>
</g>
<rect x="1172.5" y="633.15" width="831.1" height="0.5" fill="#000"/>
<rect x="1192.3" y="37.5" width="231.1" height="268.3" fill="#fff" stroke="#222" stroke-width="1.1"/><circle cx="1236" cy="59.2" r="7.2" fill="#fff" stroke="#000" stroke-width="1.2"/><text transform="translate(1278.2,69.4) scale(1,1.045)" font-size="30.8" font-weight="normal" text-anchor="start" fill="#000">0 mm</text><circle cx="1236" cy="96.7" r="7.2" fill="#000" stroke="#000" stroke-width="1.2"/><text transform="translate(1278.2,106.9) scale(1,1.045)" font-size="30.8" font-weight="normal" text-anchor="start" fill="#000">4 mm</text><path d="M1236 123.9L1244 138.4L1228 138.4Z" fill="#fff" stroke="#000" stroke-width="1.2"/><text transform="translate(1278.2,144.3) scale(1,1.045)" font-size="30.8" font-weight="normal" text-anchor="start" fill="#000">8 mm</text><path d="M1236 161.4L1244 175.9L1228 175.9Z" fill="#000" stroke="#000" stroke-width="1.2"/><text transform="translate(1278.2,181.8) scale(1,1.045)" font-size="30.8" font-weight="normal" text-anchor="start" fill="#000">12 mm</text><rect x="1229.9" y="202.9" width="12.2" height="12.2" fill="#fff" stroke="#000" stroke-width="1.2"/><text transform="translate(1278.2,219.2) scale(1,1.045)" font-size="30.8" font-weight="normal" text-anchor="start" fill="#000">16 mm</text><rect x="1229.9" y="240.3" width="12.2" height="12.2" fill="#000" stroke="#000" stroke-width="1.2"/><text transform="translate(1278.2,256.6) scale(1,1.045)" font-size="30.8" font-weight="normal" text-anchor="start" fill="#000">20 mm</text><line x1="1202.5" y1="284.8" x2="1270.5" y2="284.8" stroke="#f00" stroke-width="3.5" stroke-linecap="round"/><text transform="translate(1278.2,294.1) scale(1,1.045)" font-size="30.8" font-weight="normal" text-anchor="start" fill="#000">Simulated</text>
<text transform="translate(1638.5,86.8) scale(1,1.035)" font-size="37.7" font-weight="bold" text-anchor="start" fill="#00f">1.6 MeV He<tspan dy="-17" dx="1" font-size="25">+</tspan><tspan dy="17" dx="1"> ERDA</tspan></text>
<text transform="translate(1688,165) scale(1,1.035)" font-size="31.5" font-weight="bold" text-anchor="start" fill="#000">H</text>
<line x1="1698.7" y1="180" x2="1698.7" y2="212" stroke="#000" stroke-width="1.1" stroke-linecap="butt"/><path d="M1694.3 210L1703.1 210L1698.7 224Z" fill="#000"/>
<text transform="translate(1206.9,535.4) scale(1,1.0)" font-size="49.6" font-weight="bold" text-anchor="start" fill="#000">(b)</text>
<text transform="translate(1587.6,746.6) scale(1,1.035)" font-size="37.5" font-weight="bold" text-anchor="middle" fill="#000">Channels</text>
<text transform="translate(1059.3,312.5) rotate(-90) scale(1,1.035)" font-size="39" font-weight="bold" text-anchor="middle">Yield (counts)</text>
</g>
</svg>
</body></html>
